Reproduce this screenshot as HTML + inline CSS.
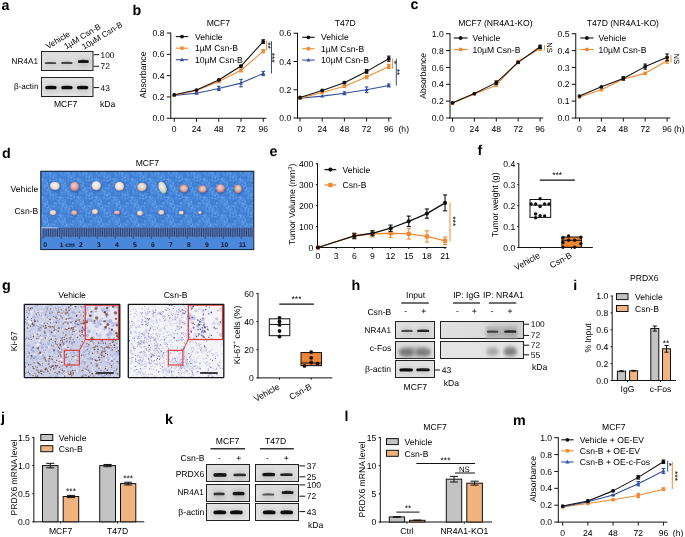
<!DOCTYPE html>
<html><head><meta charset="utf-8"><style>
html,body{margin:0;padding:0;background:#fff;width:685px;height:537px;overflow:hidden;}
svg{display:block;font-family:"Liberation Sans",sans-serif;text-rendering:geometricPrecision;will-change:transform;}
</style></head><body>
<svg width="685" height="537" viewBox="0 0 685 537" font-family="Liberation Sans, sans-serif" font-size="8.6" fill="#000"><defs><filter id="b1" x="-50%" y="-200%" width="200%" height="500%"><feGaussianBlur stdDeviation="0.6"/></filter><filter id="b2" x="-50%" y="-200%" width="200%" height="500%"><feGaussianBlur stdDeviation="1.0 1.4"/></filter><filter id="b3" x="-50%" y="-200%" width="200%" height="500%"><feGaussianBlur stdDeviation="1.6 2.2"/></filter><linearGradient id="gb" x1="0" y1="0" x2="0" y2="1"><stop offset="0" stop-color="#dcdcdc"/><stop offset="0.5" stop-color="#e0e0e0"/><stop offset="1" stop-color="#dadada"/></linearGradient><linearGradient id="gb2" x1="0" y1="0" x2="0" y2="1"><stop offset="0" stop-color="#e2e2e2"/><stop offset="1" stop-color="#e4e4e4"/></linearGradient><filter id="bh" x="-50%" y="-200%" width="200%" height="500%"><feGaussianBlur stdDeviation="2.2 2.8"/></filter><filter id="bc" x="-50%" y="-200%" width="200%" height="500%"><feGaussianBlur stdDeviation="0.75 0.55"/></filter><pattern id="cloth" width="18" height="18" patternUnits="userSpaceOnUse"><rect width="18" height="18" fill="#4886da"/><rect x="0.0" y="0.0" width="1.5" height="1.5" fill="#5592e0"/><rect x="0.0" y="1.5" width="1.5" height="1.5" fill="#3e7cd2"/><rect x="0.0" y="3.0" width="1.5" height="1.5" fill="#3e7cd2"/><rect x="0.0" y="4.5" width="1.5" height="1.5" fill="#60a0e8"/><rect x="0.0" y="7.5" width="1.5" height="1.5" fill="#5592e0"/><rect x="0.0" y="9.0" width="1.5" height="1.5" fill="#5592e0"/><rect x="0.0" y="12.0" width="1.5" height="1.5" fill="#5592e0"/><rect x="0.0" y="13.5" width="1.5" height="1.5" fill="#5592e0"/><rect x="0.0" y="16.5" width="1.5" height="1.5" fill="#3e7cd2"/><rect x="1.5" y="1.5" width="1.5" height="1.5" fill="#3e7cd2"/><rect x="1.5" y="4.5" width="1.5" height="1.5" fill="#5592e0"/><rect x="1.5" y="9.0" width="1.5" height="1.5" fill="#3e7cd2"/><rect x="1.5" y="13.5" width="1.5" height="1.5" fill="#5592e0"/><rect x="1.5" y="16.5" width="1.5" height="1.5" fill="#60a0e8"/><rect x="3.0" y="0.0" width="1.5" height="1.5" fill="#3e7cd2"/><rect x="3.0" y="1.5" width="1.5" height="1.5" fill="#5592e0"/><rect x="3.0" y="4.5" width="1.5" height="1.5" fill="#3e7cd2"/><rect x="3.0" y="12.0" width="1.5" height="1.5" fill="#3e7cd2"/><rect x="3.0" y="15.0" width="1.5" height="1.5" fill="#3e7cd2"/><rect x="4.5" y="1.5" width="1.5" height="1.5" fill="#5592e0"/><rect x="4.5" y="3.0" width="1.5" height="1.5" fill="#5592e0"/><rect x="4.5" y="4.5" width="1.5" height="1.5" fill="#5592e0"/><rect x="4.5" y="7.5" width="1.5" height="1.5" fill="#3e7cd2"/><rect x="4.5" y="10.5" width="1.5" height="1.5" fill="#3e7cd2"/><rect x="4.5" y="12.0" width="1.5" height="1.5" fill="#3e7cd2"/><rect x="4.5" y="13.5" width="1.5" height="1.5" fill="#3e7cd2"/><rect x="4.5" y="15.0" width="1.5" height="1.5" fill="#3e7cd2"/><rect x="4.5" y="16.5" width="1.5" height="1.5" fill="#60a0e8"/><rect x="6.0" y="0.0" width="1.5" height="1.5" fill="#60a0e8"/><rect x="6.0" y="10.5" width="1.5" height="1.5" fill="#5592e0"/><rect x="6.0" y="16.5" width="1.5" height="1.5" fill="#60a0e8"/><rect x="7.5" y="1.5" width="1.5" height="1.5" fill="#5592e0"/><rect x="7.5" y="4.5" width="1.5" height="1.5" fill="#60a0e8"/><rect x="7.5" y="6.0" width="1.5" height="1.5" fill="#5592e0"/><rect x="7.5" y="7.5" width="1.5" height="1.5" fill="#5592e0"/><rect x="7.5" y="12.0" width="1.5" height="1.5" fill="#5592e0"/><rect x="7.5" y="15.0" width="1.5" height="1.5" fill="#3e7cd2"/><rect x="7.5" y="16.5" width="1.5" height="1.5" fill="#5592e0"/><rect x="9.0" y="0.0" width="1.5" height="1.5" fill="#5592e0"/><rect x="9.0" y="4.5" width="1.5" height="1.5" fill="#5592e0"/><rect x="9.0" y="6.0" width="1.5" height="1.5" fill="#60a0e8"/><rect x="9.0" y="7.5" width="1.5" height="1.5" fill="#5592e0"/><rect x="9.0" y="10.5" width="1.5" height="1.5" fill="#3e7cd2"/><rect x="9.0" y="15.0" width="1.5" height="1.5" fill="#3e7cd2"/><rect x="10.5" y="0.0" width="1.5" height="1.5" fill="#3e7cd2"/><rect x="10.5" y="1.5" width="1.5" height="1.5" fill="#5592e0"/><rect x="10.5" y="3.0" width="1.5" height="1.5" fill="#60a0e8"/><rect x="10.5" y="4.5" width="1.5" height="1.5" fill="#5592e0"/><rect x="10.5" y="6.0" width="1.5" height="1.5" fill="#5592e0"/><rect x="10.5" y="7.5" width="1.5" height="1.5" fill="#3e7cd2"/><rect x="10.5" y="9.0" width="1.5" height="1.5" fill="#60a0e8"/><rect x="10.5" y="10.5" width="1.5" height="1.5" fill="#5592e0"/><rect x="10.5" y="12.0" width="1.5" height="1.5" fill="#5592e0"/><rect x="10.5" y="15.0" width="1.5" height="1.5" fill="#3e7cd2"/><rect x="12.0" y="1.5" width="1.5" height="1.5" fill="#3e7cd2"/><rect x="12.0" y="3.0" width="1.5" height="1.5" fill="#3e7cd2"/><rect x="12.0" y="4.5" width="1.5" height="1.5" fill="#3e7cd2"/><rect x="12.0" y="7.5" width="1.5" height="1.5" fill="#60a0e8"/><rect x="12.0" y="9.0" width="1.5" height="1.5" fill="#60a0e8"/><rect x="12.0" y="13.5" width="1.5" height="1.5" fill="#3e7cd2"/><rect x="12.0" y="15.0" width="1.5" height="1.5" fill="#3e7cd2"/><rect x="13.5" y="0.0" width="1.5" height="1.5" fill="#5592e0"/><rect x="13.5" y="1.5" width="1.5" height="1.5" fill="#3e7cd2"/><rect x="13.5" y="4.5" width="1.5" height="1.5" fill="#3e7cd2"/><rect x="13.5" y="6.0" width="1.5" height="1.5" fill="#3e7cd2"/><rect x="13.5" y="7.5" width="1.5" height="1.5" fill="#5592e0"/><rect x="13.5" y="9.0" width="1.5" height="1.5" fill="#3e7cd2"/><rect x="13.5" y="10.5" width="1.5" height="1.5" fill="#60a0e8"/><rect x="13.5" y="12.0" width="1.5" height="1.5" fill="#5592e0"/><rect x="13.5" y="13.5" width="1.5" height="1.5" fill="#60a0e8"/><rect x="13.5" y="16.5" width="1.5" height="1.5" fill="#5592e0"/><rect x="15.0" y="1.5" width="1.5" height="1.5" fill="#3e7cd2"/><rect x="15.0" y="4.5" width="1.5" height="1.5" fill="#3e7cd2"/><rect x="15.0" y="9.0" width="1.5" height="1.5" fill="#5592e0"/><rect x="15.0" y="10.5" width="1.5" height="1.5" fill="#5592e0"/><rect x="15.0" y="15.0" width="1.5" height="1.5" fill="#5592e0"/><rect x="15.0" y="16.5" width="1.5" height="1.5" fill="#3e7cd2"/><rect x="16.5" y="0.0" width="1.5" height="1.5" fill="#60a0e8"/><rect x="16.5" y="1.5" width="1.5" height="1.5" fill="#3e7cd2"/><rect x="16.5" y="3.0" width="1.5" height="1.5" fill="#3e7cd2"/><rect x="16.5" y="4.5" width="1.5" height="1.5" fill="#3e7cd2"/><rect x="16.5" y="6.0" width="1.5" height="1.5" fill="#3e7cd2"/><rect x="16.5" y="7.5" width="1.5" height="1.5" fill="#60a0e8"/><rect x="16.5" y="9.0" width="1.5" height="1.5" fill="#3e7cd2"/><rect x="16.5" y="10.5" width="1.5" height="1.5" fill="#3e7cd2"/><rect x="16.5" y="13.5" width="1.5" height="1.5" fill="#5592e0"/><rect x="16.5" y="15.0" width="1.5" height="1.5" fill="#60a0e8"/></pattern><radialGradient id="tw" cx="0.45" cy="0.4" r="0.6"><stop offset="0" stop-color="#fbf6ee"/><stop offset="0.7" stop-color="#eadcd0"/><stop offset="1" stop-color="#c9a9a0"/></radialGradient><radialGradient id="tp" cx="0.45" cy="0.4" r="0.6"><stop offset="0" stop-color="#f3d6d2"/><stop offset="0.6" stop-color="#dca3a0"/><stop offset="1" stop-color="#b87470"/></radialGradient><radialGradient id="tr" cx="0.5" cy="0.45" r="0.6"><stop offset="0" stop-color="#f0dcd4"/><stop offset="0.55" stop-color="#d8a8a0"/><stop offset="1" stop-color="#a86060"/></radialGradient><filter id="sh" x="-50%" y="-50%" width="200%" height="200%"><feGaussianBlur stdDeviation="0.9"/></filter><radialGradient id="tc" cx="0.45" cy="0.4" r="0.6"><stop offset="0" stop-color="#f6ece2"/><stop offset="0.7" stop-color="#e2c8b8"/><stop offset="1" stop-color="#b89084"/></radialGradient><radialGradient id="tg" cx="0.45" cy="0.4" r="0.6"><stop offset="0" stop-color="#f4f1e6"/><stop offset="0.7" stop-color="#d5d8c4"/><stop offset="1" stop-color="#a9b3a8"/></radialGradient><clipPath id="c24"><rect x="24.5" y="304.5" width="95.3" height="73.2"/></clipPath><clipPath id="c85"><rect x="85.5" y="304.5" width="33.8" height="35"/></clipPath><clipPath id="c128"><rect x="128.5" y="304.5" width="95" height="73.2"/></clipPath><clipPath id="c188"><rect x="188.5" y="304.5" width="34.6" height="35"/></clipPath><linearGradient id="gip" x1="0" y1="0" x2="1" y2="0"><stop offset="0" stop-color="#e0e0e0"/><stop offset="0.5" stop-color="#dcdcdc"/><stop offset="0.7" stop-color="#d2d2d2"/><stop offset="1" stop-color="#d0d0d0"/></linearGradient></defs><rect width="685" height="537" fill="#fff"/><text x="1.6" y="9.6" font-size="14.3" font-weight="bold">a</text>
<text x="48" y="49.3" font-size="8.2" transform="rotate(-31 48 49.3)">Vehicle</text>
<text x="66.2" y="49.3" font-size="8.2" transform="rotate(-31 66.2 49.3)">1µM Csn-B</text>
<text x="84" y="49.8" font-size="8.2" transform="rotate(-31 84 49.8)">10µM Csn-B</text>
<text x="38" y="64" font-size="8.2" text-anchor="end">NR4A1</text>
<text x="38.4" y="89.2" font-size="8.1" text-anchor="end">β-actin</text>
<rect x="41.5" y="51.5" width="51.5" height="19" fill="url(#gb)" stroke="#222" stroke-width="1"/>
<ellipse cx="50.6" cy="64" rx="7.75" ry="4.1" fill="#000" opacity="0.06" filter="url(#bh)"/>
<path d="M45.45 62.26 Q50.6 61.66 55.75 62.26 A1.1 1.1 0 0 1 55.75 64.1 Q50.6 63.98 45.45 64.1 A1.1 1.1 0 0 1 45.45 62.26Z" fill="#4a4a4a" filter="url(#bc)"/>
<ellipse cx="66.9" cy="63.9" rx="7.75" ry="4.15" fill="#000" opacity="0.06" filter="url(#bh)"/>
<path d="M61.8 62.11 Q66.9 61.51 72 62.11 A1.15 1.15 0 0 1 72 64.05 Q66.9 63.93 61.8 64.05 A1.15 1.15 0 0 1 61.8 62.11Z" fill="#444" filter="url(#bc)"/>
<ellipse cx="83.4" cy="62.4" rx="7.75" ry="4.6" fill="#000" opacity="0.12" filter="url(#bh)"/>
<path d="M78.75 60.16 Q83.4 59.56 88.05 60.16 A1.6 1.6 0 0 1 88.05 63 Q83.4 62.88 78.75 63 A1.6 1.6 0 0 1 78.75 60.16Z" fill="#141414" filter="url(#bc)"/>
<rect x="41.5" y="77.5" width="51.5" height="19" fill="url(#gb2)" stroke="#222" stroke-width="1"/>
<ellipse cx="50.9" cy="88.4" rx="8" ry="4.8" fill="#000" opacity="0.1" filter="url(#bh)"/>
<path d="M46.2 85.96 Q50.9 85.36 55.6 85.96 A1.8 1.8 0 0 1 55.6 89.2 Q50.9 89.08 46.2 89.2 A1.8 1.8 0 0 1 46.2 85.96Z" fill="#0c0c0c" filter="url(#bc)"/>
<ellipse cx="66.9" cy="88.4" rx="8" ry="4.8" fill="#000" opacity="0.1" filter="url(#bh)"/>
<path d="M62.2 85.96 Q66.9 85.36 71.6 85.96 A1.8 1.8 0 0 1 71.6 89.2 Q66.9 89.08 62.2 89.2 A1.8 1.8 0 0 1 62.2 85.96Z" fill="#0c0c0c" filter="url(#bc)"/>
<ellipse cx="82.6" cy="88.4" rx="8" ry="4.8" fill="#000" opacity="0.1" filter="url(#bh)"/>
<path d="M77.9 85.96 Q82.6 85.36 87.3 85.96 A1.8 1.8 0 0 1 87.3 89.2 Q82.6 89.08 77.9 89.2 A1.8 1.8 0 0 1 77.9 85.96Z" fill="#0c0c0c" filter="url(#bc)"/>
<line x1="93.6" y1="54.7" x2="99.2" y2="54.7" stroke="#111" stroke-width="1"/>
<text x="100.6" y="57.69" font-size="8.3">100</text>
<line x1="93.6" y1="66.3" x2="99.2" y2="66.3" stroke="#111" stroke-width="1"/>
<text x="100.6" y="69.29" font-size="8.3">72</text>
<line x1="93.6" y1="87.6" x2="99.2" y2="87.6" stroke="#111" stroke-width="1"/>
<text x="100.6" y="90.59" font-size="8.3">43</text>
<text x="65.6" y="106.6" text-anchor="middle">MCF7</text>
<text x="100" y="106.6">kDa</text>
<text x="132.4" y="14.6" font-size="14.3" font-weight="bold">b</text>
<line x1="170.75" y1="32.55" x2="170.75" y2="118.75" stroke="#111" stroke-width="1"/>
<line x1="166.75" y1="118.25" x2="170.75" y2="118.25" stroke="#111" stroke-width="1"/>
<text x="164.55" y="121.35" text-anchor="end">0.0</text>
<line x1="166.75" y1="96.95" x2="170.75" y2="96.95" stroke="#111" stroke-width="1"/>
<text x="164.55" y="100.05" text-anchor="end">0.2</text>
<line x1="166.75" y1="75.65" x2="170.75" y2="75.65" stroke="#111" stroke-width="1"/>
<text x="164.55" y="78.75" text-anchor="end">0.4</text>
<line x1="166.75" y1="54.35" x2="170.75" y2="54.35" stroke="#111" stroke-width="1"/>
<text x="164.55" y="57.45" text-anchor="end">0.6</text>
<line x1="166.75" y1="33.05" x2="170.75" y2="33.05" stroke="#111" stroke-width="1"/>
<text x="164.55" y="36.15" text-anchor="end">0.8</text>
<line x1="170.25" y1="118.25" x2="266.5" y2="118.25" stroke="#111" stroke-width="1"/>
<line x1="174.25" y1="118.25" x2="174.25" y2="121.75" stroke="#111" stroke-width="1"/>
<text x="174.25" y="131.75" text-anchor="middle">0</text>
<line x1="196.5" y1="118.25" x2="196.5" y2="121.75" stroke="#111" stroke-width="1"/>
<text x="196.5" y="131.75" text-anchor="middle">24</text>
<line x1="218.75" y1="118.25" x2="218.75" y2="121.75" stroke="#111" stroke-width="1"/>
<text x="218.75" y="131.75" text-anchor="middle">48</text>
<line x1="241" y1="118.25" x2="241" y2="121.75" stroke="#111" stroke-width="1"/>
<text x="241" y="131.75" text-anchor="middle">72</text>
<line x1="263.25" y1="118.25" x2="263.25" y2="121.75" stroke="#111" stroke-width="1"/>
<text x="263.25" y="131.75" text-anchor="middle">96</text>
<text x="218.4" y="25.7" text-anchor="middle">MCF7</text>
<text x="146.5" y="74.8" font-size="8.8" text-anchor="middle" transform="rotate(-90 146.5 74.8)">Absorbance</text>
<polyline points="174.25,95.35 196.5,93.22 218.75,88.43 241,83.1 263.25,73.52" fill="none" stroke="#304f9c" stroke-width="1.1" stroke-linejoin="round"/>
<line x1="196.5" y1="93.75" x2="196.5" y2="92.69" stroke="#304f9c" stroke-width="1.1"/>
<line x1="194.7" y1="93.75" x2="198.3" y2="93.75" stroke="#304f9c" stroke-width="1.1"/>
<line x1="194.7" y1="92.69" x2="198.3" y2="92.69" stroke="#304f9c" stroke-width="1.1"/>
<line x1="218.75" y1="90.56" x2="218.75" y2="86.3" stroke="#304f9c" stroke-width="1.1"/>
<line x1="216.95" y1="90.56" x2="220.55" y2="90.56" stroke="#304f9c" stroke-width="1.1"/>
<line x1="216.95" y1="86.3" x2="220.55" y2="86.3" stroke="#304f9c" stroke-width="1.1"/>
<line x1="241" y1="86.83" x2="241" y2="79.38" stroke="#304f9c" stroke-width="1.1"/>
<line x1="239.2" y1="86.83" x2="242.8" y2="86.83" stroke="#304f9c" stroke-width="1.1"/>
<line x1="239.2" y1="79.38" x2="242.8" y2="79.38" stroke="#304f9c" stroke-width="1.1"/>
<line x1="263.25" y1="75.65" x2="263.25" y2="71.39" stroke="#304f9c" stroke-width="1.1"/>
<line x1="261.45" y1="75.65" x2="265.05" y2="75.65" stroke="#304f9c" stroke-width="1.1"/>
<line x1="261.45" y1="71.39" x2="265.05" y2="71.39" stroke="#304f9c" stroke-width="1.1"/>
<polygon points="174.25,93.15 176.25,96.85 172.25,96.85" fill="#304f9c"/>
<polygon points="196.5,91.02 198.5,94.72 194.5,94.72" fill="#304f9c"/>
<polygon points="218.75,86.23 220.75,89.93 216.75,89.93" fill="#304f9c"/>
<polygon points="241,80.9 243,84.6 239,84.6" fill="#304f9c"/>
<polygon points="263.25,71.32 265.25,75.02 261.25,75.02" fill="#304f9c"/>
<polyline points="174.25,95.35 196.5,90.56 218.75,81.51 241,70.32 263.25,51.16" fill="none" stroke="#ef8a34" stroke-width="1.1" stroke-linejoin="round"/>
<line x1="218.75" y1="82.36" x2="218.75" y2="80.66" stroke="#ef8a34" stroke-width="1.1"/>
<line x1="216.95" y1="82.36" x2="220.55" y2="82.36" stroke="#ef8a34" stroke-width="1.1"/>
<line x1="216.95" y1="80.66" x2="220.55" y2="80.66" stroke="#ef8a34" stroke-width="1.1"/>
<line x1="241" y1="71.92" x2="241" y2="68.73" stroke="#ef8a34" stroke-width="1.1"/>
<line x1="239.2" y1="71.92" x2="242.8" y2="71.92" stroke="#ef8a34" stroke-width="1.1"/>
<line x1="239.2" y1="68.73" x2="242.8" y2="68.73" stroke="#ef8a34" stroke-width="1.1"/>
<line x1="263.25" y1="52.75" x2="263.25" y2="49.56" stroke="#ef8a34" stroke-width="1.1"/>
<line x1="261.45" y1="52.75" x2="265.05" y2="52.75" stroke="#ef8a34" stroke-width="1.1"/>
<line x1="261.45" y1="49.56" x2="265.05" y2="49.56" stroke="#ef8a34" stroke-width="1.1"/>
<rect x="172.55" y="93.65" width="3.4" height="3.4" fill="#ef8a34"/>
<rect x="194.8" y="88.86" width="3.4" height="3.4" fill="#ef8a34"/>
<rect x="217.05" y="79.81" width="3.4" height="3.4" fill="#ef8a34"/>
<rect x="239.3" y="68.62" width="3.4" height="3.4" fill="#ef8a34"/>
<rect x="261.55" y="49.45" width="3.4" height="3.4" fill="#ef8a34"/>
<polyline points="174.25,94.82 196.5,90.03 218.75,79.91 241,66.06 263.25,41.57" fill="none" stroke="#111" stroke-width="1.1" stroke-linejoin="round"/>
<line x1="218.75" y1="80.44" x2="218.75" y2="79.38" stroke="#111" stroke-width="1.1"/>
<line x1="216.95" y1="80.44" x2="220.55" y2="80.44" stroke="#111" stroke-width="1.1"/>
<line x1="216.95" y1="79.38" x2="220.55" y2="79.38" stroke="#111" stroke-width="1.1"/>
<line x1="241" y1="66.92" x2="241" y2="65.21" stroke="#111" stroke-width="1.1"/>
<line x1="239.2" y1="66.92" x2="242.8" y2="66.92" stroke="#111" stroke-width="1.1"/>
<line x1="239.2" y1="65.21" x2="242.8" y2="65.21" stroke="#111" stroke-width="1.1"/>
<line x1="263.25" y1="43.38" x2="263.25" y2="39.76" stroke="#111" stroke-width="1.1"/>
<line x1="261.45" y1="43.38" x2="265.05" y2="43.38" stroke="#111" stroke-width="1.1"/>
<line x1="261.45" y1="39.76" x2="265.05" y2="39.76" stroke="#111" stroke-width="1.1"/>
<circle cx="174.25" cy="94.82" r="1.9" fill="#111"/>
<circle cx="196.5" cy="90.03" r="1.9" fill="#111"/>
<circle cx="218.75" cy="79.91" r="1.9" fill="#111"/>
<circle cx="241" cy="66.06" r="1.9" fill="#111"/>
<circle cx="263.25" cy="41.57" r="1.9" fill="#111"/>
<line x1="175.8" y1="36.6" x2="188.2" y2="36.6" stroke="#111" stroke-width="1.1"/>
<circle cx="182" cy="36.6" r="1.9" fill="#111"/>
<text x="194.9" y="39.7">Vehicle</text>
<line x1="175.8" y1="48.2" x2="188.2" y2="48.2" stroke="#ef8a34" stroke-width="1.1"/>
<rect x="180.3" y="46.5" width="3.4" height="3.4" fill="#ef8a34"/>
<text x="194.9" y="51.3">1µM Csn-B</text>
<line x1="175.8" y1="59.7" x2="188.2" y2="59.7" stroke="#304f9c" stroke-width="1.1"/>
<polygon points="182,57.5 184,61.2 180,61.2" fill="#304f9c"/>
<text x="194.9" y="62.8">10µM Csn-B</text>
<line x1="266.6" y1="40.7" x2="266.6" y2="50.6" stroke="#ef8a34" stroke-width="1"/>
<text x="265.03" y="45.6" text-anchor="middle" transform="rotate(90 265.03 45.6)">**</text>
<line x1="271.5" y1="41.2" x2="271.5" y2="73.5" stroke="#304f9c" stroke-width="1"/>
<text x="269.23" y="57.7" text-anchor="middle" transform="rotate(90 269.23 57.7)">***</text>
<line x1="297.5" y1="32.75" x2="297.5" y2="118.5" stroke="#111" stroke-width="1"/>
<line x1="293.5" y1="118" x2="297.5" y2="118" stroke="#111" stroke-width="1"/>
<text x="291.3" y="121.1" text-anchor="end">0.0</text>
<line x1="293.5" y1="89.75" x2="297.5" y2="89.75" stroke="#111" stroke-width="1"/>
<text x="291.3" y="92.85" text-anchor="end">0.2</text>
<line x1="293.5" y1="61.5" x2="297.5" y2="61.5" stroke="#111" stroke-width="1"/>
<text x="291.3" y="64.6" text-anchor="end">0.4</text>
<line x1="293.5" y1="33.25" x2="297.5" y2="33.25" stroke="#111" stroke-width="1"/>
<text x="291.3" y="36.35" text-anchor="end">0.6</text>
<line x1="297" y1="118" x2="391.75" y2="118" stroke="#111" stroke-width="1"/>
<line x1="300" y1="118" x2="300" y2="121.5" stroke="#111" stroke-width="1"/>
<text x="300" y="131.5" text-anchor="middle">0</text>
<line x1="322.2" y1="118" x2="322.2" y2="121.5" stroke="#111" stroke-width="1"/>
<text x="322.2" y="131.5" text-anchor="middle">24</text>
<line x1="344.4" y1="118" x2="344.4" y2="121.5" stroke="#111" stroke-width="1"/>
<text x="344.4" y="131.5" text-anchor="middle">48</text>
<line x1="366.6" y1="118" x2="366.6" y2="121.5" stroke="#111" stroke-width="1"/>
<text x="366.6" y="131.5" text-anchor="middle">72</text>
<line x1="388.8" y1="118" x2="388.8" y2="121.5" stroke="#111" stroke-width="1"/>
<text x="388.8" y="131.5" text-anchor="middle">96</text>
<text x="345.2" y="25.7" text-anchor="middle">T47D</text>
<text x="398.5" y="131.5">(h)</text>
<polyline points="300,98.22 322.2,96.11 344.4,93.28 366.6,89.75 388.8,85.51" fill="none" stroke="#304f9c" stroke-width="1.1" stroke-linejoin="round"/>
<line x1="344.4" y1="94.69" x2="344.4" y2="91.87" stroke="#304f9c" stroke-width="1.1"/>
<line x1="342.6" y1="94.69" x2="346.2" y2="94.69" stroke="#304f9c" stroke-width="1.1"/>
<line x1="342.6" y1="91.87" x2="346.2" y2="91.87" stroke="#304f9c" stroke-width="1.1"/>
<line x1="366.6" y1="92.57" x2="366.6" y2="86.92" stroke="#304f9c" stroke-width="1.1"/>
<line x1="364.8" y1="92.57" x2="368.4" y2="92.57" stroke="#304f9c" stroke-width="1.1"/>
<line x1="364.8" y1="86.92" x2="368.4" y2="86.92" stroke="#304f9c" stroke-width="1.1"/>
<line x1="388.8" y1="86.92" x2="388.8" y2="84.1" stroke="#304f9c" stroke-width="1.1"/>
<line x1="387" y1="86.92" x2="390.6" y2="86.92" stroke="#304f9c" stroke-width="1.1"/>
<line x1="387" y1="84.1" x2="390.6" y2="84.1" stroke="#304f9c" stroke-width="1.1"/>
<polygon points="300,96.02 302,99.72 298,99.72" fill="#304f9c"/>
<polygon points="322.2,93.91 324.2,97.61 320.2,97.61" fill="#304f9c"/>
<polygon points="344.4,91.08 346.4,94.78 342.4,94.78" fill="#304f9c"/>
<polygon points="366.6,87.55 368.6,91.25 364.6,91.25" fill="#304f9c"/>
<polygon points="388.8,83.31 390.8,87.01 386.8,87.01" fill="#304f9c"/>
<polyline points="300,98.22 322.2,92.58 344.4,86.22 366.6,77.04 388.8,66.44" fill="none" stroke="#ef8a34" stroke-width="1.1" stroke-linejoin="round"/>
<line x1="344.4" y1="87.07" x2="344.4" y2="85.37" stroke="#ef8a34" stroke-width="1.1"/>
<line x1="342.6" y1="87.07" x2="346.2" y2="87.07" stroke="#ef8a34" stroke-width="1.1"/>
<line x1="342.6" y1="85.37" x2="346.2" y2="85.37" stroke="#ef8a34" stroke-width="1.1"/>
<line x1="366.6" y1="78.73" x2="366.6" y2="75.34" stroke="#ef8a34" stroke-width="1.1"/>
<line x1="364.8" y1="78.73" x2="368.4" y2="78.73" stroke="#ef8a34" stroke-width="1.1"/>
<line x1="364.8" y1="75.34" x2="368.4" y2="75.34" stroke="#ef8a34" stroke-width="1.1"/>
<line x1="388.8" y1="68.56" x2="388.8" y2="64.33" stroke="#ef8a34" stroke-width="1.1"/>
<line x1="387" y1="68.56" x2="390.6" y2="68.56" stroke="#ef8a34" stroke-width="1.1"/>
<line x1="387" y1="64.33" x2="390.6" y2="64.33" stroke="#ef8a34" stroke-width="1.1"/>
<rect x="298.3" y="96.52" width="3.4" height="3.4" fill="#ef8a34"/>
<rect x="320.5" y="90.88" width="3.4" height="3.4" fill="#ef8a34"/>
<rect x="342.7" y="84.52" width="3.4" height="3.4" fill="#ef8a34"/>
<rect x="364.9" y="75.34" width="3.4" height="3.4" fill="#ef8a34"/>
<rect x="387.1" y="64.74" width="3.4" height="3.4" fill="#ef8a34"/>
<polyline points="300,97.52 322.2,90.46 344.4,82.69 366.6,71.39 388.8,58.68" fill="none" stroke="#111" stroke-width="1.1" stroke-linejoin="round"/>
<line x1="344.4" y1="83.39" x2="344.4" y2="81.98" stroke="#111" stroke-width="1.1"/>
<line x1="342.6" y1="83.39" x2="346.2" y2="83.39" stroke="#111" stroke-width="1.1"/>
<line x1="342.6" y1="81.98" x2="346.2" y2="81.98" stroke="#111" stroke-width="1.1"/>
<line x1="366.6" y1="73.22" x2="366.6" y2="69.55" stroke="#111" stroke-width="1.1"/>
<line x1="364.8" y1="73.22" x2="368.4" y2="73.22" stroke="#111" stroke-width="1.1"/>
<line x1="364.8" y1="69.55" x2="368.4" y2="69.55" stroke="#111" stroke-width="1.1"/>
<line x1="388.8" y1="61.22" x2="388.8" y2="56.13" stroke="#111" stroke-width="1.1"/>
<line x1="387" y1="61.22" x2="390.6" y2="61.22" stroke="#111" stroke-width="1.1"/>
<line x1="387" y1="56.13" x2="390.6" y2="56.13" stroke="#111" stroke-width="1.1"/>
<circle cx="300" cy="97.52" r="1.9" fill="#111"/>
<circle cx="322.2" cy="90.46" r="1.9" fill="#111"/>
<circle cx="344.4" cy="82.69" r="1.9" fill="#111"/>
<circle cx="366.6" cy="71.39" r="1.9" fill="#111"/>
<circle cx="388.8" cy="58.68" r="1.9" fill="#111"/>
<line x1="302.3" y1="37.3" x2="314.6" y2="37.3" stroke="#111" stroke-width="1.1"/>
<circle cx="308.45" cy="37.3" r="1.9" fill="#111"/>
<text x="321" y="40.4">Vehicle</text>
<line x1="302.3" y1="48.7" x2="314.6" y2="48.7" stroke="#ef8a34" stroke-width="1.1"/>
<rect x="306.75" y="47" width="3.4" height="3.4" fill="#ef8a34"/>
<text x="321" y="51.8">1µM Csn-B</text>
<line x1="302.3" y1="60.1" x2="314.6" y2="60.1" stroke="#304f9c" stroke-width="1.1"/>
<polygon points="308.45,57.9 310.45,61.6 306.45,61.6" fill="#304f9c"/>
<text x="321" y="63.2">10µM Csn-B</text>
<line x1="392.6" y1="58.8" x2="392.6" y2="68.8" stroke="#ef8a34" stroke-width="1"/>
<text x="390.73" y="62.5" text-anchor="middle" transform="rotate(90 390.73 62.5)">*</text>
<line x1="396.3" y1="58.8" x2="396.3" y2="85.5" stroke="#304f9c" stroke-width="1"/>
<text x="394.13" y="72" text-anchor="middle" transform="rotate(90 394.13 72)">**</text>
<text x="410.6" y="9.2" font-size="14.3" font-weight="bold">c</text>
<line x1="450" y1="33.25" x2="450" y2="118.5" stroke="#111" stroke-width="1"/>
<line x1="446" y1="118" x2="450" y2="118" stroke="#111" stroke-width="1"/>
<text x="443.8" y="121.1" text-anchor="end">0.0</text>
<line x1="446" y1="101.15" x2="450" y2="101.15" stroke="#111" stroke-width="1"/>
<text x="443.8" y="104.25" text-anchor="end">0.2</text>
<line x1="446" y1="84.3" x2="450" y2="84.3" stroke="#111" stroke-width="1"/>
<text x="443.8" y="87.4" text-anchor="end">0.4</text>
<line x1="446" y1="67.45" x2="450" y2="67.45" stroke="#111" stroke-width="1"/>
<text x="443.8" y="70.55" text-anchor="end">0.6</text>
<line x1="446" y1="50.6" x2="450" y2="50.6" stroke="#111" stroke-width="1"/>
<text x="443.8" y="53.7" text-anchor="end">0.8</text>
<line x1="446" y1="33.75" x2="450" y2="33.75" stroke="#111" stroke-width="1"/>
<text x="443.8" y="36.85" text-anchor="end">1.0</text>
<line x1="449.5" y1="118" x2="543.25" y2="118" stroke="#111" stroke-width="1"/>
<line x1="452.5" y1="118" x2="452.5" y2="121.5" stroke="#111" stroke-width="1"/>
<text x="452.5" y="131.5" text-anchor="middle">0</text>
<line x1="474.4" y1="118" x2="474.4" y2="121.5" stroke="#111" stroke-width="1"/>
<text x="474.4" y="131.5" text-anchor="middle">24</text>
<line x1="496.3" y1="118" x2="496.3" y2="121.5" stroke="#111" stroke-width="1"/>
<text x="496.3" y="131.5" text-anchor="middle">48</text>
<line x1="518.2" y1="118" x2="518.2" y2="121.5" stroke="#111" stroke-width="1"/>
<text x="518.2" y="131.5" text-anchor="middle">72</text>
<line x1="540.1" y1="118" x2="540.1" y2="121.5" stroke="#111" stroke-width="1"/>
<text x="540.1" y="131.5" text-anchor="middle">96</text>
<text x="495.4" y="25.7" text-anchor="middle">MCF7 (NR4A1-KO)</text>
<text x="426" y="75.8" text-anchor="middle" transform="rotate(-90 426 75.8)">Absorbance</text>
<polyline points="452.5,103.26 474.4,93.99 496.3,85.14 518.2,61.55 540.1,48.49" fill="none" stroke="#ef8a34" stroke-width="1.1" stroke-linejoin="round"/>
<line x1="496.3" y1="85.82" x2="496.3" y2="84.47" stroke="#ef8a34" stroke-width="1.1"/>
<line x1="494.5" y1="85.82" x2="498.1" y2="85.82" stroke="#ef8a34" stroke-width="1.1"/>
<line x1="494.5" y1="84.47" x2="498.1" y2="84.47" stroke="#ef8a34" stroke-width="1.1"/>
<line x1="518.2" y1="62.23" x2="518.2" y2="60.88" stroke="#ef8a34" stroke-width="1.1"/>
<line x1="516.4" y1="62.23" x2="520" y2="62.23" stroke="#ef8a34" stroke-width="1.1"/>
<line x1="516.4" y1="60.88" x2="520" y2="60.88" stroke="#ef8a34" stroke-width="1.1"/>
<line x1="540.1" y1="50.18" x2="540.1" y2="46.81" stroke="#ef8a34" stroke-width="1.1"/>
<line x1="538.3" y1="50.18" x2="541.9" y2="50.18" stroke="#ef8a34" stroke-width="1.1"/>
<line x1="538.3" y1="46.81" x2="541.9" y2="46.81" stroke="#ef8a34" stroke-width="1.1"/>
<rect x="450.8" y="101.56" width="3.4" height="3.4" fill="#ef8a34"/>
<rect x="472.7" y="92.29" width="3.4" height="3.4" fill="#ef8a34"/>
<rect x="494.6" y="83.44" width="3.4" height="3.4" fill="#ef8a34"/>
<rect x="516.5" y="59.85" width="3.4" height="3.4" fill="#ef8a34"/>
<rect x="538.4" y="46.79" width="3.4" height="3.4" fill="#ef8a34"/>
<polyline points="452.5,102.84 474.4,93.57 496.3,82.62 518.2,62.39 540.1,46.81" fill="none" stroke="#111" stroke-width="1.1" stroke-linejoin="round"/>
<line x1="496.3" y1="84.3" x2="496.3" y2="80.93" stroke="#111" stroke-width="1.1"/>
<line x1="494.5" y1="84.3" x2="498.1" y2="84.3" stroke="#111" stroke-width="1.1"/>
<line x1="494.5" y1="80.93" x2="498.1" y2="80.93" stroke="#111" stroke-width="1.1"/>
<line x1="518.2" y1="62.82" x2="518.2" y2="61.97" stroke="#111" stroke-width="1.1"/>
<line x1="516.4" y1="62.82" x2="520" y2="62.82" stroke="#111" stroke-width="1.1"/>
<line x1="516.4" y1="61.97" x2="520" y2="61.97" stroke="#111" stroke-width="1.1"/>
<line x1="540.1" y1="48.49" x2="540.1" y2="45.12" stroke="#111" stroke-width="1.1"/>
<line x1="538.3" y1="48.49" x2="541.9" y2="48.49" stroke="#111" stroke-width="1.1"/>
<line x1="538.3" y1="45.12" x2="541.9" y2="45.12" stroke="#111" stroke-width="1.1"/>
<circle cx="452.5" cy="102.84" r="1.9" fill="#111"/>
<circle cx="474.4" cy="93.57" r="1.9" fill="#111"/>
<circle cx="496.3" cy="82.62" r="1.9" fill="#111"/>
<circle cx="518.2" cy="62.39" r="1.9" fill="#111"/>
<circle cx="540.1" cy="46.81" r="1.9" fill="#111"/>
<line x1="453.8" y1="38" x2="467.5" y2="38" stroke="#111" stroke-width="1.1"/>
<circle cx="460.65" cy="38" r="1.9" fill="#111"/>
<text x="472.5" y="41.1">Vehicle</text>
<line x1="453.8" y1="49.5" x2="467.5" y2="49.5" stroke="#ef8a34" stroke-width="1.1"/>
<rect x="458.95" y="47.8" width="3.4" height="3.4" fill="#ef8a34"/>
<text x="472.5" y="52.6">10µM Csn-B</text>
<line x1="544.6" y1="45.2" x2="544.6" y2="50.4" stroke="#ef8a34" stroke-width="1"/>
<text x="546.6" y="47.5" font-size="7.6" text-anchor="middle" transform="rotate(90 546.6 47.5)">NS</text>
<line x1="575.75" y1="33.25" x2="575.75" y2="118.5" stroke="#111" stroke-width="1"/>
<line x1="571.75" y1="118" x2="575.75" y2="118" stroke="#111" stroke-width="1"/>
<text x="569.55" y="121.1" text-anchor="end">0.0</text>
<line x1="571.75" y1="101.15" x2="575.75" y2="101.15" stroke="#111" stroke-width="1"/>
<text x="569.55" y="104.25" text-anchor="end">0.1</text>
<line x1="571.75" y1="84.3" x2="575.75" y2="84.3" stroke="#111" stroke-width="1"/>
<text x="569.55" y="87.4" text-anchor="end">0.2</text>
<line x1="571.75" y1="67.45" x2="575.75" y2="67.45" stroke="#111" stroke-width="1"/>
<text x="569.55" y="70.55" text-anchor="end">0.3</text>
<line x1="571.75" y1="50.6" x2="575.75" y2="50.6" stroke="#111" stroke-width="1"/>
<text x="569.55" y="53.7" text-anchor="end">0.4</text>
<line x1="571.75" y1="33.75" x2="575.75" y2="33.75" stroke="#111" stroke-width="1"/>
<text x="569.55" y="36.85" text-anchor="end">0.5</text>
<line x1="575.25" y1="118" x2="670.25" y2="118" stroke="#111" stroke-width="1"/>
<line x1="579.5" y1="118" x2="579.5" y2="121.5" stroke="#111" stroke-width="1"/>
<text x="579.5" y="131.5" text-anchor="middle">0</text>
<line x1="601.4" y1="118" x2="601.4" y2="121.5" stroke="#111" stroke-width="1"/>
<text x="601.4" y="131.5" text-anchor="middle">24</text>
<line x1="623.3" y1="118" x2="623.3" y2="121.5" stroke="#111" stroke-width="1"/>
<text x="623.3" y="131.5" text-anchor="middle">48</text>
<line x1="645.2" y1="118" x2="645.2" y2="121.5" stroke="#111" stroke-width="1"/>
<text x="645.2" y="131.5" text-anchor="middle">72</text>
<line x1="667.1" y1="118" x2="667.1" y2="121.5" stroke="#111" stroke-width="1"/>
<text x="667.1" y="131.5" text-anchor="middle">96</text>
<text x="622.9" y="25.7" text-anchor="middle">T47D (NR4A1-KO)</text>
<text x="674" y="131.5">(h)</text>
<polyline points="579.5,96.94 601.4,89.69 623.3,78.91 645.2,73.35 667.1,60.71" fill="none" stroke="#ef8a34" stroke-width="1.1" stroke-linejoin="round"/>
<line x1="623.3" y1="79.75" x2="623.3" y2="78.07" stroke="#ef8a34" stroke-width="1.1"/>
<line x1="621.5" y1="79.75" x2="625.1" y2="79.75" stroke="#ef8a34" stroke-width="1.1"/>
<line x1="621.5" y1="78.07" x2="625.1" y2="78.07" stroke="#ef8a34" stroke-width="1.1"/>
<line x1="645.2" y1="74.19" x2="645.2" y2="72.5" stroke="#ef8a34" stroke-width="1.1"/>
<line x1="643.4" y1="74.19" x2="647" y2="74.19" stroke="#ef8a34" stroke-width="1.1"/>
<line x1="643.4" y1="72.5" x2="647" y2="72.5" stroke="#ef8a34" stroke-width="1.1"/>
<line x1="667.1" y1="63.24" x2="667.1" y2="58.18" stroke="#ef8a34" stroke-width="1.1"/>
<line x1="665.3" y1="63.24" x2="668.9" y2="63.24" stroke="#ef8a34" stroke-width="1.1"/>
<line x1="665.3" y1="58.18" x2="668.9" y2="58.18" stroke="#ef8a34" stroke-width="1.1"/>
<rect x="577.8" y="95.24" width="3.4" height="3.4" fill="#ef8a34"/>
<rect x="599.7" y="87.99" width="3.4" height="3.4" fill="#ef8a34"/>
<rect x="621.6" y="77.21" width="3.4" height="3.4" fill="#ef8a34"/>
<rect x="643.5" y="71.65" width="3.4" height="3.4" fill="#ef8a34"/>
<rect x="665.4" y="59.01" width="3.4" height="3.4" fill="#ef8a34"/>
<polyline points="579.5,96.09 601.4,86.83 623.3,78.4 645.2,66.61 667.1,57.34" fill="none" stroke="#111" stroke-width="1.1" stroke-linejoin="round"/>
<line x1="623.3" y1="80.09" x2="623.3" y2="76.72" stroke="#111" stroke-width="1.1"/>
<line x1="621.5" y1="80.09" x2="625.1" y2="80.09" stroke="#111" stroke-width="1.1"/>
<line x1="621.5" y1="76.72" x2="625.1" y2="76.72" stroke="#111" stroke-width="1.1"/>
<line x1="645.2" y1="69.14" x2="645.2" y2="64.08" stroke="#111" stroke-width="1.1"/>
<line x1="643.4" y1="69.14" x2="647" y2="69.14" stroke="#111" stroke-width="1.1"/>
<line x1="643.4" y1="64.08" x2="647" y2="64.08" stroke="#111" stroke-width="1.1"/>
<line x1="667.1" y1="60.71" x2="667.1" y2="53.97" stroke="#111" stroke-width="1.1"/>
<line x1="665.3" y1="60.71" x2="668.9" y2="60.71" stroke="#111" stroke-width="1.1"/>
<line x1="665.3" y1="53.97" x2="668.9" y2="53.97" stroke="#111" stroke-width="1.1"/>
<circle cx="579.5" cy="96.09" r="1.9" fill="#111"/>
<circle cx="601.4" cy="86.83" r="1.9" fill="#111"/>
<circle cx="623.3" cy="78.4" r="1.9" fill="#111"/>
<circle cx="645.2" cy="66.61" r="1.9" fill="#111"/>
<circle cx="667.1" cy="57.34" r="1.9" fill="#111"/>
<line x1="580.3" y1="38" x2="593.5" y2="38" stroke="#111" stroke-width="1.1"/>
<circle cx="586.9" cy="38" r="1.9" fill="#111"/>
<text x="598.5" y="41.1">Vehicle</text>
<line x1="580.3" y1="49.5" x2="593.5" y2="49.5" stroke="#ef8a34" stroke-width="1.1"/>
<rect x="585.2" y="47.8" width="3.4" height="3.4" fill="#ef8a34"/>
<text x="598.5" y="52.6">10µM Csn-B</text>
<line x1="671" y1="55" x2="671" y2="62.5" stroke="#ef8a34" stroke-width="1"/>
<text x="673.6" y="58.8" font-size="7.6" text-anchor="middle" transform="rotate(90 673.6 58.8)">NS</text>
<text x="2" y="158.2" font-size="14.3" font-weight="bold">d</text>
<text x="147.4" y="166.3" text-anchor="middle">MCF7</text>
<text x="38.3" y="191.8" text-anchor="end">Vehicle</text>
<text x="38.3" y="214.4" text-anchor="end">Csn-B</text>
<rect x="40.8" y="171.3" width="212.9" height="78.2" fill="url(#cloth)" stroke="#1c2a44" stroke-width="1.2"/>
<rect x="41.4" y="227.6" width="211.8" height="21.4" fill="#4a88dc"/>
<rect x="41.4" y="227.6" width="211.8" height="9.6" fill="#5f86c8"/>
<path d="M43.2 227.8v11 M45 227.8v9 M46.8 227.8v9 M48.6 227.8v9 M50.4 227.8v9 M52.2 227.8v9.5 M54 227.8v9 M55.8 227.8v9 M57.6 227.8v9 M59.4 227.8v9 M61.2 227.8v11 M63 227.8v9 M64.8 227.8v9 M66.6 227.8v9 M68.4 227.8v9 M70.2 227.8v9.5 M72 227.8v9 M73.8 227.8v9 M75.6 227.8v9 M77.4 227.8v9 M79.2 227.8v11 M81 227.8v9 M82.8 227.8v9 M84.6 227.8v9 M86.4 227.8v9 M88.2 227.8v9.5 M90 227.8v9 M91.8 227.8v9 M93.6 227.8v9 M95.4 227.8v9 M97.2 227.8v11 M99 227.8v9 M100.8 227.8v9 M102.6 227.8v9 M104.4 227.8v9 M106.2 227.8v9.5 M108 227.8v9 M109.8 227.8v9 M111.6 227.8v9 M113.4 227.8v9 M115.2 227.8v11 M117 227.8v9 M118.8 227.8v9 M120.6 227.8v9 M122.4 227.8v9 M124.2 227.8v9.5 M126 227.8v9 M127.8 227.8v9 M129.6 227.8v9 M131.4 227.8v9 M133.2 227.8v11 M135 227.8v9 M136.8 227.8v9 M138.6 227.8v9 M140.4 227.8v9 M142.2 227.8v9.5 M144 227.8v9 M145.8 227.8v9 M147.6 227.8v9 M149.4 227.8v9 M151.2 227.8v11 M153 227.8v9 M154.8 227.8v9 M156.6 227.8v9 M158.4 227.8v9 M160.2 227.8v9.5 M162 227.8v9 M163.8 227.8v9 M165.6 227.8v9 M167.4 227.8v9 M169.2 227.8v11 M171 227.8v9 M172.8 227.8v9 M174.6 227.8v9 M176.4 227.8v9 M178.2 227.8v9.5 M180 227.8v9 M181.8 227.8v9 M183.6 227.8v9 M185.4 227.8v9 M187.2 227.8v11 M189 227.8v9 M190.8 227.8v9 M192.6 227.8v9 M194.4 227.8v9 M196.2 227.8v9.5 M198 227.8v9 M199.8 227.8v9 M201.6 227.8v9 M203.4 227.8v9 M205.2 227.8v11 M207 227.8v9 M208.8 227.8v9 M210.6 227.8v9 M212.4 227.8v9 M214.2 227.8v9.5 M216 227.8v9 M217.8 227.8v9 M219.6 227.8v9 M221.4 227.8v9 M223.2 227.8v11 M225 227.8v9 M226.8 227.8v9 M228.6 227.8v9 M230.4 227.8v9 M232.2 227.8v9.5 M234 227.8v9 M235.8 227.8v9 M237.6 227.8v9 M239.4 227.8v9 M241.2 227.8v11 M243 227.8v9 M244.8 227.8v9 M246.6 227.8v9 M248.4 227.8v9 M250.2 227.8v9.5 M252 227.8v9" stroke="#24355e" stroke-width="0.85" fill="none"/>
<line x1="41.4" y1="227.8" x2="58" y2="227.8" stroke="#d0e0ff" stroke-width="0.8"/>
<text x="45.2" y="247.4" font-size="6.8" text-anchor="middle" font-weight="bold" fill="#101830">0</text>
<text x="67.3" y="247.4" font-size="6.6" text-anchor="middle" font-weight="bold" fill="#101830">1 cm</text>
<text x="80.9" y="247.4" font-size="6.8" text-anchor="middle" font-weight="bold" fill="#101830">2</text>
<text x="98.8" y="247.4" font-size="6.8" text-anchor="middle" font-weight="bold" fill="#101830">3</text>
<text x="117" y="247.4" font-size="6.8" text-anchor="middle" font-weight="bold" fill="#101830">4</text>
<text x="135" y="247.4" font-size="6.8" text-anchor="middle" font-weight="bold" fill="#101830">5</text>
<text x="153" y="247.4" font-size="6.8" text-anchor="middle" font-weight="bold" fill="#101830">6</text>
<text x="171" y="247.4" font-size="6.8" text-anchor="middle" font-weight="bold" fill="#101830">7</text>
<text x="188.8" y="247.4" font-size="6.8" text-anchor="middle" font-weight="bold" fill="#101830">8</text>
<text x="207" y="247.4" font-size="6.8" text-anchor="middle" font-weight="bold" fill="#101830">9</text>
<text x="224.5" y="247.4" font-size="6.8" text-anchor="middle" font-weight="bold" fill="#101830">10</text>
<text x="242.5" y="247.4" font-size="6.8" text-anchor="middle" font-weight="bold" fill="#101830">11</text>
<ellipse cx="55.7" cy="187" rx="5.5" ry="4.6" fill="#1e4a96" opacity="0.55" filter="url(#sh)" transform="rotate(10 54.9 186)"/>
<ellipse cx="54.9" cy="186" rx="4.9" ry="4" fill="url(#tw)" transform="rotate(10 54.9 186)"/>
<ellipse cx="75.4" cy="187.5" rx="5.1" ry="5.2" fill="#1e4a96" opacity="0.55" filter="url(#sh)" transform="rotate(0 74.6 186.5)"/>
<ellipse cx="74.6" cy="186.5" rx="4.5" ry="4.6" fill="url(#tp)" transform="rotate(0 74.6 186.5)"/>
<ellipse cx="97.1" cy="186.8" rx="5.2" ry="5.1" fill="#1e4a96" opacity="0.55" filter="url(#sh)" transform="rotate(0 96.3 185.8)"/>
<ellipse cx="96.3" cy="185.8" rx="4.6" ry="4.5" fill="url(#tw)" transform="rotate(0 96.3 185.8)"/>
<ellipse cx="120.3" cy="187.3" rx="5.2" ry="5" fill="#1e4a96" opacity="0.55" filter="url(#sh)" transform="rotate(0 119.5 186.3)"/>
<ellipse cx="119.5" cy="186.3" rx="4.6" ry="4.4" fill="url(#tw)" transform="rotate(0 119.5 186.3)"/>
<ellipse cx="142.8" cy="188" rx="5.3" ry="4.9" fill="#1e4a96" opacity="0.55" filter="url(#sh)" transform="rotate(0 142 187)"/>
<ellipse cx="142" cy="187" rx="4.7" ry="4.3" fill="url(#tc)" transform="rotate(0 142 187)"/>
<ellipse cx="163.4" cy="188.6" rx="4.4" ry="6.8" fill="#1e4a96" opacity="0.55" filter="url(#sh)" transform="rotate(-22 162.6 187.6)"/>
<ellipse cx="162.6" cy="187.6" rx="3.8" ry="6.2" fill="url(#tg)" transform="rotate(-22 162.6 187.6)"/>
<ellipse cx="184.6" cy="189.5" rx="5" ry="4.6" fill="#1e4a96" opacity="0.55" filter="url(#sh)" transform="rotate(0 183.8 188.5)"/>
<ellipse cx="183.8" cy="188.5" rx="4.4" ry="4" fill="url(#tr)" transform="rotate(0 183.8 188.5)"/>
<ellipse cx="203.3" cy="190" rx="4.8" ry="4.4" fill="#1e4a96" opacity="0.55" filter="url(#sh)" transform="rotate(0 202.5 189)"/>
<ellipse cx="202.5" cy="189" rx="4.2" ry="3.8" fill="url(#tr)" transform="rotate(0 202.5 189)"/>
<ellipse cx="221.3" cy="189.3" rx="4.9" ry="4.7" fill="#1e4a96" opacity="0.55" filter="url(#sh)" transform="rotate(0 220.5 188.3)"/>
<ellipse cx="220.5" cy="188.3" rx="4.3" ry="4.1" fill="url(#tp)" transform="rotate(0 220.5 188.3)"/>
<ellipse cx="238.8" cy="189.8" rx="4.6" ry="5" fill="#1e4a96" opacity="0.55" filter="url(#sh)" transform="rotate(0 238 188.8)"/>
<ellipse cx="238" cy="188.8" rx="4" ry="4.4" fill="url(#tr)" transform="rotate(0 238 188.8)"/>
<ellipse cx="53.6" cy="213.5" rx="3.7" ry="3.1" fill="#1e4a96" opacity="0.5" filter="url(#sh)"/>
<ellipse cx="53" cy="212.7" rx="3.2" ry="2.6" fill="url(#tc)"/>
<ellipse cx="74.9" cy="213.6" rx="3.6" ry="3" fill="#1e4a96" opacity="0.5" filter="url(#sh)"/>
<ellipse cx="74.3" cy="212.8" rx="3.1" ry="2.5" fill="url(#tp)"/>
<ellipse cx="95.6" cy="212.6" rx="3.5" ry="3.2" fill="#1e4a96" opacity="0.5" filter="url(#sh)"/>
<ellipse cx="95" cy="211.8" rx="3" ry="2.7" fill="url(#tc)"/>
<ellipse cx="117.6" cy="213.4" rx="3.6" ry="2.5" fill="#1e4a96" opacity="0.5" filter="url(#sh)"/>
<ellipse cx="117" cy="212.6" rx="3.1" ry="2" fill="url(#tp)"/>
<ellipse cx="140.6" cy="214" rx="3.4" ry="3.1" fill="#1e4a96" opacity="0.5" filter="url(#sh)"/>
<ellipse cx="140" cy="213.2" rx="2.9" ry="2.6" fill="url(#tc)"/>
<ellipse cx="161.9" cy="213.3" rx="3.4" ry="2.9" fill="#1e4a96" opacity="0.5" filter="url(#sh)"/>
<ellipse cx="161.3" cy="212.5" rx="2.9" ry="2.4" fill="url(#tc)"/>
<ellipse cx="181.9" cy="213.6" rx="3" ry="2.5" fill="#1e4a96" opacity="0.5" filter="url(#sh)"/>
<ellipse cx="181.3" cy="212.8" rx="2.5" ry="2" fill="url(#tc)"/>
<ellipse cx="200.6" cy="213.3" rx="2.3" ry="2" fill="#1e4a96" opacity="0.5" filter="url(#sh)"/>
<ellipse cx="200" cy="212.5" rx="1.8" ry="1.5" fill="url(#tc)"/>
<text x="269.6" y="156.4" font-size="14.3" font-weight="bold">e</text>
<line x1="317.5" y1="163.24" x2="317.5" y2="248" stroke="#111" stroke-width="1"/>
<line x1="315.9" y1="247.5" x2="317.5" y2="247.5" stroke="#111" stroke-width="1"/>
<text x="313.3" y="250.6" text-anchor="end">0</text>
<line x1="315.9" y1="226.56" x2="317.5" y2="226.56" stroke="#111" stroke-width="1"/>
<text x="313.3" y="229.66" text-anchor="end">100</text>
<line x1="315.9" y1="205.62" x2="317.5" y2="205.62" stroke="#111" stroke-width="1"/>
<text x="313.3" y="208.72" text-anchor="end">200</text>
<line x1="315.9" y1="184.68" x2="317.5" y2="184.68" stroke="#111" stroke-width="1"/>
<text x="313.3" y="187.78" text-anchor="end">300</text>
<line x1="315.9" y1="163.74" x2="317.5" y2="163.74" stroke="#111" stroke-width="1"/>
<text x="313.3" y="166.84" text-anchor="end">400</text>
<line x1="317" y1="247.5" x2="446.5" y2="247.5" stroke="#111" stroke-width="1"/>
<line x1="318" y1="247.5" x2="318" y2="249" stroke="#111" stroke-width="1"/>
<text x="318" y="258.7" text-anchor="middle">0</text>
<line x1="336.15" y1="247.5" x2="336.15" y2="249" stroke="#111" stroke-width="1"/>
<text x="336.15" y="258.7" text-anchor="middle">3</text>
<line x1="354.3" y1="247.5" x2="354.3" y2="249" stroke="#111" stroke-width="1"/>
<text x="354.3" y="258.7" text-anchor="middle">6</text>
<line x1="372.45" y1="247.5" x2="372.45" y2="249" stroke="#111" stroke-width="1"/>
<text x="372.45" y="258.7" text-anchor="middle">9</text>
<line x1="390.6" y1="247.5" x2="390.6" y2="249" stroke="#111" stroke-width="1"/>
<text x="390.6" y="258.7" text-anchor="middle">12</text>
<line x1="408.75" y1="247.5" x2="408.75" y2="249" stroke="#111" stroke-width="1"/>
<text x="408.75" y="258.7" text-anchor="middle">15</text>
<line x1="426.9" y1="247.5" x2="426.9" y2="249" stroke="#111" stroke-width="1"/>
<text x="426.9" y="258.7" text-anchor="middle">18</text>
<line x1="445.05" y1="247.5" x2="445.05" y2="249" stroke="#111" stroke-width="1"/>
<text x="445.05" y="258.7" text-anchor="middle">21</text>
<text x="294.8" y="204.3" text-anchor="middle" transform="rotate(-90 294.8 204.3)">Tumor Volume (mm<tspan font-size="5.6" dy="-3.2">3</tspan><tspan dy="3.2">)</tspan></text>
<polyline points="318,247.5 354.3,235.98 372.45,233.89 390.6,233.26 408.75,233.89 426.9,236.4 445.05,240.8" fill="none" stroke="#ef8a34" stroke-width="1.3" stroke-linejoin="round"/>
<line x1="354.3" y1="238.08" x2="354.3" y2="233.89" stroke="#ef8a34" stroke-width="1.1"/>
<line x1="352.2" y1="238.08" x2="356.4" y2="238.08" stroke="#ef8a34" stroke-width="1.1"/>
<line x1="352.2" y1="233.89" x2="356.4" y2="233.89" stroke="#ef8a34" stroke-width="1.1"/>
<line x1="372.45" y1="237.03" x2="372.45" y2="230.75" stroke="#ef8a34" stroke-width="1.1"/>
<line x1="370.35" y1="237.03" x2="374.55" y2="237.03" stroke="#ef8a34" stroke-width="1.1"/>
<line x1="370.35" y1="230.75" x2="374.55" y2="230.75" stroke="#ef8a34" stroke-width="1.1"/>
<line x1="390.6" y1="237.45" x2="390.6" y2="229.07" stroke="#ef8a34" stroke-width="1.1"/>
<line x1="388.5" y1="237.45" x2="392.7" y2="237.45" stroke="#ef8a34" stroke-width="1.1"/>
<line x1="388.5" y1="229.07" x2="392.7" y2="229.07" stroke="#ef8a34" stroke-width="1.1"/>
<line x1="408.75" y1="239.12" x2="408.75" y2="228.65" stroke="#ef8a34" stroke-width="1.1"/>
<line x1="406.65" y1="239.12" x2="410.85" y2="239.12" stroke="#ef8a34" stroke-width="1.1"/>
<line x1="406.65" y1="228.65" x2="410.85" y2="228.65" stroke="#ef8a34" stroke-width="1.1"/>
<line x1="426.9" y1="242.06" x2="426.9" y2="230.75" stroke="#ef8a34" stroke-width="1.1"/>
<line x1="424.8" y1="242.06" x2="429" y2="242.06" stroke="#ef8a34" stroke-width="1.1"/>
<line x1="424.8" y1="230.75" x2="429" y2="230.75" stroke="#ef8a34" stroke-width="1.1"/>
<line x1="445.05" y1="244.57" x2="445.05" y2="237.03" stroke="#ef8a34" stroke-width="1.1"/>
<line x1="442.95" y1="244.57" x2="447.15" y2="244.57" stroke="#ef8a34" stroke-width="1.1"/>
<line x1="442.95" y1="237.03" x2="447.15" y2="237.03" stroke="#ef8a34" stroke-width="1.1"/>
<rect x="315.88" y="245.38" width="4.25" height="4.25" fill="#ef8a34"/>
<rect x="352.18" y="233.86" width="4.25" height="4.25" fill="#ef8a34"/>
<rect x="370.32" y="231.76" width="4.25" height="4.25" fill="#ef8a34"/>
<rect x="388.48" y="231.14" width="4.25" height="4.25" fill="#ef8a34"/>
<rect x="406.62" y="231.76" width="4.25" height="4.25" fill="#ef8a34"/>
<rect x="424.77" y="234.28" width="4.25" height="4.25" fill="#ef8a34"/>
<rect x="442.93" y="238.67" width="4.25" height="4.25" fill="#ef8a34"/>
<polyline points="318,247.5 354.3,235.98 372.45,233.26 390.6,228.24 408.75,221.32 426.9,213.58 445.05,202.9" fill="none" stroke="#111" stroke-width="1.3" stroke-linejoin="round"/>
<line x1="354.3" y1="238.71" x2="354.3" y2="233.26" stroke="#111" stroke-width="1.1"/>
<line x1="352.2" y1="238.71" x2="356.4" y2="238.71" stroke="#111" stroke-width="1.1"/>
<line x1="352.2" y1="233.26" x2="356.4" y2="233.26" stroke="#111" stroke-width="1.1"/>
<line x1="372.45" y1="235.77" x2="372.45" y2="230.75" stroke="#111" stroke-width="1.1"/>
<line x1="370.35" y1="235.77" x2="374.55" y2="235.77" stroke="#111" stroke-width="1.1"/>
<line x1="370.35" y1="230.75" x2="374.55" y2="230.75" stroke="#111" stroke-width="1.1"/>
<line x1="390.6" y1="231.38" x2="390.6" y2="225.09" stroke="#111" stroke-width="1.1"/>
<line x1="388.5" y1="231.38" x2="392.7" y2="231.38" stroke="#111" stroke-width="1.1"/>
<line x1="388.5" y1="225.09" x2="392.7" y2="225.09" stroke="#111" stroke-width="1.1"/>
<line x1="408.75" y1="226.56" x2="408.75" y2="216.09" stroke="#111" stroke-width="1.1"/>
<line x1="406.65" y1="226.56" x2="410.85" y2="226.56" stroke="#111" stroke-width="1.1"/>
<line x1="406.65" y1="216.09" x2="410.85" y2="216.09" stroke="#111" stroke-width="1.1"/>
<line x1="426.9" y1="218.18" x2="426.9" y2="208.97" stroke="#111" stroke-width="1.1"/>
<line x1="424.8" y1="218.18" x2="429" y2="218.18" stroke="#111" stroke-width="1.1"/>
<line x1="424.8" y1="208.97" x2="429" y2="208.97" stroke="#111" stroke-width="1.1"/>
<line x1="445.05" y1="210.85" x2="445.05" y2="194.94" stroke="#111" stroke-width="1.1"/>
<line x1="442.95" y1="210.85" x2="447.15" y2="210.85" stroke="#111" stroke-width="1.1"/>
<line x1="442.95" y1="194.94" x2="447.15" y2="194.94" stroke="#111" stroke-width="1.1"/>
<circle cx="318" cy="247.5" r="2.09" fill="#111"/>
<circle cx="354.3" cy="235.98" r="2.09" fill="#111"/>
<circle cx="372.45" cy="233.26" r="2.09" fill="#111"/>
<circle cx="390.6" cy="228.24" r="2.09" fill="#111"/>
<circle cx="408.75" cy="221.32" r="2.09" fill="#111"/>
<circle cx="426.9" cy="213.58" r="2.09" fill="#111"/>
<circle cx="445.05" cy="202.9" r="2.09" fill="#111"/>
<line x1="324.5" y1="169.6" x2="336.3" y2="169.6" stroke="#111" stroke-width="1.3"/>
<circle cx="330.4" cy="169.6" r="2.09" fill="#111"/>
<text x="342.5" y="172.7">Vehicle</text>
<line x1="324.5" y1="185" x2="336.3" y2="185" stroke="#ef8a34" stroke-width="1.3"/>
<rect x="328.27" y="182.88" width="4.25" height="4.25" fill="#ef8a34"/>
<text x="342.5" y="188.1">Csn-B</text>
<line x1="450" y1="202.5" x2="450" y2="241.3" stroke="#ef8a34" stroke-width="1"/>
<text x="449.93" y="221.3" text-anchor="middle" transform="rotate(90 449.93 221.3)">***</text>
<text x="477.6" y="155.2" font-size="14.3" font-weight="bold">f</text>
<line x1="518.8" y1="163.24" x2="518.8" y2="248" stroke="#111" stroke-width="1"/>
<line x1="517.2" y1="247.5" x2="518.8" y2="247.5" stroke="#111" stroke-width="1"/>
<text x="515.2" y="250.6" text-anchor="end">0.0</text>
<line x1="517.2" y1="226.56" x2="518.8" y2="226.56" stroke="#111" stroke-width="1"/>
<text x="515.2" y="229.66" text-anchor="end">0.1</text>
<line x1="517.2" y1="205.62" x2="518.8" y2="205.62" stroke="#111" stroke-width="1"/>
<text x="515.2" y="208.72" text-anchor="end">0.2</text>
<line x1="517.2" y1="184.68" x2="518.8" y2="184.68" stroke="#111" stroke-width="1"/>
<text x="515.2" y="187.78" text-anchor="end">0.3</text>
<line x1="517.2" y1="163.74" x2="518.8" y2="163.74" stroke="#111" stroke-width="1"/>
<text x="515.2" y="166.84" text-anchor="end">0.4</text>
<line x1="518.3" y1="247.5" x2="592.8" y2="247.5" stroke="#111" stroke-width="1"/>
<line x1="540.3" y1="247.5" x2="540.3" y2="249.2" stroke="#111" stroke-width="1"/>
<line x1="571.5" y1="247.5" x2="571.5" y2="249.2" stroke="#111" stroke-width="1"/>
<text x="498.3" y="204.8" text-anchor="middle" transform="rotate(-90 498.3 204.8)">Tumor weight (g)</text>
<rect x="530" y="199.5" width="20.7" height="17.9" fill="#fff" stroke="#111" stroke-width="1"/>
<line x1="530" y1="205.1" x2="550.7" y2="205.1" stroke="#111" stroke-width="1"/>
<rect x="561.9" y="237" width="19.5" height="10.3" fill="#ee8434" stroke="#111" stroke-width="1"/>
<line x1="561.9" y1="240.3" x2="581.4" y2="240.3" stroke="#111" stroke-width="1"/>
<circle cx="540.1" cy="198.7" r="1.7" fill="#111"/>
<circle cx="531.1" cy="204" r="1.7" fill="#111"/>
<circle cx="535.6" cy="204" r="1.7" fill="#111"/>
<circle cx="544.6" cy="204" r="1.7" fill="#111"/>
<circle cx="549" cy="204" r="1.7" fill="#111"/>
<circle cx="540.1" cy="206.5" r="1.7" fill="#111"/>
<circle cx="535.6" cy="214" r="1.7" fill="#111"/>
<circle cx="540.1" cy="215.7" r="1.7" fill="#111"/>
<circle cx="544.6" cy="216" r="1.7" fill="#111"/>
<circle cx="535.6" cy="217.7" r="1.7" fill="#111"/>
<circle cx="568.6" cy="236" r="1.7" fill="#111"/>
<circle cx="563" cy="237.8" r="1.7" fill="#111"/>
<circle cx="580.9" cy="237.2" r="1.7" fill="#111"/>
<circle cx="568.6" cy="240.3" r="1.7" fill="#111"/>
<circle cx="574.7" cy="240.3" r="1.7" fill="#111"/>
<circle cx="563" cy="242.5" r="1.7" fill="#111"/>
<circle cx="580.9" cy="243.6" r="1.7" fill="#111"/>
<circle cx="563" cy="247.3" r="1.7" fill="#111"/>
<circle cx="574.7" cy="247.3" r="1.7" fill="#111"/>
<line x1="539.8" y1="180.2" x2="574.9" y2="180.2" stroke="#111" stroke-width="1.3"/>
<text x="557.2" y="177.7" text-anchor="middle">***</text>
<text x="540.6" y="257.3" text-anchor="end" transform="rotate(-29 540.6 257.3)">Vehicle</text>
<text x="572.6" y="257" text-anchor="end" transform="rotate(-29 572.6 257)">Csn-B</text>
<text x="2" y="290.3" font-size="14.3" font-weight="bold">g</text>
<text x="72" y="298.4" text-anchor="middle">Vehicle</text>
<text x="175.6" y="298.4" text-anchor="middle">Csn-B</text>
<text x="16.8" y="341.3" text-anchor="middle" transform="rotate(-90 16.8 341.3)">Ki-67</text>
<g clip-path="url(#c24)"><rect x="24.5" y="304.5" width="95.3" height="73.2" fill="#ccd0e6"/><circle cx="42.61" cy="323.58" r="1.1" fill="#eeeef6"/><circle cx="36.05" cy="365" r="0.79" fill="#eeeef6"/><circle cx="31.38" cy="307.36" r="1.09" fill="#e8e8f2"/><circle cx="109.89" cy="359.61" r="1.33" fill="#eeeef6"/><circle cx="113.65" cy="299.58" r="1.16" fill="#eeeef6"/><circle cx="86.62" cy="317.88" r="1.08" fill="#e0e2f0"/><circle cx="87.95" cy="335.08" r="1.22" fill="#e0e2f0"/><circle cx="39.9" cy="353.42" r="1.23" fill="#e8e8f2"/><circle cx="34.47" cy="354.21" r="1.09" fill="#e8e8f2"/><circle cx="83.95" cy="337.15" r="1.01" fill="#eeeef6"/><circle cx="79.93" cy="337.04" r="0.92" fill="#e8e8f2"/><circle cx="58.45" cy="360.23" r="1.03" fill="#eeeef6"/><circle cx="116.32" cy="344.64" r="0.82" fill="#e8e8f2"/><circle cx="28.78" cy="341.01" r="1.09" fill="#e0e2f0"/><circle cx="31.1" cy="311.73" r="1.04" fill="#eeeef6"/><circle cx="35.04" cy="340.77" r="1.25" fill="#e0e2f0"/><circle cx="46.53" cy="338.42" r="1.07" fill="#e0e2f0"/><circle cx="23.43" cy="323.74" r="0.78" fill="#e0e2f0"/><circle cx="41.21" cy="314.06" r="0.87" fill="#e8e8f2"/><circle cx="28.52" cy="343.47" r="0.7" fill="#e8e8f2"/><circle cx="36.73" cy="323.3" r="0.72" fill="#e8e8f2"/><circle cx="45.77" cy="353.92" r="1.46" fill="#e0e2f0"/><circle cx="102.12" cy="326.23" r="1.09" fill="#eeeef6"/><circle cx="81.77" cy="332.04" r="0.78" fill="#eeeef6"/><circle cx="71.25" cy="375.23" r="1.11" fill="#e8e8f2"/><circle cx="68.22" cy="316.79" r="1.43" fill="#e0e2f0"/><circle cx="96.45" cy="331.77" r="1.26" fill="#eeeef6"/><circle cx="73.23" cy="312.06" r="1.32" fill="#e0e2f0"/><circle cx="31.57" cy="313.78" r="0.88" fill="#e8e8f2"/><circle cx="42.16" cy="311.01" r="0.88" fill="#e0e2f0"/><circle cx="84.11" cy="333.02" r="0.72" fill="#eeeef6"/><circle cx="84.63" cy="341.86" r="1.47" fill="#eeeef6"/><circle cx="114.16" cy="323.95" r="0.88" fill="#e8e8f2"/><circle cx="87.29" cy="335.97" r="1.2" fill="#e0e2f0"/><circle cx="42.99" cy="316.77" r="1.34" fill="#e8e8f2"/><circle cx="106.41" cy="360.14" r="1.27" fill="#e8e8f2"/><circle cx="92.4" cy="327.25" r="1.21" fill="#e8e8f2"/><circle cx="24.48" cy="315.62" r="0.77" fill="#e8e8f2"/><circle cx="33.18" cy="311.07" r="1.17" fill="#eeeef6"/><circle cx="77.43" cy="336.24" r="1.48" fill="#e0e2f0"/><circle cx="112.34" cy="332.6" r="0.72" fill="#e0e2f0"/><circle cx="79.09" cy="333.04" r="0.81" fill="#e8e8f2"/><circle cx="70.8" cy="365.82" r="1.1" fill="#e0e2f0"/><circle cx="117.01" cy="314.76" r="0.8" fill="#e0e2f0"/><circle cx="116.43" cy="319.88" r="1.35" fill="#e0e2f0"/><circle cx="62.1" cy="352.28" r="0.8" fill="#e8e8f2"/><circle cx="59.32" cy="308.21" r="1.32" fill="#e0e2f0"/><circle cx="56.16" cy="311.84" r="0.81" fill="#e0e2f0"/><circle cx="22.88" cy="339.61" r="1.11" fill="#e0e2f0"/><circle cx="86.26" cy="328.71" r="1.15" fill="#e8e8f2"/><circle cx="62.47" cy="376.2" r="1.11" fill="#e0e2f0"/><circle cx="56.55" cy="301.03" r="1.05" fill="#e0e2f0"/><circle cx="72.21" cy="306.38" r="0.92" fill="#e0e2f0"/><circle cx="33.78" cy="312.24" r="0.9" fill="#e0e2f0"/><circle cx="100.33" cy="367.38" r="0.86" fill="#eeeef6"/><circle cx="20.66" cy="339.53" r="0.95" fill="#e0e2f0"/><circle cx="30.96" cy="322.82" r="0.94" fill="#e8e8f2"/><circle cx="39.51" cy="332.73" r="0.99" fill="#eeeef6"/><circle cx="33.99" cy="335.3" r="1.46" fill="#eeeef6"/><circle cx="92.02" cy="340.11" r="0.88" fill="#e0e2f0"/><circle cx="62.62" cy="363.99" r="1.04" fill="#eeeef6"/><circle cx="124.39" cy="311.35" r="0.97" fill="#eeeef6"/><circle cx="39.27" cy="340.86" r="1.11" fill="#eeeef6"/><circle cx="80.77" cy="308.31" r="1.43" fill="#e8e8f2"/><circle cx="35.93" cy="344.29" r="1.42" fill="#e8e8f2"/><circle cx="84.87" cy="361.68" r="1.38" fill="#e0e2f0"/><circle cx="75.46" cy="378.42" r="1.11" fill="#eeeef6"/><circle cx="120.04" cy="309.12" r="1.25" fill="#eeeef6"/><circle cx="75.38" cy="332.47" r="0.77" fill="#eeeef6"/><circle cx="70.84" cy="328.33" r="0.91" fill="#e8e8f2"/><circle cx="69.23" cy="348.61" r="1.03" fill="#eeeef6"/><circle cx="61.66" cy="353.21" r="0.89" fill="#e8e8f2"/><circle cx="30.75" cy="315.29" r="1.45" fill="#e0e2f0"/><circle cx="73.78" cy="332.67" r="1.06" fill="#e0e2f0"/><circle cx="29.17" cy="322.93" r="1.5" fill="#e8e8f2"/><circle cx="65.47" cy="316.45" r="1.48" fill="#e0e2f0"/><circle cx="85.64" cy="338.93" r="1.23" fill="#e0e2f0"/><circle cx="47.93" cy="357.35" r="1.41" fill="#e0e2f0"/><circle cx="70.2" cy="316.22" r="0.97" fill="#e0e2f0"/><circle cx="84.22" cy="341.73" r="1.49" fill="#e8e8f2"/><circle cx="68.09" cy="320.2" r="0.9" fill="#e8e8f2"/><circle cx="100.73" cy="316.2" r="1.4" fill="#e0e2f0"/><circle cx="68.78" cy="327.65" r="0.74" fill="#e8e8f2"/><circle cx="31.07" cy="311.7" r="0.99" fill="#eeeef6"/><circle cx="29.17" cy="321.14" r="1.41" fill="#e8e8f2"/><circle cx="109.48" cy="331.13" r="0.77" fill="#eeeef6"/><circle cx="73.09" cy="304.96" r="1.32" fill="#e8e8f2"/><circle cx="86.25" cy="370.52" r="1.17" fill="#eeeef6"/><circle cx="51.65" cy="324.38" r="0.77" fill="#e0e2f0"/><circle cx="20.6" cy="327.5" r="1.4" fill="#eeeef6"/><circle cx="115.7" cy="300.35" r="0.93" fill="#e0e2f0"/><circle cx="77.52" cy="336.15" r="1.27" fill="#e0e2f0"/><circle cx="55.66" cy="330.85" r="1.1" fill="#e0e2f0"/><circle cx="62.43" cy="304.06" r="0.71" fill="#e0e2f0"/><circle cx="93.35" cy="325.88" r="1.46" fill="#e0e2f0"/><circle cx="38.46" cy="321.82" r="1.21" fill="#e8e8f2"/><circle cx="43.88" cy="305.89" r="1.2" fill="#e0e2f0"/><circle cx="25.98" cy="312.65" r="0.7" fill="#e8e8f2"/><circle cx="79.72" cy="307.36" r="1.12" fill="#e0e2f0"/><circle cx="85.34" cy="334.35" r="0.91" fill="#e0e2f0"/><circle cx="66.46" cy="374.5" r="1.07" fill="#eeeef6"/><circle cx="62.67" cy="332.58" r="1.31" fill="#e0e2f0"/><circle cx="65.54" cy="324.38" r="0.82" fill="#eeeef6"/><circle cx="67.38" cy="320.83" r="1.15" fill="#e8e8f2"/><circle cx="91.69" cy="333.7" r="1.24" fill="#e0e2f0"/><circle cx="61.76" cy="360.15" r="1.11" fill="#eeeef6"/><circle cx="37.51" cy="347.77" r="1.41" fill="#e8e8f2"/><circle cx="99.43" cy="331.42" r="0.71" fill="#eeeef6"/><circle cx="85.14" cy="315.62" r="1.06" fill="#eeeef6"/><circle cx="43.41" cy="328.52" r="0.87" fill="#e0e2f0"/><circle cx="82.14" cy="337.51" r="1.46" fill="#e8e8f2"/><circle cx="58.81" cy="340.26" r="1.41" fill="#e0e2f0"/><circle cx="108.45" cy="339.67" r="1.09" fill="#e8e8f2"/><circle cx="41.13" cy="311.31" r="1.06" fill="#eeeef6"/><circle cx="20.87" cy="339.46" r="0.8" fill="#eeeef6"/><circle cx="51.84" cy="320.88" r="1.02" fill="#e8e8f2"/><circle cx="61.14" cy="312.38" r="1" fill="#eeeef6"/><circle cx="49.69" cy="313.06" r="0.99" fill="#eeeef6"/><circle cx="88.54" cy="369.63" r="0.74" fill="#e0e2f0"/><circle cx="76.28" cy="330.73" r="1.48" fill="#eeeef6"/><circle cx="70.78" cy="319.49" r="1.33" fill="#eeeef6"/><circle cx="59.96" cy="306.94" r="1.43" fill="#e0e2f0"/><circle cx="31.19" cy="322.16" r="1.45" fill="#eeeef6"/><circle cx="38.21" cy="344.69" r="1.4" fill="#eeeef6"/><circle cx="95.76" cy="305.43" r="0.84" fill="#eeeef6"/><circle cx="116.23" cy="312.87" r="1.29" fill="#e0e2f0"/><circle cx="79.03" cy="376.58" r="1.09" fill="#e0e2f0"/><circle cx="47.24" cy="319.59" r="0.76" fill="#e0e2f0"/><circle cx="76.44" cy="329.51" r="0.97" fill="#eeeef6"/><circle cx="57.48" cy="367.55" r="0.77" fill="#eeeef6"/><circle cx="35.51" cy="322.21" r="0.91" fill="#e0e2f0"/><circle cx="75.8" cy="357.89" r="1.03" fill="#eeeef6"/><circle cx="78.39" cy="314.16" r="1.3" fill="#eeeef6"/><circle cx="77.06" cy="371.07" r="1.25" fill="#e0e2f0"/><circle cx="71.87" cy="314.05" r="0.77" fill="#e8e8f2"/><circle cx="30.72" cy="317.34" r="1.46" fill="#e8e8f2"/><circle cx="41.28" cy="338.33" r="1.42" fill="#eeeef6"/><circle cx="86.01" cy="335.96" r="1.44" fill="#e0e2f0"/><circle cx="48.11" cy="346.21" r="0.79" fill="#e8e8f2"/><circle cx="15.22" cy="334.85" r="1.45" fill="#e0e2f0"/><circle cx="78.06" cy="314.95" r="0.77" fill="#e8e8f2"/><circle cx="56.62" cy="310.85" r="1.44" fill="#e0e2f0"/><circle cx="91.2" cy="331.37" r="1.12" fill="#eeeef6"/><circle cx="35.91" cy="344.9" r="1.45" fill="#e8e8f2"/><circle cx="37.21" cy="324.74" r="0.7" fill="#e0e2f0"/><circle cx="86.43" cy="333.42" r="0.95" fill="#e8e8f2"/><circle cx="74.74" cy="330.4" r="0.72" fill="#eeeef6"/><circle cx="67.05" cy="327.74" r="1.1" fill="#e0e2f0"/><circle cx="61.89" cy="328.89" r="1.23" fill="#eeeef6"/><circle cx="23.08" cy="321.29" r="1.27" fill="#eeeef6"/><circle cx="99.41" cy="356.13" r="0.93" fill="#e0e2f0"/><circle cx="81.87" cy="348.02" r="0.95" fill="#e8e8f2"/><circle cx="29.73" cy="321.97" r="1.41" fill="#e8e8f2"/><circle cx="48.92" cy="347.48" r="0.88" fill="#eeeef6"/><circle cx="111.02" cy="358.74" r="1.44" fill="#e8e8f2"/><circle cx="76.38" cy="366.34" r="1.03" fill="#e0e2f0"/><circle cx="90.31" cy="316.39" r="1.27" fill="#eeeef6"/><circle cx="49.89" cy="341.41" r="0.96" fill="#e8e8f2"/><circle cx="80.76" cy="322.16" r="0.73" fill="#e0e2f0"/><circle cx="51.45" cy="296.95" r="1.05" fill="#e8e8f2"/><circle cx="58.46" cy="316.82" r="1.04" fill="#e8e8f2"/><circle cx="35.88" cy="318.58" r="0.99" fill="#eeeef6"/><circle cx="65.32" cy="369.64" r="0.86" fill="#e0e2f0"/><circle cx="44.58" cy="352.95" r="1.42" fill="#e8e8f2"/><circle cx="54.41" cy="332.84" r="1.31" fill="#e8e8f2"/><circle cx="41.26" cy="313.64" r="1.44" fill="#eeeef6"/><circle cx="64.64" cy="350.93" r="0.97" fill="#eeeef6"/><circle cx="129" cy="305.51" r="0.91" fill="#e0e2f0"/><circle cx="123.94" cy="305.37" r="1.28" fill="#e0e2f0"/><circle cx="70.66" cy="325.64" r="1.36" fill="#e8e8f2"/><circle cx="83.33" cy="324.55" r="1.32" fill="#eeeef6"/><circle cx="55.71" cy="361.01" r="1.1" fill="#e8e8f2"/><circle cx="86.02" cy="323.36" r="1.19" fill="#eeeef6"/><circle cx="102.98" cy="310.72" r="1.18" fill="#e0e2f0"/><circle cx="61.02" cy="367.47" r="1.03" fill="#e0e2f0"/><circle cx="75.85" cy="310.75" r="0.83" fill="#eeeef6"/><circle cx="36.74" cy="341.25" r="0.77" fill="#e8e8f2"/><circle cx="40.41" cy="364.34" r="1.06" fill="#e8e8f2"/><circle cx="17.73" cy="340.82" r="1.24" fill="#e0e2f0"/><circle cx="37.43" cy="311.59" r="0.8" fill="#eeeef6"/><circle cx="78.25" cy="338.65" r="0.9" fill="#eeeef6"/><circle cx="59.85" cy="366.6" r="0.89" fill="#eeeef6"/><circle cx="90.53" cy="338.03" r="0.9" fill="#e8e8f2"/><circle cx="64.45" cy="307.53" r="0.78" fill="#eeeef6"/><circle cx="94.32" cy="314.28" r="1.36" fill="#eeeef6"/><circle cx="113.24" cy="327.08" r="0.8" fill="#e8e8f2"/><circle cx="65.62" cy="345.89" r="1.44" fill="#eeeef6"/><circle cx="82.94" cy="303.73" r="0.91" fill="#e0e2f0"/><circle cx="64.45" cy="321.01" r="1.2" fill="#e8e8f2"/><circle cx="83.32" cy="312.47" r="0.86" fill="#eeeef6"/><circle cx="76.43" cy="304.21" r="0.86" fill="#e8e8f2"/><circle cx="110.58" cy="311.35" r="1.2" fill="#e8e8f2"/><circle cx="74.8" cy="366.54" r="1.09" fill="#eeeef6"/><circle cx="33.63" cy="332.31" r="0.82" fill="#e0e2f0"/><circle cx="70.63" cy="325.83" r="0.92" fill="#eeeef6"/><circle cx="92.69" cy="370.91" r="0.95" fill="#e0e2f0"/><circle cx="104.9" cy="326.35" r="1.31" fill="#eeeef6"/><circle cx="72.2" cy="336.49" r="0.86" fill="#e8e8f2"/><circle cx="61.24" cy="360.23" r="1.36" fill="#eeeef6"/><circle cx="96.41" cy="330.88" r="0.83" fill="#e8e8f2"/><circle cx="74.9" cy="306.8" r="1.43" fill="#e8e8f2"/><circle cx="83.4" cy="331.39" r="1.1" fill="#e8e8f2"/><circle cx="104.15" cy="333.52" r="1.44" fill="#e8e8f2"/><circle cx="22.77" cy="313.83" r="1.47" fill="#e8e8f2"/><circle cx="93.87" cy="344.81" r="1.48" fill="#eeeef6"/><circle cx="136.03" cy="312.86" r="1.01" fill="#e0e2f0"/><circle cx="47.6" cy="334.52" r="1.21" fill="#e8e8f2"/><circle cx="40.74" cy="354.56" r="1.36" fill="#e8e8f2"/><circle cx="91.07" cy="342.32" r="1.11" fill="#eeeef6"/><circle cx="110.94" cy="329.17" r="1.28" fill="#e8e8f2"/><circle cx="98.83" cy="301.36" r="1.24" fill="#e0e2f0"/><circle cx="126.11" cy="313.92" r="1.14" fill="#e0e2f0"/><circle cx="75.13" cy="328.98" r="0.9" fill="#eeeef6"/><circle cx="93.38" cy="361.43" r="0.84" fill="#e8e8f2"/><circle cx="64" cy="346.72" r="1.06" fill="#e0e2f0"/><circle cx="49.82" cy="336.79" r="1.02" fill="#e8e8f2"/><circle cx="22.92" cy="341.12" r="1.34" fill="#e0e2f0"/><circle cx="75.34" cy="307.51" r="0.8" fill="#e0e2f0"/><circle cx="119.31" cy="300.14" r="0.74" fill="#e0e2f0"/><circle cx="29.63" cy="303.67" r="0.72" fill="#e8e8f2"/><circle cx="119.43" cy="358.09" r="1.17" fill="#c2c8e8"/><circle cx="37.04" cy="369.33" r="0.8" fill="#c2c8e8"/><circle cx="89.89" cy="357.28" r="0.75" fill="#a4aeda"/><circle cx="82.68" cy="322.96" r="0.83" fill="#a4aeda"/><circle cx="110.75" cy="337.91" r="0.78" fill="#9aa4d6"/><circle cx="44.35" cy="323.74" r="0.95" fill="#a4aeda"/><circle cx="59.98" cy="319.06" r="0.88" fill="#a4aeda"/><circle cx="89.27" cy="370.04" r="0.72" fill="#a4aeda"/><circle cx="35.47" cy="343.35" r="1.05" fill="#a4aeda"/><circle cx="116.57" cy="337.66" r="0.97" fill="#b4bce2"/><circle cx="48.52" cy="343.71" r="1.2" fill="#a4aeda"/><circle cx="49.73" cy="377" r="1" fill="#a4aeda"/><circle cx="56.03" cy="310.46" r="0.76" fill="#b4bce2"/><circle cx="52.75" cy="342.28" r="0.82" fill="#a4aeda"/><circle cx="94.36" cy="359.19" r="0.76" fill="#a4aeda"/><circle cx="83.21" cy="336.14" r="0.96" fill="#b4bce2"/><circle cx="37.08" cy="321.14" r="1.06" fill="#b4bce2"/><circle cx="29.68" cy="346.01" r="0.81" fill="#a4aeda"/><circle cx="75.4" cy="334.75" r="0.81" fill="#c2c8e8"/><circle cx="43.96" cy="350.17" r="0.93" fill="#c2c8e8"/><circle cx="25.84" cy="363.17" r="1.1" fill="#9aa4d6"/><circle cx="33.63" cy="351.22" r="1.21" fill="#a4aeda"/><circle cx="62.81" cy="323.84" r="0.61" fill="#a4aeda"/><circle cx="81.18" cy="346.84" r="1.02" fill="#9aa4d6"/><circle cx="48.18" cy="370.64" r="0.63" fill="#b4bce2"/><circle cx="63.19" cy="321.9" r="0.64" fill="#b4bce2"/><circle cx="25.68" cy="344.83" r="1.26" fill="#c2c8e8"/><circle cx="63.88" cy="342.44" r="1.05" fill="#9aa4d6"/><circle cx="102.02" cy="317.28" r="0.82" fill="#a4aeda"/><circle cx="84.15" cy="377.27" r="1.11" fill="#9aa4d6"/><circle cx="92.68" cy="304.96" r="1.19" fill="#9aa4d6"/><circle cx="32.17" cy="352.48" r="0.72" fill="#b4bce2"/><circle cx="49.41" cy="351.64" r="0.69" fill="#a4aeda"/><circle cx="92.32" cy="323.97" r="0.99" fill="#9aa4d6"/><circle cx="89.85" cy="371.64" r="1.28" fill="#a4aeda"/><circle cx="85.68" cy="375.15" r="0.75" fill="#b4bce2"/><circle cx="40.68" cy="370.72" r="1.19" fill="#c2c8e8"/><circle cx="114.53" cy="359.12" r="0.83" fill="#9aa4d6"/><circle cx="55.81" cy="322.01" r="1.24" fill="#9aa4d6"/><circle cx="69.49" cy="343.34" r="0.6" fill="#b4bce2"/><circle cx="66.17" cy="357.54" r="1" fill="#a4aeda"/><circle cx="99.71" cy="333.16" r="1.01" fill="#c2c8e8"/><circle cx="38.28" cy="306.47" r="0.67" fill="#c2c8e8"/><circle cx="57.37" cy="314.88" r="0.62" fill="#b4bce2"/><circle cx="37.69" cy="351.61" r="0.63" fill="#b4bce2"/><circle cx="94.72" cy="309.31" r="1.01" fill="#a4aeda"/><circle cx="43.49" cy="374.37" r="0.97" fill="#b4bce2"/><circle cx="108.34" cy="359.82" r="1.1" fill="#9aa4d6"/><circle cx="34.71" cy="319.56" r="0.68" fill="#b4bce2"/><circle cx="114.96" cy="371.19" r="1.13" fill="#b4bce2"/><circle cx="103.13" cy="350.73" r="0.8" fill="#b4bce2"/><circle cx="37.14" cy="362.47" r="1.05" fill="#a4aeda"/><circle cx="54.91" cy="335.52" r="0.61" fill="#a4aeda"/><circle cx="113.14" cy="308.04" r="1.13" fill="#a4aeda"/><circle cx="97.81" cy="348.57" r="0.93" fill="#a4aeda"/><circle cx="83.42" cy="306.77" r="0.89" fill="#9aa4d6"/><circle cx="73.92" cy="311.7" r="0.93" fill="#b4bce2"/><circle cx="75.76" cy="320.35" r="1.2" fill="#b4bce2"/><circle cx="79.25" cy="325.52" r="0.91" fill="#c2c8e8"/><circle cx="51.98" cy="359.44" r="0.64" fill="#a4aeda"/><circle cx="71.28" cy="340.48" r="1.16" fill="#c2c8e8"/><circle cx="116.67" cy="347.88" r="1.27" fill="#a4aeda"/><circle cx="79.58" cy="316.13" r="1.17" fill="#c2c8e8"/><circle cx="71.99" cy="312.55" r="1.05" fill="#b4bce2"/><circle cx="71.22" cy="377.05" r="0.99" fill="#b4bce2"/><circle cx="84.34" cy="330.53" r="0.88" fill="#9aa4d6"/><circle cx="109.49" cy="359.05" r="0.9" fill="#b4bce2"/><circle cx="59.95" cy="326.69" r="0.9" fill="#c2c8e8"/><circle cx="60.65" cy="369.21" r="0.76" fill="#9aa4d6"/><circle cx="36.59" cy="347.99" r="1.08" fill="#b4bce2"/><circle cx="57.71" cy="328.41" r="0.71" fill="#9aa4d6"/><circle cx="87.6" cy="358.81" r="0.72" fill="#9aa4d6"/><circle cx="90.17" cy="323.33" r="0.76" fill="#a4aeda"/><circle cx="68.53" cy="369.29" r="0.77" fill="#c2c8e8"/><circle cx="49.99" cy="359.75" r="1.18" fill="#c2c8e8"/><circle cx="93.43" cy="375.85" r="1.11" fill="#a4aeda"/><circle cx="39.84" cy="328.52" r="0.73" fill="#b4bce2"/><circle cx="40.19" cy="352.66" r="0.74" fill="#c2c8e8"/><circle cx="118.26" cy="362.69" r="1.11" fill="#9aa4d6"/><circle cx="50.6" cy="312.5" r="1.24" fill="#a4aeda"/><circle cx="44.17" cy="332.93" r="0.62" fill="#9aa4d6"/><circle cx="105.92" cy="336.45" r="0.76" fill="#a4aeda"/><circle cx="68.65" cy="314.88" r="1.02" fill="#9aa4d6"/><circle cx="25.03" cy="322.24" r="1.2" fill="#9aa4d6"/><circle cx="105.12" cy="353.39" r="1.06" fill="#c2c8e8"/><circle cx="89.27" cy="351.46" r="0.92" fill="#a4aeda"/><circle cx="49.26" cy="355.79" r="1.23" fill="#c2c8e8"/><circle cx="99.06" cy="356.7" r="1.04" fill="#a4aeda"/><circle cx="105.45" cy="339.84" r="0.61" fill="#9aa4d6"/><circle cx="73.89" cy="352.89" r="1.21" fill="#a4aeda"/><circle cx="98.66" cy="332.95" r="0.94" fill="#b4bce2"/><circle cx="28.14" cy="344.27" r="0.71" fill="#c2c8e8"/><circle cx="73.98" cy="311.9" r="1" fill="#c2c8e8"/><circle cx="92.86" cy="341.99" r="1.05" fill="#a4aeda"/><circle cx="74.22" cy="334.54" r="1.26" fill="#c2c8e8"/><circle cx="118.87" cy="317.95" r="0.96" fill="#b4bce2"/><circle cx="93.98" cy="349.44" r="1.05" fill="#a4aeda"/><circle cx="50.65" cy="333.76" r="0.61" fill="#9aa4d6"/><circle cx="111.74" cy="350.51" r="1.07" fill="#a4aeda"/><circle cx="34.91" cy="326.72" r="0.88" fill="#c2c8e8"/><circle cx="119.25" cy="374.83" r="0.92" fill="#c2c8e8"/><circle cx="36.82" cy="361.35" r="1.17" fill="#c2c8e8"/><circle cx="69.21" cy="345.64" r="0.76" fill="#c2c8e8"/><circle cx="58.15" cy="351.26" r="1.17" fill="#9aa4d6"/><circle cx="69.11" cy="326.05" r="0.98" fill="#c2c8e8"/><circle cx="98.82" cy="338.86" r="1.15" fill="#c2c8e8"/><circle cx="49.99" cy="332.03" r="0.78" fill="#9aa4d6"/><circle cx="89.19" cy="339.75" r="1.16" fill="#a4aeda"/><circle cx="58.62" cy="352.4" r="0.82" fill="#9aa4d6"/><circle cx="65.34" cy="351.15" r="1.06" fill="#a4aeda"/><circle cx="39.06" cy="326.69" r="0.87" fill="#b4bce2"/><circle cx="103.4" cy="370.8" r="1.15" fill="#c2c8e8"/><circle cx="75.07" cy="329.76" r="1.01" fill="#b4bce2"/><circle cx="44.49" cy="309.77" r="0.81" fill="#b4bce2"/><circle cx="79.63" cy="367.03" r="0.73" fill="#9aa4d6"/><circle cx="57.52" cy="315.68" r="1.23" fill="#c2c8e8"/><circle cx="82.59" cy="354.86" r="1.28" fill="#b4bce2"/><circle cx="88.2" cy="369.93" r="1.15" fill="#a4aeda"/><circle cx="43.31" cy="355.21" r="0.97" fill="#9aa4d6"/><circle cx="88.47" cy="313.06" r="0.68" fill="#9aa4d6"/><circle cx="46.82" cy="314.7" r="0.95" fill="#b4bce2"/><circle cx="70.66" cy="370.78" r="1.09" fill="#c2c8e8"/><circle cx="71.98" cy="343.99" r="1.2" fill="#b4bce2"/><circle cx="39.78" cy="327.97" r="1.09" fill="#9aa4d6"/><circle cx="87.9" cy="366.03" r="0.86" fill="#9aa4d6"/><circle cx="119.8" cy="353.98" r="0.73" fill="#a4aeda"/><circle cx="85.12" cy="306.59" r="1.03" fill="#a4aeda"/><circle cx="101.56" cy="311.38" r="0.94" fill="#c2c8e8"/><circle cx="27.73" cy="357.07" r="1.04" fill="#a4aeda"/><circle cx="33.5" cy="352.74" r="0.84" fill="#c2c8e8"/><circle cx="51.58" cy="329.53" r="0.78" fill="#b4bce2"/><circle cx="103.29" cy="325.94" r="1.18" fill="#9aa4d6"/><circle cx="56.3" cy="376.55" r="1.21" fill="#a4aeda"/><circle cx="117.42" cy="352.41" r="1.15" fill="#a4aeda"/><circle cx="42.83" cy="356.7" r="0.69" fill="#b4bce2"/><circle cx="99.24" cy="307.43" r="1.11" fill="#9aa4d6"/><circle cx="76.48" cy="308.14" r="0.81" fill="#b4bce2"/><circle cx="28.92" cy="364.67" r="0.93" fill="#b4bce2"/><circle cx="99.69" cy="371.1" r="1.03" fill="#c2c8e8"/><circle cx="84.24" cy="355.48" r="1.02" fill="#b4bce2"/><circle cx="44.75" cy="353.32" r="0.92" fill="#c2c8e8"/><circle cx="34.16" cy="317.77" r="0.63" fill="#b4bce2"/><circle cx="111.61" cy="352.5" r="0.86" fill="#c2c8e8"/><circle cx="99.46" cy="345.65" r="0.78" fill="#a4aeda"/><circle cx="42.11" cy="307.01" r="0.61" fill="#b4bce2"/><circle cx="71.94" cy="342.72" r="1.18" fill="#9aa4d6"/><circle cx="79.33" cy="371.74" r="0.91" fill="#b4bce2"/><circle cx="89.3" cy="347.97" r="1.3" fill="#c2c8e8"/><circle cx="69.81" cy="334.69" r="0.67" fill="#9aa4d6"/><circle cx="44.73" cy="315.61" r="0.61" fill="#b4bce2"/><circle cx="25.39" cy="353.5" r="1.29" fill="#b4bce2"/><circle cx="45.3" cy="313.38" r="0.93" fill="#a4aeda"/><circle cx="93.05" cy="322.23" r="1.11" fill="#c2c8e8"/><circle cx="112.44" cy="331.28" r="1.12" fill="#c2c8e8"/><circle cx="94.04" cy="310.67" r="1.04" fill="#9aa4d6"/><circle cx="68.39" cy="372.75" r="0.78" fill="#b4bce2"/><circle cx="92.85" cy="305.33" r="0.61" fill="#b4bce2"/><circle cx="61.57" cy="327.37" r="1.02" fill="#9aa4d6"/><circle cx="82.53" cy="327.65" r="1.26" fill="#9aa4d6"/><circle cx="69.27" cy="316.69" r="1.28" fill="#b4bce2"/><circle cx="59.12" cy="351.71" r="1.04" fill="#9aa4d6"/><circle cx="69.95" cy="361.46" r="0.92" fill="#a4aeda"/><circle cx="99.27" cy="345.99" r="0.8" fill="#b4bce2"/><circle cx="83.76" cy="352.15" r="1.16" fill="#a4aeda"/><circle cx="107.37" cy="357.62" r="0.61" fill="#c2c8e8"/><circle cx="81.79" cy="327.09" r="0.9" fill="#c2c8e8"/><circle cx="60.4" cy="354.63" r="1.02" fill="#c2c8e8"/><circle cx="101.45" cy="325.24" r="0.6" fill="#a4aeda"/><circle cx="50.04" cy="316.01" r="1.24" fill="#b4bce2"/><circle cx="52" cy="314.8" r="1.22" fill="#c2c8e8"/><circle cx="50.6" cy="366.81" r="1.16" fill="#9aa4d6"/><circle cx="57.56" cy="310.73" r="0.99" fill="#9aa4d6"/><circle cx="43.6" cy="359.41" r="1.25" fill="#c2c8e8"/><circle cx="53.99" cy="308.71" r="0.88" fill="#c2c8e8"/><circle cx="112.75" cy="347.42" r="0.61" fill="#9aa4d6"/><circle cx="68.31" cy="310.92" r="1.16" fill="#b4bce2"/><circle cx="46.69" cy="346.93" r="1.23" fill="#a4aeda"/><circle cx="69.92" cy="347.64" r="0.73" fill="#c2c8e8"/><circle cx="33.29" cy="363.49" r="0.8" fill="#a4aeda"/><circle cx="62.86" cy="342.36" r="0.7" fill="#b4bce2"/><circle cx="112.43" cy="340.61" r="1.21" fill="#a4aeda"/><circle cx="84.8" cy="362.13" r="0.71" fill="#b4bce2"/><circle cx="57.37" cy="342.52" r="0.61" fill="#b4bce2"/><circle cx="44" cy="368.24" r="1" fill="#c2c8e8"/><circle cx="49.43" cy="361.54" r="0.9" fill="#9aa4d6"/><circle cx="97.62" cy="364.44" r="1.27" fill="#a4aeda"/><circle cx="104.91" cy="329.3" r="1.3" fill="#9aa4d6"/><circle cx="32.47" cy="308.23" r="0.99" fill="#9aa4d6"/><circle cx="70.9" cy="366.4" r="1.23" fill="#9aa4d6"/><circle cx="112.38" cy="356.21" r="0.66" fill="#a4aeda"/><circle cx="78.29" cy="351.39" r="1.27" fill="#9aa4d6"/><circle cx="41.91" cy="366.7" r="0.86" fill="#c2c8e8"/><circle cx="119.01" cy="320.73" r="0.63" fill="#a4aeda"/><circle cx="114.19" cy="308.84" r="0.99" fill="#b4bce2"/><circle cx="104.29" cy="307.94" r="1.15" fill="#9aa4d6"/><circle cx="29.81" cy="315.1" r="1.13" fill="#c2c8e8"/><circle cx="89.01" cy="326.37" r="1.01" fill="#b4bce2"/><circle cx="69.36" cy="331.71" r="0.87" fill="#a4aeda"/><circle cx="70.37" cy="316.84" r="0.77" fill="#c2c8e8"/><circle cx="111.63" cy="369.81" r="0.93" fill="#c2c8e8"/><circle cx="100.63" cy="315.99" r="1.18" fill="#b4bce2"/><circle cx="113.51" cy="367.95" r="1.22" fill="#c2c8e8"/><circle cx="98.67" cy="374.62" r="1.25" fill="#9aa4d6"/><circle cx="104.77" cy="350.5" r="0.92" fill="#a4aeda"/><circle cx="55.24" cy="321.62" r="0.68" fill="#a4aeda"/><circle cx="38.11" cy="320.72" r="0.64" fill="#9aa4d6"/><circle cx="77.24" cy="315.09" r="1.21" fill="#a4aeda"/><circle cx="64.36" cy="322.56" r="0.62" fill="#a4aeda"/><circle cx="56.38" cy="316.78" r="0.94" fill="#a4aeda"/><circle cx="67.97" cy="339.81" r="0.71" fill="#b4bce2"/><circle cx="84.63" cy="362.15" r="1.25" fill="#9aa4d6"/><circle cx="104.1" cy="313.22" r="1.13" fill="#a4aeda"/><circle cx="65.68" cy="323.64" r="0.77" fill="#c2c8e8"/><circle cx="33.8" cy="325.69" r="1.23" fill="#b4bce2"/><circle cx="103.82" cy="376.13" r="0.7" fill="#b4bce2"/><circle cx="66.63" cy="341.67" r="0.96" fill="#9aa4d6"/><circle cx="24.68" cy="365.42" r="0.97" fill="#c2c8e8"/><circle cx="58.82" cy="307.47" r="0.89" fill="#a4aeda"/><circle cx="78.95" cy="314.61" r="0.73" fill="#c2c8e8"/><circle cx="92.32" cy="318.9" r="0.66" fill="#b4bce2"/><circle cx="109.25" cy="358" r="1.13" fill="#c2c8e8"/><circle cx="44.13" cy="349.33" r="1.1" fill="#c2c8e8"/><circle cx="80.05" cy="319.31" r="0.65" fill="#9aa4d6"/><circle cx="104.65" cy="371.57" r="0.96" fill="#a4aeda"/><circle cx="56.45" cy="366.13" r="1.21" fill="#9aa4d6"/><circle cx="33.11" cy="334.48" r="1.13" fill="#c2c8e8"/><circle cx="107.6" cy="323.99" r="0.73" fill="#a4aeda"/><circle cx="27.99" cy="355.91" r="1" fill="#b4bce2"/><circle cx="58.44" cy="372.73" r="1.28" fill="#b4bce2"/><circle cx="36.01" cy="356.81" r="1.17" fill="#a4aeda"/><circle cx="98.75" cy="368.04" r="1" fill="#b4bce2"/><circle cx="52.28" cy="312.38" r="1.11" fill="#9aa4d6"/><circle cx="73.42" cy="343.33" r="0.98" fill="#b4bce2"/><circle cx="47.71" cy="310.98" r="1.03" fill="#c2c8e8"/><circle cx="34.28" cy="322.83" r="1.17" fill="#b4bce2"/><circle cx="26.35" cy="372.31" r="1.12" fill="#a4aeda"/><circle cx="26.19" cy="348.38" r="1" fill="#c2c8e8"/><circle cx="91.46" cy="312.03" r="1.21" fill="#c2c8e8"/><circle cx="28.8" cy="313.51" r="0.95" fill="#a4aeda"/><circle cx="34.99" cy="313.4" r="1.22" fill="#c2c8e8"/><circle cx="106.56" cy="315.28" r="1" fill="#9aa4d6"/><circle cx="40.16" cy="364.96" r="1.26" fill="#9aa4d6"/><circle cx="90.63" cy="348.2" r="1.02" fill="#b4bce2"/><circle cx="62.2" cy="373.4" r="1.14" fill="#a4aeda"/><circle cx="62.69" cy="365.88" r="1.1" fill="#a4aeda"/><circle cx="102.17" cy="366.55" r="0.64" fill="#c2c8e8"/><circle cx="115.78" cy="372.89" r="0.77" fill="#9aa4d6"/><circle cx="87.7" cy="305.35" r="0.68" fill="#c2c8e8"/><circle cx="31.1" cy="336.2" r="0.95" fill="#b4bce2"/><circle cx="45.99" cy="335.3" r="0.88" fill="#9aa4d6"/><circle cx="84.85" cy="363.74" r="1.22" fill="#b4bce2"/><circle cx="27.78" cy="351.46" r="0.79" fill="#a4aeda"/><circle cx="84.37" cy="363.52" r="0.63" fill="#b4bce2"/><circle cx="48.38" cy="342.59" r="0.9" fill="#b4bce2"/><circle cx="51.9" cy="326.86" r="1.05" fill="#b4bce2"/><circle cx="30.25" cy="374.7" r="1.24" fill="#a4aeda"/><circle cx="32.55" cy="347.71" r="1.25" fill="#9aa4d6"/><circle cx="36.31" cy="314.12" r="0.81" fill="#9aa4d6"/><circle cx="79.52" cy="324.56" r="1.12" fill="#a4aeda"/><circle cx="104.53" cy="349.15" r="1" fill="#9aa4d6"/><circle cx="43.67" cy="356.5" r="0.92" fill="#a4aeda"/><circle cx="82.9" cy="338.83" r="0.82" fill="#c2c8e8"/><circle cx="56.3" cy="318.32" r="0.98" fill="#9aa4d6"/><circle cx="25.63" cy="330.31" r="1.2" fill="#c2c8e8"/><circle cx="55.37" cy="328.32" r="0.79" fill="#c2c8e8"/><circle cx="52.66" cy="361.02" r="0.71" fill="#b4bce2"/><circle cx="82.24" cy="329.97" r="1.06" fill="#9aa4d6"/><circle cx="104.01" cy="330.42" r="1.13" fill="#c2c8e8"/><circle cx="118.78" cy="354.1" r="1.25" fill="#9aa4d6"/><circle cx="56.62" cy="330.3" r="1.07" fill="#a4aeda"/><circle cx="102.76" cy="342.4" r="1.12" fill="#9aa4d6"/><circle cx="50.11" cy="350.66" r="1.04" fill="#c2c8e8"/><circle cx="63.86" cy="312.07" r="0.89" fill="#b4bce2"/><circle cx="71.95" cy="374.97" r="1" fill="#9aa4d6"/><circle cx="105.5" cy="324.95" r="1.03" fill="#b4bce2"/><circle cx="60.67" cy="337.61" r="0.92" fill="#a4aeda"/><circle cx="52.42" cy="333.1" r="0.99" fill="#9aa4d6"/><circle cx="86.27" cy="304.99" r="1.12" fill="#9aa4d6"/><circle cx="60.78" cy="326.46" r="0.98" fill="#c2c8e8"/><circle cx="66.02" cy="332.1" r="0.76" fill="#a4aeda"/><circle cx="55.36" cy="366.24" r="1.19" fill="#a4aeda"/><circle cx="43.97" cy="335.72" r="1.24" fill="#b4bce2"/><circle cx="26.94" cy="323.28" r="1.23" fill="#a4aeda"/><circle cx="112.21" cy="361.12" r="0.98" fill="#9aa4d6"/><circle cx="73.81" cy="342.36" r="1.08" fill="#9aa4d6"/><circle cx="68.74" cy="307.48" r="1.07" fill="#9aa4d6"/><circle cx="114.83" cy="354.02" r="0.97" fill="#b4bce2"/><circle cx="63.53" cy="341.17" r="1.05" fill="#c2c8e8"/><circle cx="108.35" cy="375.1" r="0.94" fill="#9aa4d6"/><circle cx="97.63" cy="370.32" r="1.01" fill="#b4bce2"/><circle cx="40.77" cy="327.78" r="1.28" fill="#a4aeda"/><circle cx="73.35" cy="312.59" r="1.23" fill="#a4aeda"/><circle cx="102.7" cy="376.99" r="1.22" fill="#9aa4d6"/><circle cx="84.64" cy="342.86" r="1.17" fill="#c2c8e8"/><circle cx="72.62" cy="318.27" r="0.73" fill="#b4bce2"/><circle cx="58.16" cy="377.24" r="1.05" fill="#b4bce2"/><circle cx="90.42" cy="305.29" r="0.6" fill="#b4bce2"/><circle cx="111.89" cy="333.6" r="0.67" fill="#b4bce2"/><circle cx="88.17" cy="318.89" r="0.95" fill="#a4aeda"/><circle cx="107.52" cy="370.06" r="0.96" fill="#c2c8e8"/><circle cx="79.25" cy="334.59" r="0.69" fill="#c2c8e8"/><circle cx="73.91" cy="341.79" r="0.62" fill="#b4bce2"/><circle cx="40.75" cy="342.75" r="1.18" fill="#9aa4d6"/><circle cx="101.37" cy="309.05" r="0.61" fill="#a4aeda"/><circle cx="38.22" cy="321.94" r="0.79" fill="#b4bce2"/><circle cx="49.91" cy="311.78" r="1.23" fill="#b4bce2"/><circle cx="57.75" cy="337.43" r="0.87" fill="#b4bce2"/><circle cx="45.47" cy="333.49" r="1.13" fill="#b4bce2"/><circle cx="66.4" cy="349.9" r="0.77" fill="#b4bce2"/><circle cx="39.69" cy="347.47" r="0.72" fill="#b4bce2"/><circle cx="110.16" cy="364.22" r="0.81" fill="#a4aeda"/><circle cx="115.99" cy="340.77" r="1.26" fill="#c2c8e8"/><circle cx="89.04" cy="353.9" r="1.01" fill="#9aa4d6"/><circle cx="53.96" cy="368.57" r="0.94" fill="#c2c8e8"/><circle cx="32.84" cy="316.94" r="0.87" fill="#b4bce2"/><circle cx="117.09" cy="325.78" r="0.99" fill="#b4bce2"/><circle cx="56.43" cy="368.29" r="0.84" fill="#b4bce2"/><circle cx="116.11" cy="335.41" r="1.24" fill="#c2c8e8"/><circle cx="61.42" cy="338.69" r="0.84" fill="#9aa4d6"/><circle cx="27.83" cy="353.12" r="0.84" fill="#c2c8e8"/><circle cx="47.54" cy="314.01" r="0.74" fill="#c2c8e8"/><circle cx="77.39" cy="338.69" r="1.16" fill="#c2c8e8"/><circle cx="39.67" cy="330.33" r="1.11" fill="#9aa4d6"/><circle cx="84.48" cy="347.01" r="0.81" fill="#9aa4d6"/><circle cx="72.61" cy="321.14" r="0.92" fill="#c2c8e8"/><circle cx="114.28" cy="377.55" r="1.02" fill="#9aa4d6"/><circle cx="80.49" cy="331.44" r="0.77" fill="#c2c8e8"/><circle cx="36.46" cy="359.45" r="1.07" fill="#b4bce2"/><circle cx="76.21" cy="324.29" r="1.14" fill="#9aa4d6"/><circle cx="27.24" cy="357.07" r="0.7" fill="#b4bce2"/><circle cx="61.66" cy="310.8" r="0.72" fill="#c2c8e8"/><circle cx="55.09" cy="353.01" r="0.68" fill="#a4aeda"/><circle cx="101.23" cy="360.02" r="0.73" fill="#a4aeda"/><circle cx="32.88" cy="325.62" r="1.17" fill="#9aa4d6"/><circle cx="51.41" cy="334.03" r="1.24" fill="#c2c8e8"/><circle cx="113.77" cy="317.41" r="0.86" fill="#a4aeda"/><circle cx="109.98" cy="306.35" r="1.09" fill="#9aa4d6"/><circle cx="48.17" cy="366.48" r="0.85" fill="#b4bce2"/><circle cx="41.81" cy="312.93" r="1.24" fill="#c2c8e8"/><circle cx="92.41" cy="307.46" r="0.63" fill="#c2c8e8"/><circle cx="65.55" cy="359.91" r="0.71" fill="#b4bce2"/><circle cx="77.14" cy="350.58" r="1.26" fill="#c2c8e8"/><circle cx="78.84" cy="356.96" r="0.78" fill="#9aa4d6"/><circle cx="88.36" cy="346.61" r="1.25" fill="#b4bce2"/><circle cx="104.01" cy="361.34" r="0.8" fill="#b4bce2"/><circle cx="107.9" cy="347.33" r="1.09" fill="#c2c8e8"/><circle cx="89.41" cy="307.22" r="0.82" fill="#a4aeda"/><circle cx="95.93" cy="310.81" r="1.09" fill="#9aa4d6"/><circle cx="119.62" cy="349.54" r="0.75" fill="#b4bce2"/><circle cx="57.76" cy="374.01" r="0.91" fill="#a4aeda"/><circle cx="90.41" cy="358.57" r="1.18" fill="#9aa4d6"/><circle cx="72.98" cy="354.03" r="0.74" fill="#c2c8e8"/><circle cx="71.15" cy="318.36" r="1.27" fill="#a4aeda"/><circle cx="41.13" cy="316.48" r="1.15" fill="#c2c8e8"/><circle cx="76.34" cy="322.78" r="0.64" fill="#a4aeda"/><circle cx="57.59" cy="311.27" r="1.05" fill="#c2c8e8"/><circle cx="37.51" cy="356.25" r="1.07" fill="#c2c8e8"/><circle cx="91.75" cy="304.93" r="1.08" fill="#c2c8e8"/><circle cx="113.69" cy="330.23" r="0.81" fill="#c2c8e8"/><circle cx="80.49" cy="322.12" r="1.04" fill="#b4bce2"/><circle cx="76.75" cy="360.17" r="0.72" fill="#c2c8e8"/><circle cx="81.55" cy="338.26" r="1.14" fill="#c2c8e8"/><circle cx="35.41" cy="325.68" r="0.85" fill="#c2c8e8"/><circle cx="28.64" cy="370.07" r="0.81" fill="#b4bce2"/><circle cx="91.36" cy="337.29" r="0.68" fill="#a4aeda"/><circle cx="66.92" cy="346.16" r="0.8" fill="#b4bce2"/><circle cx="28.84" cy="338.8" r="1.29" fill="#9aa4d6"/><circle cx="32.5" cy="356.99" r="1.29" fill="#a4aeda"/><circle cx="34.87" cy="340.29" r="0.9" fill="#c2c8e8"/><circle cx="99.2" cy="328.06" r="0.85" fill="#b4bce2"/><circle cx="85.92" cy="350.45" r="1.25" fill="#a4aeda"/><circle cx="86.74" cy="310.22" r="1.12" fill="#b4bce2"/><circle cx="98.3" cy="365.96" r="0.81" fill="#c2c8e8"/><circle cx="116.18" cy="342.96" r="1.23" fill="#c2c8e8"/><circle cx="34.24" cy="357.12" r="0.82" fill="#a4aeda"/><circle cx="60.65" cy="351.88" r="0.85" fill="#c2c8e8"/><circle cx="59.62" cy="344.84" r="0.86" fill="#a4aeda"/><circle cx="47.31" cy="307.52" r="1" fill="#9aa4d6"/><circle cx="110.77" cy="373.67" r="0.95" fill="#9aa4d6"/><circle cx="94.14" cy="377.38" r="1.02" fill="#b4bce2"/><circle cx="38.02" cy="321.15" r="0.7" fill="#9aa4d6"/><circle cx="33.04" cy="307.42" r="0.91" fill="#c2c8e8"/><circle cx="45.3" cy="331.77" r="0.62" fill="#9aa4d6"/><circle cx="38.14" cy="309.77" r="0.64" fill="#9aa4d6"/><circle cx="109.38" cy="309.09" r="0.61" fill="#c2c8e8"/><circle cx="110.65" cy="316.54" r="0.81" fill="#9aa4d6"/><circle cx="101.14" cy="353.93" r="1" fill="#9aa4d6"/><circle cx="32.6" cy="328.19" r="0.92" fill="#c2c8e8"/><circle cx="117.36" cy="374.91" r="1.03" fill="#b4bce2"/><circle cx="93.38" cy="328.77" r="1.06" fill="#9aa4d6"/><circle cx="115.3" cy="339.69" r="1.05" fill="#a4aeda"/><circle cx="106.96" cy="343.33" r="1.04" fill="#c2c8e8"/><circle cx="45.7" cy="358.65" r="1.08" fill="#c2c8e8"/><circle cx="87.44" cy="331.73" r="1.01" fill="#9aa4d6"/><circle cx="58.81" cy="322.09" r="0.91" fill="#a4aeda"/><circle cx="35.39" cy="317.71" r="1.22" fill="#b4bce2"/><circle cx="45.59" cy="365.79" r="1.05" fill="#c2c8e8"/><circle cx="75.08" cy="322.91" r="0.94" fill="#9aa4d6"/><circle cx="46.09" cy="346.42" r="0.68" fill="#b4bce2"/><circle cx="105.65" cy="354.24" r="1.16" fill="#c2c8e8"/><circle cx="106.79" cy="344.8" r="1.1" fill="#b4bce2"/><circle cx="84.21" cy="374.8" r="0.96" fill="#9aa4d6"/><circle cx="103.62" cy="333.19" r="0.72" fill="#c2c8e8"/><circle cx="78.16" cy="361.23" r="0.7" fill="#b4bce2"/><circle cx="63.04" cy="307.96" r="0.63" fill="#c2c8e8"/><circle cx="68.31" cy="313.32" r="0.69" fill="#b4bce2"/><circle cx="83.7" cy="368.34" r="0.99" fill="#a4aeda"/><circle cx="40.51" cy="359.07" r="0.84" fill="#b4bce2"/><circle cx="103.18" cy="313.48" r="0.86" fill="#a4aeda"/><circle cx="93.29" cy="307.68" r="1.02" fill="#b4bce2"/><circle cx="58.4" cy="328.46" r="1.02" fill="#b4bce2"/><circle cx="112.69" cy="353.93" r="0.78" fill="#c2c8e8"/><circle cx="90.63" cy="306.06" r="1.29" fill="#9aa4d6"/><circle cx="35.32" cy="306.03" r="0.68" fill="#a4aeda"/><circle cx="42.16" cy="345.07" r="0.8" fill="#9aa4d6"/><circle cx="104.19" cy="347.56" r="0.78" fill="#a4aeda"/><circle cx="114.92" cy="305.51" r="0.84" fill="#c2c8e8"/><circle cx="70.93" cy="339.93" r="0.62" fill="#b4bce2"/><circle cx="31.61" cy="349.91" r="1.05" fill="#9aa4d6"/><circle cx="104.83" cy="375.32" r="1.09" fill="#9aa4d6"/><circle cx="61.99" cy="368.41" r="0.48" fill="#7078b8"/><circle cx="58.9" cy="343.17" r="0.39" fill="#7078b8"/><circle cx="80.65" cy="307.7" r="0.35" fill="#8088c0"/><circle cx="93.81" cy="328.76" r="0.44" fill="#8088c0"/><circle cx="54.46" cy="329.06" r="0.45" fill="#7078b8"/><circle cx="26.45" cy="338.13" r="0.6" fill="#7078b8"/><circle cx="84.62" cy="357.71" r="0.34" fill="#8088c0"/><circle cx="50.55" cy="341.1" r="0.38" fill="#6068aa"/><circle cx="79.16" cy="347.28" r="0.34" fill="#6068aa"/><circle cx="27.75" cy="345.54" r="0.53" fill="#7078b8"/><circle cx="98.29" cy="350.84" r="0.49" fill="#8088c0"/><circle cx="99.97" cy="362.55" r="0.37" fill="#7078b8"/><circle cx="89.43" cy="326.75" r="0.53" fill="#6068aa"/><circle cx="59.06" cy="366.95" r="0.37" fill="#6068aa"/><circle cx="92.71" cy="328.98" r="0.51" fill="#6068aa"/><circle cx="55.3" cy="376.85" r="0.44" fill="#8088c0"/><circle cx="109.72" cy="363.73" r="0.6" fill="#7078b8"/><circle cx="37.42" cy="305.03" r="0.56" fill="#8088c0"/><circle cx="63.09" cy="333.49" r="0.53" fill="#7078b8"/><circle cx="80.42" cy="315.03" r="0.52" fill="#8088c0"/><circle cx="93.75" cy="344.85" r="0.58" fill="#8088c0"/><circle cx="31.5" cy="318.43" r="0.58" fill="#6068aa"/><circle cx="41.53" cy="346.99" r="0.6" fill="#8088c0"/><circle cx="116.99" cy="355.03" r="0.52" fill="#7078b8"/><circle cx="104.42" cy="327.87" r="0.35" fill="#8088c0"/><circle cx="76.58" cy="360.02" r="0.49" fill="#7078b8"/><circle cx="91.63" cy="320.48" r="0.42" fill="#7078b8"/><circle cx="109.59" cy="325.19" r="0.45" fill="#7078b8"/><circle cx="43.25" cy="358.22" r="0.59" fill="#6068aa"/><circle cx="29.13" cy="309.88" r="0.54" fill="#6068aa"/><circle cx="57.01" cy="314.5" r="0.36" fill="#6068aa"/><circle cx="85.73" cy="305.6" r="0.4" fill="#7078b8"/><circle cx="44.73" cy="328.42" r="0.52" fill="#6068aa"/><circle cx="70.85" cy="349.14" r="0.54" fill="#7078b8"/><circle cx="29.97" cy="334.82" r="0.31" fill="#6068aa"/><circle cx="82.9" cy="361.3" r="0.6" fill="#8088c0"/><circle cx="48.99" cy="338.42" r="0.3" fill="#8088c0"/><circle cx="78.26" cy="376.79" r="0.32" fill="#6068aa"/><circle cx="92.18" cy="365.62" r="0.35" fill="#7078b8"/><circle cx="39.39" cy="314.94" r="0.53" fill="#7078b8"/><circle cx="58.6" cy="330.98" r="0.4" fill="#6068aa"/><circle cx="80.58" cy="345.13" r="0.5" fill="#6068aa"/><circle cx="79.3" cy="321.34" r="0.49" fill="#6068aa"/><circle cx="70.01" cy="306.82" r="0.49" fill="#6068aa"/><circle cx="98.13" cy="376.04" r="0.44" fill="#8088c0"/><circle cx="58.94" cy="343.27" r="0.38" fill="#8088c0"/><circle cx="25.36" cy="339.33" r="0.5" fill="#8088c0"/><circle cx="38.85" cy="350.54" r="0.42" fill="#7078b8"/><circle cx="113.79" cy="350.22" r="0.34" fill="#6068aa"/><circle cx="72.33" cy="345.14" r="0.35" fill="#6068aa"/><circle cx="59.34" cy="315.43" r="0.35" fill="#6068aa"/><circle cx="106.05" cy="361.53" r="0.46" fill="#8088c0"/><circle cx="98.65" cy="322.26" r="0.59" fill="#8088c0"/><circle cx="44.81" cy="371.28" r="0.57" fill="#8088c0"/><circle cx="68.35" cy="328.2" r="0.57" fill="#7078b8"/><circle cx="87.4" cy="305.63" r="0.54" fill="#8088c0"/><circle cx="88.75" cy="330.17" r="0.37" fill="#8088c0"/><circle cx="63.57" cy="371.78" r="0.58" fill="#6068aa"/><circle cx="106.49" cy="306.75" r="0.31" fill="#6068aa"/><circle cx="65.84" cy="321.44" r="0.36" fill="#8088c0"/><circle cx="85.75" cy="326.35" r="0.6" fill="#7078b8"/><circle cx="118.02" cy="362.39" r="0.44" fill="#8088c0"/><circle cx="115.44" cy="314.49" r="0.39" fill="#7078b8"/><circle cx="56.09" cy="340.04" r="0.57" fill="#7078b8"/><circle cx="54.97" cy="349.17" r="0.59" fill="#7078b8"/><circle cx="79.7" cy="369.13" r="0.36" fill="#6068aa"/><circle cx="58.84" cy="361.58" r="0.56" fill="#7078b8"/><circle cx="65.94" cy="314.73" r="0.58" fill="#6068aa"/><circle cx="26.83" cy="312.67" r="0.59" fill="#7078b8"/><circle cx="37.21" cy="326.66" r="0.45" fill="#8088c0"/><circle cx="33.8" cy="316.85" r="0.5" fill="#7078b8"/><circle cx="63.97" cy="351.51" r="0.5" fill="#8088c0"/><circle cx="108.55" cy="376.21" r="0.31" fill="#7078b8"/><circle cx="43.69" cy="350.42" r="0.3" fill="#7078b8"/><circle cx="72.61" cy="321.46" r="0.43" fill="#7078b8"/><circle cx="93.93" cy="308.04" r="0.57" fill="#7078b8"/><circle cx="108.23" cy="313.32" r="0.45" fill="#7078b8"/><circle cx="74.57" cy="304.69" r="0.37" fill="#6068aa"/><circle cx="38.6" cy="358.54" r="0.45" fill="#7078b8"/><circle cx="75" cy="365.96" r="0.59" fill="#7078b8"/><circle cx="57.8" cy="320.25" r="0.59" fill="#7078b8"/><circle cx="94.2" cy="324.48" r="0.35" fill="#8088c0"/><circle cx="50.14" cy="375.24" r="0.36" fill="#7078b8"/><circle cx="63.39" cy="345.24" r="0.41" fill="#7078b8"/><circle cx="55.54" cy="307.53" r="0.44" fill="#8088c0"/><circle cx="76.8" cy="355.03" r="0.59" fill="#6068aa"/><circle cx="92.9" cy="333.73" r="0.4" fill="#8088c0"/><circle cx="61" cy="315.57" r="0.53" fill="#8088c0"/><circle cx="101.1" cy="370.24" r="0.49" fill="#7078b8"/><circle cx="82.43" cy="372.3" r="0.38" fill="#6068aa"/><circle cx="94.07" cy="377.04" r="0.55" fill="#6068aa"/><circle cx="35.57" cy="366.21" r="0.54" fill="#6068aa"/><circle cx="29.22" cy="355.31" r="0.4" fill="#6068aa"/><circle cx="66.66" cy="353.4" r="0.44" fill="#6068aa"/><circle cx="24.59" cy="359.12" r="0.56" fill="#6068aa"/><circle cx="57.13" cy="344.48" r="0.41" fill="#6068aa"/><circle cx="99.92" cy="368.14" r="0.41" fill="#7078b8"/><circle cx="62" cy="343.02" r="0.48" fill="#6068aa"/><circle cx="103.24" cy="309.77" r="0.54" fill="#6068aa"/><circle cx="45.78" cy="349.34" r="0.38" fill="#8088c0"/><circle cx="106.24" cy="329.96" r="0.48" fill="#6068aa"/><circle cx="45.58" cy="314.9" r="0.58" fill="#6068aa"/><circle cx="59.2" cy="319.49" r="0.35" fill="#8088c0"/><circle cx="47.24" cy="317.12" r="0.55" fill="#8088c0"/><circle cx="41.44" cy="373.85" r="0.56" fill="#6068aa"/><circle cx="107.2" cy="307.67" r="0.41" fill="#8088c0"/><circle cx="36.23" cy="315.76" r="0.38" fill="#7078b8"/><circle cx="59.26" cy="353.03" r="0.46" fill="#8088c0"/><circle cx="67.65" cy="310.94" r="0.42" fill="#8088c0"/><circle cx="90.73" cy="337.39" r="0.44" fill="#7078b8"/><circle cx="96.81" cy="315.47" r="0.5" fill="#8088c0"/><circle cx="71.08" cy="352.83" r="0.49" fill="#6068aa"/><circle cx="56.91" cy="332.4" r="0.31" fill="#7078b8"/><circle cx="24.58" cy="323.51" r="0.48" fill="#8088c0"/><circle cx="92.94" cy="324.6" r="0.4" fill="#7078b8"/><circle cx="49.79" cy="336.57" r="0.46" fill="#8088c0"/><circle cx="106.35" cy="319.26" r="0.43" fill="#8088c0"/><circle cx="83.38" cy="331.7" r="0.31" fill="#8088c0"/><circle cx="60.31" cy="307.56" r="0.53" fill="#8088c0"/><circle cx="65.57" cy="348.96" r="0.38" fill="#7078b8"/><circle cx="61.22" cy="346.86" r="0.58" fill="#7078b8"/><circle cx="117.67" cy="366.85" r="0.47" fill="#7078b8"/><circle cx="87.93" cy="328.62" r="0.32" fill="#8088c0"/><circle cx="60.66" cy="342.99" r="0.45" fill="#6068aa"/><circle cx="96.65" cy="306.37" r="0.48" fill="#8088c0"/><circle cx="113.61" cy="355.81" r="0.43" fill="#8088c0"/><circle cx="41.29" cy="309.26" r="0.42" fill="#7078b8"/><circle cx="73.27" cy="364.87" r="0.5" fill="#6068aa"/><circle cx="43.58" cy="344.15" r="0.58" fill="#8088c0"/><circle cx="77.28" cy="360.81" r="0.53" fill="#7078b8"/><circle cx="33.08" cy="366.57" r="0.47" fill="#7078b8"/><circle cx="34.19" cy="310.96" r="0.53" fill="#6068aa"/><circle cx="67.79" cy="364.82" r="0.36" fill="#8088c0"/><circle cx="70.51" cy="308.51" r="0.51" fill="#8088c0"/><circle cx="104.9" cy="314.76" r="0.42" fill="#7078b8"/><circle cx="107.6" cy="315.15" r="0.4" fill="#6068aa"/><circle cx="118.11" cy="318.13" r="0.46" fill="#6068aa"/><circle cx="49.5" cy="327.41" r="0.38" fill="#8088c0"/><circle cx="77.46" cy="341.9" r="0.43" fill="#7078b8"/><circle cx="53.74" cy="322.69" r="0.41" fill="#8088c0"/><circle cx="106.14" cy="323.32" r="0.36" fill="#7078b8"/><circle cx="44.28" cy="352.24" r="0.58" fill="#6068aa"/><circle cx="71.1" cy="347.23" r="0.41" fill="#8088c0"/><circle cx="43.59" cy="371.8" r="0.47" fill="#7078b8"/><circle cx="94" cy="305.12" r="0.32" fill="#6068aa"/><circle cx="102.97" cy="307.09" r="0.37" fill="#8088c0"/><circle cx="52.28" cy="356.51" r="0.54" fill="#6068aa"/><circle cx="82.7" cy="334.22" r="0.52" fill="#7078b8"/><circle cx="108.18" cy="308.72" r="0.43" fill="#6068aa"/><circle cx="36.36" cy="314.53" r="0.56" fill="#6068aa"/><circle cx="71.88" cy="305.54" r="0.52" fill="#6068aa"/><circle cx="100.81" cy="340.97" r="0.5" fill="#6068aa"/><circle cx="95.85" cy="363.2" r="0.46" fill="#7078b8"/><circle cx="38.39" cy="371.69" r="0.36" fill="#7078b8"/><circle cx="68.88" cy="319.26" r="0.33" fill="#7078b8"/><circle cx="64.02" cy="352.73" r="0.38" fill="#8088c0"/><circle cx="89.87" cy="315.83" r="0.32" fill="#6068aa"/><circle cx="37.21" cy="316.22" r="0.43" fill="#7078b8"/><circle cx="107.86" cy="362.86" r="0.51" fill="#6068aa"/><circle cx="39.18" cy="371.25" r="0.4" fill="#7078b8"/><circle cx="38.98" cy="363.01" r="0.59" fill="#8088c0"/><circle cx="117.34" cy="328.48" r="0.35" fill="#8088c0"/><circle cx="45.79" cy="344.45" r="0.33" fill="#8088c0"/><circle cx="38.69" cy="317.97" r="0.4" fill="#8088c0"/><circle cx="35.4" cy="365.15" r="0.34" fill="#7078b8"/><circle cx="119.43" cy="373.27" r="0.46" fill="#8088c0"/><circle cx="71.19" cy="305.8" r="0.53" fill="#7078b8"/><circle cx="43.61" cy="325" r="0.39" fill="#6068aa"/><circle cx="76.03" cy="310.97" r="0.34" fill="#8088c0"/><circle cx="97.67" cy="360.5" r="0.57" fill="#6068aa"/><circle cx="112.62" cy="306.87" r="0.48" fill="#7078b8"/><circle cx="57.31" cy="373.63" r="0.5" fill="#7078b8"/><circle cx="40.89" cy="330.14" r="0.44" fill="#8088c0"/><circle cx="95.25" cy="317.59" r="0.54" fill="#8088c0"/><circle cx="101.6" cy="357.47" r="0.44" fill="#6068aa"/><circle cx="77.06" cy="362.18" r="0.48" fill="#8088c0"/><circle cx="27.92" cy="307.4" r="0.47" fill="#8088c0"/><circle cx="86.14" cy="314.16" r="0.47" fill="#8088c0"/><circle cx="31.77" cy="357.76" r="0.52" fill="#8088c0"/><circle cx="40.67" cy="373.42" r="0.4" fill="#6068aa"/><circle cx="107.74" cy="339.65" r="0.34" fill="#7078b8"/><circle cx="34.65" cy="321.97" r="0.35" fill="#8088c0"/><circle cx="75.58" cy="313.11" r="0.44" fill="#7078b8"/><circle cx="78.67" cy="307.58" r="0.38" fill="#7078b8"/><circle cx="51.52" cy="345.15" r="0.6" fill="#7078b8"/><circle cx="93.74" cy="343.65" r="0.37" fill="#7078b8"/><circle cx="25.94" cy="373.55" r="0.45" fill="#6068aa"/><circle cx="78.86" cy="354.93" r="0.37" fill="#7078b8"/><circle cx="39.14" cy="323.84" r="0.31" fill="#8088c0"/><circle cx="83.99" cy="312.52" r="0.47" fill="#7078b8"/><circle cx="32.54" cy="346.85" r="0.37" fill="#6068aa"/><circle cx="98.35" cy="342.05" r="0.55" fill="#7078b8"/><circle cx="31.46" cy="329.19" r="0.33" fill="#7078b8"/><circle cx="83.42" cy="355.14" r="0.54" fill="#8088c0"/><circle cx="32.51" cy="360.07" r="0.48" fill="#7078b8"/><circle cx="25.53" cy="373.33" r="0.42" fill="#8088c0"/><circle cx="27.57" cy="362.23" r="0.34" fill="#6068aa"/><circle cx="89.19" cy="315.57" r="0.4" fill="#7078b8"/><circle cx="43.92" cy="372.2" r="0.51" fill="#6068aa"/><circle cx="117.51" cy="377.5" r="0.54" fill="#8088c0"/><circle cx="28.1" cy="342.97" r="0.4" fill="#7078b8"/><circle cx="96.11" cy="351.08" r="0.36" fill="#6068aa"/><circle cx="29.3" cy="331.26" r="0.42" fill="#6068aa"/><circle cx="92.87" cy="330.06" r="0.35" fill="#8088c0"/><circle cx="88.61" cy="359.07" r="0.34" fill="#6068aa"/><circle cx="113.81" cy="370.73" r="0.52" fill="#6068aa"/><circle cx="80.76" cy="336.37" r="0.55" fill="#6068aa"/><circle cx="52.99" cy="374.84" r="0.46" fill="#6068aa"/><circle cx="35.54" cy="375.39" r="0.54" fill="#8088c0"/><circle cx="96.04" cy="366.54" r="0.37" fill="#6068aa"/><circle cx="68.14" cy="321.82" r="0.45" fill="#6068aa"/><circle cx="109.27" cy="308.17" r="0.5" fill="#8088c0"/><circle cx="100.13" cy="354.49" r="0.58" fill="#8088c0"/><circle cx="63.21" cy="310.88" r="0.5" fill="#8088c0"/><circle cx="87.71" cy="370.68" r="0.43" fill="#8088c0"/><circle cx="24.93" cy="340.3" r="0.3" fill="#7078b8"/><circle cx="108.19" cy="339.3" r="0.42" fill="#8088c0"/><circle cx="68.1" cy="329.05" r="0.36" fill="#8088c0"/><circle cx="62.04" cy="338.61" r="0.31" fill="#8088c0"/><circle cx="32.88" cy="324.34" r="0.51" fill="#8088c0"/><circle cx="63.33" cy="343.89" r="0.55" fill="#74493e"/><circle cx="89.59" cy="307.54" r="0.78" fill="#74493e"/><circle cx="61.64" cy="328.85" r="0.51" fill="#74493e"/><circle cx="45.87" cy="369.64" r="0.69" fill="#6a4236"/><circle cx="53.91" cy="327.81" r="0.8" fill="#966c5e"/><circle cx="42.55" cy="365.3" r="0.51" fill="#966c5e"/><circle cx="25.36" cy="366.98" r="0.49" fill="#74493e"/><circle cx="67.82" cy="363.75" r="0.55" fill="#8c6254"/><circle cx="88.95" cy="376.57" r="0.74" fill="#966c5e"/><circle cx="87.98" cy="314.38" r="0.75" fill="#8c6254"/><circle cx="88" cy="310.06" r="0.7" fill="#6a4236"/><circle cx="49.88" cy="326.16" r="0.57" fill="#6a4236"/><circle cx="113.87" cy="363.7" r="0.47" fill="#6a4236"/><circle cx="71.52" cy="355.12" r="0.46" fill="#80564a"/><circle cx="77.62" cy="337.27" r="0.75" fill="#74493e"/><circle cx="93.96" cy="359.39" r="0.46" fill="#8c6254"/><circle cx="70.48" cy="305.02" r="0.82" fill="#8c6254"/><circle cx="38.27" cy="347.51" r="0.68" fill="#80564a"/><circle cx="119.58" cy="317.21" r="0.69" fill="#8c6254"/><circle cx="84.28" cy="322.2" r="0.76" fill="#80564a"/><circle cx="64.59" cy="376.1" r="0.71" fill="#6a4236"/><circle cx="71.48" cy="375.84" r="0.59" fill="#8c6254"/><circle cx="55.4" cy="365.51" r="0.65" fill="#80564a"/><circle cx="100.14" cy="329.92" r="0.51" fill="#966c5e"/><circle cx="101.45" cy="309.01" r="0.57" fill="#966c5e"/><circle cx="40.77" cy="327.34" r="0.47" fill="#8c6254"/><circle cx="117.08" cy="361.38" r="0.59" fill="#74493e"/><circle cx="50.45" cy="369.74" r="0.64" fill="#966c5e"/><circle cx="55.08" cy="336.58" r="0.49" fill="#8c6254"/><circle cx="58.98" cy="327.9" r="0.77" fill="#6a4236"/><circle cx="49.93" cy="319.43" r="0.81" fill="#6a4236"/><circle cx="72.27" cy="334.38" r="0.51" fill="#8c6254"/><circle cx="28.69" cy="324.92" r="0.66" fill="#966c5e"/><circle cx="105.32" cy="334.64" r="0.48" fill="#6a4236"/><circle cx="59.07" cy="371.66" r="0.66" fill="#8c6254"/><circle cx="105.64" cy="313.36" r="0.63" fill="#80564a"/><circle cx="28.44" cy="365.01" r="0.68" fill="#8c6254"/><circle cx="81.88" cy="330.84" r="0.84" fill="#80564a"/><circle cx="107.94" cy="311.56" r="0.69" fill="#6a4236"/><circle cx="104.02" cy="356.6" r="0.82" fill="#74493e"/><circle cx="85.95" cy="375.31" r="0.7" fill="#80564a"/><circle cx="98.32" cy="333.38" r="0.83" fill="#8c6254"/><circle cx="62.62" cy="341.09" r="0.58" fill="#74493e"/><circle cx="92.37" cy="315" r="0.74" fill="#6a4236"/><circle cx="88.29" cy="370.49" r="0.5" fill="#8c6254"/><circle cx="89.49" cy="372.18" r="0.48" fill="#80564a"/><circle cx="105.69" cy="353.38" r="0.68" fill="#6a4236"/><circle cx="44.89" cy="357.84" r="0.76" fill="#74493e"/><circle cx="38.91" cy="353.66" r="0.75" fill="#966c5e"/><circle cx="36.41" cy="325.19" r="0.46" fill="#6a4236"/><circle cx="108.24" cy="314.11" r="0.73" fill="#6a4236"/><circle cx="82.86" cy="324.64" r="0.48" fill="#966c5e"/><circle cx="82.14" cy="341.76" r="0.69" fill="#74493e"/><circle cx="53.97" cy="330.83" r="0.68" fill="#80564a"/><circle cx="58.78" cy="355.7" r="0.48" fill="#8c6254"/><circle cx="45.31" cy="338.01" r="0.76" fill="#6a4236"/><circle cx="50.71" cy="308.83" r="0.63" fill="#966c5e"/><circle cx="81.27" cy="306.86" r="0.67" fill="#6a4236"/><circle cx="35.04" cy="320.93" r="0.7" fill="#8c6254"/><circle cx="116.44" cy="343.35" r="0.54" fill="#966c5e"/><circle cx="100.12" cy="319.8" r="0.79" fill="#966c5e"/><circle cx="75.68" cy="306.73" r="0.76" fill="#80564a"/><circle cx="101.77" cy="324.12" r="0.6" fill="#8c6254"/><circle cx="93.55" cy="347.32" r="0.61" fill="#966c5e"/><circle cx="115.47" cy="334.44" r="0.72" fill="#80564a"/><circle cx="101.14" cy="374.87" r="0.58" fill="#8c6254"/><circle cx="31.3" cy="339.48" r="0.5" fill="#6a4236"/><circle cx="116.86" cy="368.94" r="0.7" fill="#74493e"/><circle cx="57.06" cy="318.4" r="0.61" fill="#8c6254"/><circle cx="96.89" cy="310.1" r="0.81" fill="#80564a"/><circle cx="66.3" cy="318.97" r="0.73" fill="#74493e"/><circle cx="98.2" cy="319.23" r="0.75" fill="#8c6254"/><circle cx="95.75" cy="373.92" r="0.82" fill="#966c5e"/><circle cx="93.07" cy="309.09" r="0.53" fill="#80564a"/><circle cx="104.12" cy="351.46" r="0.75" fill="#966c5e"/><circle cx="49.64" cy="330.51" r="0.52" fill="#8c6254"/><circle cx="118.99" cy="326.88" r="0.47" fill="#74493e"/><circle cx="90.38" cy="335.32" r="0.46" fill="#6a4236"/><circle cx="98.14" cy="329.6" r="0.79" fill="#8c6254"/><circle cx="98.59" cy="339" r="0.85" fill="#8c6254"/><circle cx="100.24" cy="339.36" r="0.78" fill="#74493e"/><circle cx="105.5" cy="343.17" r="0.55" fill="#6a4236"/><circle cx="44.45" cy="322.94" r="0.46" fill="#74493e"/><circle cx="92.18" cy="373.7" r="0.84" fill="#6a4236"/><circle cx="98.3" cy="357.62" r="0.51" fill="#6a4236"/><circle cx="37.25" cy="305.44" r="0.54" fill="#966c5e"/><circle cx="75.13" cy="306.52" r="0.78" fill="#80564a"/><circle cx="68.69" cy="307.67" r="0.81" fill="#966c5e"/><circle cx="111.59" cy="367.34" r="0.59" fill="#966c5e"/><circle cx="108.87" cy="339.97" r="0.71" fill="#74493e"/><circle cx="25.2" cy="319.47" r="0.59" fill="#80564a"/><circle cx="33.85" cy="368.74" r="0.83" fill="#6a4236"/><circle cx="68" cy="347.36" r="0.7" fill="#6a4236"/><circle cx="97.09" cy="346.24" r="0.74" fill="#6a4236"/><circle cx="40.6" cy="352.22" r="0.79" fill="#74493e"/><circle cx="92.81" cy="338.87" r="0.8" fill="#966c5e"/><circle cx="38.01" cy="371.04" r="0.69" fill="#80564a"/><circle cx="91.18" cy="363.06" r="0.81" fill="#80564a"/><circle cx="61.89" cy="362.19" r="0.78" fill="#80564a"/><circle cx="47.62" cy="370.97" r="0.53" fill="#80564a"/><circle cx="28.13" cy="308.06" r="0.55" fill="#74493e"/><circle cx="98.39" cy="307.74" r="0.67" fill="#966c5e"/><circle cx="112.11" cy="323.75" r="0.51" fill="#80564a"/><circle cx="70.13" cy="374.51" r="0.75" fill="#80564a"/><circle cx="42.32" cy="363.58" r="0.52" fill="#966c5e"/><circle cx="55.31" cy="341.82" r="0.83" fill="#6a4236"/><circle cx="111.83" cy="304.67" r="0.79" fill="#966c5e"/><circle cx="86.28" cy="310.77" r="0.67" fill="#966c5e"/><circle cx="81.16" cy="363.02" r="0.48" fill="#80564a"/><circle cx="87.54" cy="349.52" r="0.63" fill="#80564a"/><circle cx="77.86" cy="319.76" r="0.52" fill="#966c5e"/><circle cx="101.84" cy="338.02" r="0.5" fill="#74493e"/><circle cx="88.52" cy="376.48" r="0.7" fill="#80564a"/><circle cx="76.54" cy="330.31" r="0.49" fill="#74493e"/><circle cx="105.48" cy="366.6" r="0.49" fill="#8c6254"/><circle cx="50.61" cy="327.13" r="0.57" fill="#6a4236"/><circle cx="82.29" cy="376.13" r="0.76" fill="#80564a"/><circle cx="32.01" cy="307.69" r="0.72" fill="#966c5e"/><circle cx="44.88" cy="332.71" r="0.84" fill="#966c5e"/><circle cx="79.25" cy="319.93" r="0.75" fill="#80564a"/><circle cx="111.5" cy="365.78" r="0.74" fill="#80564a"/><circle cx="88.36" cy="314.38" r="0.81" fill="#80564a"/><circle cx="41.64" cy="373.51" r="0.63" fill="#74493e"/><circle cx="48.58" cy="326.5" r="0.59" fill="#8c6254"/><circle cx="60.93" cy="316.37" r="0.52" fill="#6a4236"/><circle cx="97.15" cy="365.76" r="0.85" fill="#8c6254"/><circle cx="50.63" cy="322.78" r="0.61" fill="#80564a"/><circle cx="56.97" cy="344.32" r="0.59" fill="#8c6254"/><circle cx="24.66" cy="360.94" r="0.55" fill="#8c6254"/><circle cx="100.23" cy="343.44" r="0.49" fill="#8c6254"/><circle cx="65" cy="329.16" r="0.48" fill="#80564a"/><circle cx="116.53" cy="316.29" r="0.66" fill="#966c5e"/><circle cx="47.84" cy="371.65" r="0.82" fill="#966c5e"/><circle cx="90.24" cy="375.32" r="0.49" fill="#74493e"/><circle cx="45.28" cy="359.77" r="0.8" fill="#8c6254"/><circle cx="65.61" cy="313.16" r="0.83" fill="#966c5e"/><circle cx="66.24" cy="354.78" r="0.73" fill="#8c6254"/><circle cx="96.27" cy="322.69" r="0.55" fill="#80564a"/><circle cx="33.24" cy="367.91" r="0.71" fill="#966c5e"/><circle cx="116.4" cy="351.59" r="0.69" fill="#80564a"/><circle cx="81.48" cy="355.37" r="0.57" fill="#80564a"/><circle cx="94.03" cy="343.71" r="0.48" fill="#80564a"/><circle cx="38.05" cy="312.76" r="0.65" fill="#966c5e"/><circle cx="90.02" cy="324.52" r="0.76" fill="#74493e"/><circle cx="110.26" cy="323.16" r="0.61" fill="#74493e"/><circle cx="66.9" cy="357.81" r="0.49" fill="#6a4236"/><circle cx="57.13" cy="365.42" r="0.46" fill="#74493e"/><circle cx="34.66" cy="319.79" r="0.59" fill="#8c6254"/><circle cx="50.96" cy="305.22" r="0.53" fill="#80564a"/><circle cx="39.56" cy="352.76" r="0.68" fill="#8c6254"/><circle cx="41.71" cy="315.02" r="0.49" fill="#80564a"/><circle cx="61" cy="352.24" r="0.68" fill="#74493e"/><circle cx="30.41" cy="326.16" r="0.56" fill="#74493e"/><circle cx="113.71" cy="330.51" r="0.67" fill="#74493e"/><circle cx="37.69" cy="362.18" r="0.55" fill="#8c6254"/><circle cx="40.34" cy="353.05" r="0.8" fill="#74493e"/><circle cx="51.69" cy="332.37" r="0.76" fill="#74493e"/><circle cx="86.31" cy="369.4" r="0.76" fill="#8c6254"/><circle cx="47.46" cy="369.86" r="0.56" fill="#80564a"/><circle cx="29.32" cy="353.08" r="0.78" fill="#74493e"/><circle cx="51.36" cy="339.09" r="0.64" fill="#80564a"/><circle cx="68.33" cy="356.58" r="0.49" fill="#80564a"/><circle cx="70.72" cy="372.07" r="0.81" fill="#6a4236"/><circle cx="66.46" cy="313.16" r="0.48" fill="#8c6254"/><circle cx="66.81" cy="322" r="0.59" fill="#80564a"/><circle cx="31.32" cy="320.78" r="0.75" fill="#966c5e"/><circle cx="82.74" cy="377.69" r="0.82" fill="#6a4236"/><circle cx="34.99" cy="373.58" r="0.66" fill="#74493e"/><circle cx="74.2" cy="341.87" r="0.58" fill="#80564a"/><circle cx="32.42" cy="323.92" r="0.82" fill="#6a4236"/><circle cx="99.32" cy="314.14" r="0.77" fill="#8c6254"/><circle cx="33.83" cy="325.04" r="0.77" fill="#80564a"/><circle cx="35.91" cy="376.54" r="0.64" fill="#74493e"/><circle cx="73.06" cy="350.44" r="0.77" fill="#80564a"/><circle cx="85.83" cy="354.78" r="0.46" fill="#74493e"/><circle cx="98.13" cy="353.14" r="0.51" fill="#8c6254"/><circle cx="38.32" cy="363.33" r="0.83" fill="#80564a"/><circle cx="106.2" cy="331.42" r="0.81" fill="#74493e"/><circle cx="91.19" cy="305.65" r="0.63" fill="#80564a"/><circle cx="67.33" cy="366.73" r="0.56" fill="#74493e"/><circle cx="104.48" cy="326.79" r="0.58" fill="#74493e"/><circle cx="114.03" cy="333.93" r="0.72" fill="#80564a"/><circle cx="58.8" cy="339.94" r="0.48" fill="#8c6254"/><circle cx="73.26" cy="373.92" r="0.65" fill="#74493e"/><circle cx="83.7" cy="320.34" r="0.78" fill="#74493e"/><circle cx="54.03" cy="361.91" r="0.56" fill="#8c6254"/><circle cx="27.53" cy="317.49" r="0.62" fill="#80564a"/><circle cx="78.69" cy="360.87" r="0.55" fill="#80564a"/><circle cx="39.25" cy="363.92" r="0.69" fill="#6a4236"/><circle cx="78.05" cy="356.6" r="0.51" fill="#74493e"/><circle cx="78.07" cy="324.55" r="0.62" fill="#74493e"/><circle cx="119.65" cy="314.4" r="0.58" fill="#80564a"/><circle cx="40.49" cy="335.45" r="0.48" fill="#6a4236"/><circle cx="99.79" cy="323.03" r="0.68" fill="#74493e"/><circle cx="106.48" cy="374.55" r="0.56" fill="#6a4236"/><circle cx="33.54" cy="336.38" r="0.78" fill="#80564a"/><circle cx="110.65" cy="309.66" r="0.75" fill="#74493e"/><circle cx="107.45" cy="335.25" r="0.66" fill="#8c6254"/><circle cx="101.41" cy="352.33" r="0.66" fill="#80564a"/><circle cx="67.03" cy="341.07" r="0.66" fill="#8c6254"/><circle cx="110.15" cy="374.95" r="0.53" fill="#80564a"/><circle cx="80.94" cy="323.05" r="0.6" fill="#8c6254"/><circle cx="85.82" cy="334.66" r="0.83" fill="#8c6254"/><circle cx="89.06" cy="309.87" r="0.75" fill="#966c5e"/><circle cx="89.53" cy="320.04" r="0.58" fill="#80564a"/><circle cx="66.9" cy="329.39" r="0.75" fill="#74493e"/><circle cx="68.86" cy="328.24" r="0.84" fill="#6a4236"/><circle cx="32.98" cy="375.57" r="0.67" fill="#6a4236"/><circle cx="116.14" cy="370.39" r="0.54" fill="#8c6254"/><circle cx="60.72" cy="340.69" r="0.6" fill="#74493e"/><circle cx="85.47" cy="368.84" r="0.5" fill="#966c5e"/><circle cx="37.46" cy="334.23" r="0.62" fill="#80564a"/><circle cx="69.25" cy="337.74" r="0.58" fill="#966c5e"/><circle cx="58.4" cy="356.06" r="0.62" fill="#74493e"/><circle cx="101.82" cy="355.24" r="0.72" fill="#74493e"/><circle cx="62.05" cy="313.07" r="0.7" fill="#8c6254"/><circle cx="104.13" cy="351.5" r="0.7" fill="#966c5e"/><circle cx="116.59" cy="318.87" r="0.76" fill="#8c6254"/><circle cx="86.32" cy="316.46" r="0.48" fill="#6a4236"/><circle cx="105.47" cy="368.56" r="0.69" fill="#74493e"/><circle cx="109.99" cy="348.09" r="0.61" fill="#966c5e"/><circle cx="50.46" cy="309.63" r="0.45" fill="#74493e"/><circle cx="32.67" cy="322.72" r="0.52" fill="#74493e"/><circle cx="49.77" cy="356.55" r="0.84" fill="#80564a"/><circle cx="26.78" cy="310.54" r="0.49" fill="#74493e"/><circle cx="38.66" cy="329.05" r="0.66" fill="#8c6254"/><circle cx="52.31" cy="359.22" r="0.8" fill="#8c6254"/><circle cx="29.74" cy="310.64" r="0.51" fill="#80564a"/><circle cx="30.54" cy="308.33" r="0.84" fill="#74493e"/><circle cx="99.95" cy="357.85" r="0.59" fill="#6a4236"/><circle cx="37.94" cy="348.8" r="0.85" fill="#80564a"/><circle cx="96.1" cy="365.91" r="0.62" fill="#8c6254"/><circle cx="92.83" cy="321.29" r="0.77" fill="#6a4236"/><circle cx="33.48" cy="347.41" r="0.53" fill="#6a4236"/><circle cx="101.12" cy="362.42" r="0.54" fill="#80564a"/><circle cx="103.11" cy="339.04" r="0.62" fill="#80564a"/><circle cx="42.87" cy="347.14" r="0.49" fill="#6a4236"/><circle cx="47.46" cy="323.42" r="0.62" fill="#966c5e"/><circle cx="56.13" cy="308.68" r="0.54" fill="#80564a"/><circle cx="45.56" cy="325.79" r="0.71" fill="#6a4236"/><circle cx="83.08" cy="370.51" r="0.53" fill="#8c6254"/><circle cx="119.36" cy="370.28" r="0.5" fill="#80564a"/><circle cx="46.07" cy="360.96" r="0.78" fill="#8c6254"/><circle cx="62.29" cy="342.78" r="0.57" fill="#966c5e"/><circle cx="54.57" cy="325.98" r="0.58" fill="#74493e"/><circle cx="38.91" cy="372.7" r="0.8" fill="#6a4236"/><circle cx="27.38" cy="327.97" r="0.76" fill="#966c5e"/><circle cx="107.4" cy="354.7" r="0.64" fill="#8c6254"/><circle cx="98.4" cy="312.27" r="0.48" fill="#6a4236"/><circle cx="66.17" cy="309.38" r="0.77" fill="#966c5e"/><circle cx="45.65" cy="327.8" r="0.64" fill="#6a4236"/><circle cx="97.91" cy="331.71" r="0.63" fill="#8c6254"/><circle cx="83.47" cy="312.18" r="0.63" fill="#8c6254"/><circle cx="37.18" cy="367.32" r="0.83" fill="#966c5e"/><circle cx="36.79" cy="338.6" r="0.7" fill="#8c6254"/><circle cx="87.17" cy="366.9" r="0.71" fill="#8c6254"/><circle cx="66.18" cy="310.77" r="0.61" fill="#80564a"/><circle cx="92.72" cy="358.37" r="0.46" fill="#74493e"/><circle cx="75.01" cy="355.75" r="0.58" fill="#966c5e"/><circle cx="82.03" cy="334.24" r="0.55" fill="#6a4236"/><circle cx="97.4" cy="335.67" r="0.59" fill="#80564a"/><circle cx="109.42" cy="338.03" r="0.67" fill="#80564a"/><circle cx="49.24" cy="358.72" r="0.81" fill="#6a4236"/><circle cx="69.55" cy="374.51" r="0.69" fill="#8c6254"/><circle cx="96.81" cy="333.28" r="0.53" fill="#74493e"/><circle cx="95.88" cy="371.52" r="0.65" fill="#966c5e"/><circle cx="56.79" cy="322.65" r="0.55" fill="#6a4236"/><circle cx="102.09" cy="355.4" r="0.84" fill="#966c5e"/><circle cx="55.11" cy="317.15" r="0.75" fill="#8c6254"/><circle cx="89.55" cy="352.79" r="0.47" fill="#80564a"/><circle cx="106.75" cy="346.58" r="0.45" fill="#8c6254"/><circle cx="82.3" cy="370.34" r="0.83" fill="#8c6254"/><circle cx="46.22" cy="327.76" r="0.8" fill="#8c6254"/><circle cx="53.24" cy="349.73" r="0.61" fill="#8c6254"/><circle cx="35.01" cy="321.13" r="0.81" fill="#6a4236"/><circle cx="96.57" cy="360.84" r="0.68" fill="#74493e"/><circle cx="102.36" cy="351.66" r="0.47" fill="#74493e"/><circle cx="96.44" cy="364.01" r="0.55" fill="#8c6254"/><circle cx="60.78" cy="365.97" r="0.5" fill="#966c5e"/><circle cx="92.47" cy="353.61" r="0.47" fill="#74493e"/><circle cx="105.3" cy="368.83" r="0.51" fill="#966c5e"/><circle cx="86.68" cy="308.01" r="0.8" fill="#966c5e"/><circle cx="117.82" cy="373.76" r="0.64" fill="#6a4236"/><circle cx="99.05" cy="368.17" r="0.54" fill="#8c6254"/><circle cx="58.89" cy="309.19" r="0.5" fill="#80564a"/><circle cx="110.56" cy="306.37" r="0.6" fill="#966c5e"/><circle cx="30.95" cy="358.75" r="0.53" fill="#6a4236"/><circle cx="85.5" cy="327.28" r="0.64" fill="#6a4236"/><circle cx="54.03" cy="350.78" r="0.81" fill="#6a4236"/><circle cx="54.86" cy="329.75" r="0.79" fill="#8c6254"/><circle cx="79.13" cy="312.25" r="0.68" fill="#966c5e"/><circle cx="31.02" cy="337.16" r="0.45" fill="#74493e"/><circle cx="44.32" cy="331.02" r="0.6" fill="#80564a"/><circle cx="86.9" cy="346.1" r="0.63" fill="#966c5e"/><circle cx="65.7" cy="357.02" r="0.62" fill="#80564a"/><circle cx="42.02" cy="325.8" r="0.66" fill="#8c6254"/><circle cx="34.18" cy="362.61" r="0.69" fill="#80564a"/><circle cx="45.37" cy="369.14" r="0.85" fill="#6a4236"/><circle cx="39.53" cy="351.12" r="0.48" fill="#6a4236"/><circle cx="43.72" cy="326.59" r="0.58" fill="#74493e"/><circle cx="71.32" cy="359.56" r="0.45" fill="#74493e"/><circle cx="82.14" cy="332.17" r="0.78" fill="#74493e"/><circle cx="41.97" cy="371.13" r="0.67" fill="#80564a"/><circle cx="107.27" cy="330.98" r="0.82" fill="#74493e"/><circle cx="72.62" cy="370.48" r="0.79" fill="#74493e"/><circle cx="73.18" cy="372.77" r="0.67" fill="#74493e"/><circle cx="39.1" cy="336.58" r="0.46" fill="#74493e"/><circle cx="81.88" cy="323.47" r="0.56" fill="#6a4236"/><circle cx="45.13" cy="350.5" r="0.47" fill="#80564a"/><circle cx="101" cy="370.62" r="0.52" fill="#74493e"/><circle cx="75.83" cy="321.49" r="0.78" fill="#74493e"/><circle cx="81.96" cy="370.68" r="0.53" fill="#966c5e"/><circle cx="93.26" cy="312.54" r="0.63" fill="#966c5e"/><circle cx="92.22" cy="324.45" r="0.79" fill="#966c5e"/><circle cx="29.51" cy="373.61" r="0.63" fill="#80564a"/><circle cx="107.27" cy="370.21" r="0.67" fill="#6a4236"/><circle cx="38.04" cy="338.17" r="0.71" fill="#966c5e"/><circle cx="56.53" cy="360.61" r="0.55" fill="#74493e"/><circle cx="46.2" cy="368.13" r="0.59" fill="#6a4236"/><circle cx="53.39" cy="316.35" r="0.54" fill="#80564a"/><circle cx="38.08" cy="347.67" r="0.5" fill="#8c6254"/><circle cx="42" cy="339.61" r="0.63" fill="#966c5e"/><circle cx="70.84" cy="373.66" r="0.64" fill="#74493e"/><circle cx="69.47" cy="341.76" r="0.65" fill="#74493e"/><circle cx="31.48" cy="355.84" r="0.84" fill="#6a4236"/><circle cx="34.07" cy="358.23" r="0.58" fill="#6a4236"/><circle cx="86.02" cy="338.56" r="0.78" fill="#966c5e"/><circle cx="25.11" cy="366.68" r="0.74" fill="#8c6254"/><circle cx="73" cy="356.64" r="0.72" fill="#6a4236"/><circle cx="83.56" cy="315.95" r="0.71" fill="#80564a"/><circle cx="108.77" cy="321.71" r="0.82" fill="#6a4236"/><circle cx="55.15" cy="372.5" r="0.69" fill="#8c6254"/><circle cx="109.13" cy="319.88" r="0.6" fill="#966c5e"/><circle cx="113.72" cy="320.98" r="0.78" fill="#74493e"/><circle cx="41.07" cy="370.79" r="0.47" fill="#74493e"/><circle cx="97.62" cy="351.99" r="0.62" fill="#80564a"/><circle cx="69.62" cy="364.11" r="0.82" fill="#80564a"/><circle cx="94.74" cy="349.43" r="0.75" fill="#6a4236"/><circle cx="50.02" cy="377.59" r="0.75" fill="#966c5e"/><circle cx="102.25" cy="347.42" r="0.47" fill="#80564a"/><circle cx="128.31" cy="316.55" r="0.7" fill="#80564a"/><circle cx="103.63" cy="310" r="0.69" fill="#74493e"/><circle cx="75.13" cy="326.8" r="0.58" fill="#6a4236"/><circle cx="105.25" cy="347.23" r="0.46" fill="#74493e"/><circle cx="101.99" cy="351.11" r="0.59" fill="#80564a"/><circle cx="88.06" cy="304.58" r="0.46" fill="#6a4236"/><circle cx="58.16" cy="331.27" r="0.63" fill="#80564a"/><circle cx="63.31" cy="323.91" r="0.65" fill="#74493e"/><circle cx="124.43" cy="310.83" r="0.51" fill="#74493e"/><circle cx="42.34" cy="378.11" r="0.65" fill="#966c5e"/><circle cx="119.52" cy="309.96" r="0.73" fill="#74493e"/><circle cx="62.49" cy="337.73" r="0.58" fill="#6a4236"/><circle cx="82.43" cy="327.17" r="0.58" fill="#6a4236"/><circle cx="86.84" cy="343.55" r="0.77" fill="#966c5e"/><circle cx="128.04" cy="314.56" r="0.58" fill="#966c5e"/><circle cx="116.99" cy="339.05" r="0.68" fill="#966c5e"/><circle cx="116.98" cy="302.59" r="0.85" fill="#6a4236"/><circle cx="123.57" cy="324.12" r="0.68" fill="#8c6254"/><circle cx="58.35" cy="330.61" r="0.45" fill="#966c5e"/><circle cx="105.39" cy="350.88" r="0.5" fill="#6a4236"/><circle cx="112.35" cy="298.39" r="0.48" fill="#6a4236"/><circle cx="71.05" cy="322.28" r="0.74" fill="#74493e"/><circle cx="55.45" cy="362.45" r="0.6" fill="#966c5e"/><circle cx="64.35" cy="339.52" r="0.68" fill="#8c6254"/><circle cx="96.12" cy="301.95" r="0.72" fill="#6a4236"/><circle cx="74.99" cy="370.43" r="0.77" fill="#8c6254"/><circle cx="101.21" cy="307.26" r="0.74" fill="#74493e"/><circle cx="57.42" cy="313" r="0.55" fill="#966c5e"/><circle cx="113.13" cy="315.65" r="0.48" fill="#80564a"/><circle cx="79.63" cy="331.03" r="0.74" fill="#8c6254"/><circle cx="69.15" cy="310.23" r="0.83" fill="#80564a"/><circle cx="103.39" cy="343.34" r="0.52" fill="#74493e"/><circle cx="104.61" cy="302.8" r="0.55" fill="#80564a"/><circle cx="104.4" cy="348.26" r="0.57" fill="#80564a"/><circle cx="19.01" cy="367.54" r="0.63" fill="#80564a"/><circle cx="48.8" cy="364.05" r="0.72" fill="#6a4236"/><circle cx="83.4" cy="323.22" r="0.66" fill="#74493e"/><circle cx="121.48" cy="353.17" r="0.67" fill="#6a4236"/><circle cx="115.68" cy="340.51" r="0.64" fill="#8c6254"/><circle cx="64.4" cy="337.29" r="0.75" fill="#966c5e"/><circle cx="72.24" cy="329.54" r="0.6" fill="#80564a"/><circle cx="92.89" cy="347.73" r="0.58" fill="#966c5e"/><circle cx="61.72" cy="349.78" r="0.58" fill="#6a4236"/><circle cx="68.47" cy="364.89" r="0.6" fill="#8c6254"/><circle cx="112.34" cy="303.54" r="0.67" fill="#74493e"/><circle cx="64.97" cy="321.82" r="0.57" fill="#74493e"/><circle cx="72.85" cy="331.47" r="0.67" fill="#74493e"/><circle cx="51.01" cy="339.45" r="0.78" fill="#80564a"/><circle cx="138.45" cy="335.6" r="0.72" fill="#80564a"/><circle cx="123.16" cy="346.83" r="0.84" fill="#8c6254"/><circle cx="68.13" cy="323.68" r="0.59" fill="#966c5e"/><circle cx="55.93" cy="338.65" r="0.53" fill="#74493e"/><circle cx="105.01" cy="338.5" r="0.56" fill="#966c5e"/><circle cx="59.02" cy="312.08" r="0.85" fill="#80564a"/><circle cx="48.47" cy="361.03" r="0.62" fill="#8c6254"/><circle cx="60.19" cy="344.63" r="0.71" fill="#80564a"/><circle cx="126.94" cy="314.77" r="0.71" fill="#74493e"/><circle cx="61.23" cy="309.61" r="0.59" fill="#8c6254"/><circle cx="109.62" cy="343.66" r="0.51" fill="#80564a"/><circle cx="73.02" cy="327.85" r="0.57" fill="#966c5e"/><circle cx="80.01" cy="335.49" r="0.64" fill="#80564a"/><circle cx="115.38" cy="318.75" r="0.82" fill="#80564a"/><circle cx="95.43" cy="325.61" r="0.76" fill="#6a4236"/><circle cx="65.84" cy="334.97" r="0.76" fill="#74493e"/><circle cx="105.27" cy="317.42" r="0.82" fill="#966c5e"/><circle cx="102.01" cy="352.53" r="0.76" fill="#80564a"/><circle cx="57.52" cy="312.29" r="0.57" fill="#966c5e"/><circle cx="100.96" cy="310.28" r="0.57" fill="#8c6254"/><circle cx="56.9" cy="360.12" r="0.52" fill="#80564a"/><circle cx="112.74" cy="315.34" r="0.71" fill="#74493e"/><circle cx="114.44" cy="316.97" r="0.47" fill="#966c5e"/><circle cx="83.85" cy="329.13" r="0.72" fill="#6a4236"/><circle cx="112.55" cy="342.27" r="0.81" fill="#80564a"/><circle cx="86.96" cy="326.81" r="0.61" fill="#966c5e"/><circle cx="122.28" cy="344.49" r="0.56" fill="#8c6254"/><circle cx="97.69" cy="331.01" r="0.79" fill="#80564a"/><circle cx="102.41" cy="348.84" r="0.53" fill="#8c6254"/><circle cx="49.79" cy="373.54" r="0.55" fill="#80564a"/><circle cx="92.16" cy="303.7" r="0.48" fill="#966c5e"/><circle cx="103.02" cy="308.22" r="0.62" fill="#80564a"/><circle cx="79.19" cy="339.19" r="0.47" fill="#80564a"/><circle cx="61.4" cy="362.21" r="0.54" fill="#8c6254"/><circle cx="70.59" cy="328.74" r="0.61" fill="#8c6254"/><circle cx="109" cy="346.72" r="0.45" fill="#80564a"/><circle cx="52.74" cy="326.58" r="0.7" fill="#74493e"/><circle cx="113.67" cy="341.53" r="0.6" fill="#74493e"/><circle cx="124.96" cy="326.13" r="0.48" fill="#8c6254"/><circle cx="63.93" cy="344.22" r="0.76" fill="#966c5e"/><circle cx="112.89" cy="304.65" r="0.83" fill="#966c5e"/><circle cx="58.72" cy="347.13" r="0.64" fill="#8c6254"/><circle cx="92.69" cy="353.3" r="0.69" fill="#74493e"/><circle cx="70" cy="338.78" r="0.65" fill="#6a4236"/><circle cx="32.68" cy="366.58" r="0.66" fill="#8c6254"/><circle cx="61.05" cy="356.64" r="0.76" fill="#966c5e"/><circle cx="100.91" cy="321.48" r="0.65" fill="#6a4236"/><circle cx="53.12" cy="346.08" r="0.73" fill="#8c6254"/><circle cx="95.21" cy="315.46" r="0.74" fill="#8c6254"/><circle cx="111.05" cy="345.5" r="0.59" fill="#74493e"/><circle cx="98.12" cy="328.66" r="0.74" fill="#8c6254"/><circle cx="60.48" cy="312.92" r="0.47" fill="#8c6254"/><circle cx="56.98" cy="373.6" r="0.66" fill="#8c6254"/><circle cx="83.83" cy="335.67" r="0.74" fill="#74493e"/><circle cx="105.34" cy="309.07" r="0.81" fill="#80564a"/><circle cx="113.08" cy="339.86" r="0.8" fill="#6a4236"/><circle cx="107.99" cy="347.43" r="0.84" fill="#74493e"/><circle cx="98.07" cy="349.56" r="0.72" fill="#74493e"/><circle cx="68.01" cy="318.78" r="0.47" fill="#6a4236"/><circle cx="97.69" cy="338.82" r="0.65" fill="#80564a"/><circle cx="106.52" cy="347.17" r="0.69" fill="#8c6254"/><circle cx="110.69" cy="317.79" r="0.76" fill="#8c6254"/><circle cx="59.91" cy="360.92" r="0.72" fill="#966c5e"/><circle cx="92.06" cy="337.75" r="0.68" fill="#74493e"/><circle cx="125.52" cy="350.7" r="0.79" fill="#74493e"/><circle cx="74.53" cy="331.43" r="0.8" fill="#80564a"/><circle cx="105.66" cy="311.68" r="0.79" fill="#80564a"/><circle cx="49.18" cy="340.81" r="0.63" fill="#6a4236"/><circle cx="69.01" cy="318.31" r="0.58" fill="#6a4236"/><circle cx="83.94" cy="323.71" r="0.58" fill="#74493e"/><circle cx="28.57" cy="364.26" r="0.67" fill="#8c6254"/><circle cx="101.22" cy="346.71" r="0.64" fill="#80564a"/><circle cx="110.02" cy="308.86" r="0.69" fill="#74493e"/><circle cx="77.66" cy="324.15" r="0.6" fill="#80564a"/><circle cx="115.33" cy="333.79" r="0.83" fill="#80564a"/><circle cx="108.78" cy="345.8" r="0.45" fill="#80564a"/><circle cx="59.71" cy="367.43" r="0.61" fill="#6a4236"/><circle cx="121.47" cy="341.75" r="0.6" fill="#74493e"/><circle cx="49.38" cy="366.32" r="0.6" fill="#966c5e"/><circle cx="90.61" cy="335.8" r="0.79" fill="#966c5e"/><circle cx="65.35" cy="329.19" r="0.75" fill="#966c5e"/><circle cx="67.39" cy="312.61" r="0.84" fill="#8c6254"/><circle cx="92.05" cy="358.9" r="0.59" fill="#6a4236"/><circle cx="122.79" cy="313.47" r="0.61" fill="#74493e"/><circle cx="84.28" cy="323.23" r="0.61" fill="#74493e"/><circle cx="102.24" cy="340.63" r="0.78" fill="#8c6254"/><circle cx="120.91" cy="315.97" r="0.83" fill="#6a4236"/><circle cx="105.27" cy="315.28" r="0.53" fill="#74493e"/><circle cx="51.29" cy="358.82" r="0.55" fill="#966c5e"/><circle cx="95.53" cy="336.9" r="0.71" fill="#8c6254"/><circle cx="110.17" cy="343.61" r="0.64" fill="#966c5e"/><circle cx="64.25" cy="371.08" r="0.72" fill="#966c5e"/><circle cx="76.49" cy="315.9" r="0.78" fill="#6a4236"/><circle cx="49.76" cy="313.37" r="0.6" fill="#6a4236"/><circle cx="70.96" cy="337.3" r="0.71" fill="#80564a"/><circle cx="57.66" cy="365.73" r="0.82" fill="#966c5e"/><circle cx="98.06" cy="360.35" r="0.52" fill="#966c5e"/><circle cx="132.91" cy="316.51" r="0.63" fill="#6a4236"/><circle cx="55.69" cy="343.78" r="0.58" fill="#8c6254"/><circle cx="79.41" cy="332.08" r="0.48" fill="#80564a"/><circle cx="111.87" cy="312.79" r="0.51" fill="#8c6254"/><circle cx="110.17" cy="354.9" r="0.48" fill="#74493e"/><circle cx="82.59" cy="295.91" r="0.67" fill="#80564a"/><circle cx="114.28" cy="310.43" r="0.49" fill="#966c5e"/><circle cx="87.8" cy="297.95" r="0.51" fill="#966c5e"/><circle cx="89.68" cy="314.81" r="0.78" fill="#74493e"/><circle cx="111.78" cy="360.9" r="0.65" fill="#74493e"/><circle cx="109.69" cy="347.57" r="0.54" fill="#8c6254"/><circle cx="90.69" cy="305.98" r="0.46" fill="#8c6254"/><circle cx="37.48" cy="376.09" r="0.74" fill="#6a4236"/><circle cx="94.98" cy="347.1" r="0.82" fill="#6a4236"/><circle cx="60.52" cy="355.08" r="0.71" fill="#74493e"/><circle cx="46.23" cy="311.74" r="0.56" fill="#8c6254"/><circle cx="51.07" cy="367.54" r="0.68" fill="#74493e"/><circle cx="62.37" cy="318.01" r="0.77" fill="#8c6254"/><circle cx="88.87" cy="344.81" r="0.7" fill="#74493e"/><circle cx="95.42" cy="360.36" r="0.76" fill="#6a4236"/><circle cx="88.96" cy="310.28" r="0.83" fill="#74493e"/><circle cx="62.3" cy="370.2" r="0.81" fill="#8c6254"/><circle cx="83.41" cy="323.85" r="0.56" fill="#80564a"/><circle cx="97" cy="335.26" r="0.51" fill="#966c5e"/><circle cx="59.62" cy="348.5" r="0.64" fill="#80564a"/><circle cx="132.21" cy="313.49" r="0.63" fill="#966c5e"/><circle cx="53.53" cy="365.75" r="0.76" fill="#8c6254"/><circle cx="73.26" cy="339.62" r="0.71" fill="#8c6254"/><circle cx="56.24" cy="367.14" r="0.71" fill="#8c6254"/><circle cx="99.64" cy="359.74" r="0.77" fill="#80564a"/><circle cx="73.64" cy="329.56" r="0.55" fill="#80564a"/><circle cx="114.48" cy="347.51" r="0.65" fill="#8c6254"/><circle cx="112.01" cy="322.11" r="0.6" fill="#6a4236"/><circle cx="59.83" cy="353.7" r="0.5" fill="#80564a"/><circle cx="95.92" cy="295.61" r="0.85" fill="#74493e"/><circle cx="76.9" cy="320.38" r="0.61" fill="#966c5e"/><circle cx="36.96" cy="376.96" r="0.7" fill="#966c5e"/><circle cx="95.74" cy="298.63" r="0.66" fill="#6a4236"/><circle cx="118.36" cy="350.77" r="0.81" fill="#6a4236"/><circle cx="83.21" cy="322.24" r="0.63" fill="#966c5e"/><circle cx="99.26" cy="329.16" r="0.5" fill="#8c6254"/><circle cx="36.89" cy="370.05" r="0.7" fill="#74493e"/><circle cx="84.58" cy="330.05" r="0.57" fill="#74493e"/><circle cx="92.05" cy="340.17" r="0.71" fill="#80564a"/><circle cx="28.4" cy="372.29" r="0.69" fill="#8c6254"/><circle cx="68.22" cy="373.91" r="0.56" fill="#8c6254"/><circle cx="118.24" cy="335.06" r="0.51" fill="#80564a"/><circle cx="66.59" cy="366.68" r="0.76" fill="#8c6254"/><circle cx="90.79" cy="341.44" r="0.75" fill="#80564a"/><circle cx="52.19" cy="366.04" r="0.84" fill="#6a4236"/><circle cx="53.7" cy="368.71" r="0.84" fill="#8c6254"/><circle cx="90.95" cy="296.56" r="0.61" fill="#966c5e"/><circle cx="120.29" cy="337.16" r="0.71" fill="#8c6254"/><circle cx="93.9" cy="334.77" r="0.69" fill="#8c6254"/><circle cx="95.69" cy="345.25" r="0.51" fill="#8c6254"/><circle cx="90.17" cy="330.23" r="0.48" fill="#966c5e"/><circle cx="92.95" cy="296.5" r="0.81" fill="#6a4236"/><circle cx="71.69" cy="373.92" r="0.61" fill="#966c5e"/><circle cx="118" cy="309.32" r="0.77" fill="#80564a"/><circle cx="124.98" cy="316.46" r="0.71" fill="#80564a"/><circle cx="58.84" cy="347.08" r="0.5" fill="#6a4236"/><circle cx="100.71" cy="311.35" r="0.79" fill="#80564a"/><circle cx="71.55" cy="328.12" r="0.83" fill="#6a4236"/><circle cx="100.55" cy="337.15" r="0.49" fill="#80564a"/><circle cx="67.78" cy="322.88" r="0.74" fill="#8c6254"/><circle cx="98.04" cy="314.81" r="0.46" fill="#6a4236"/><circle cx="66.8" cy="338.52" r="0.71" fill="#966c5e"/><circle cx="67.95" cy="371.26" r="0.59" fill="#8c6254"/><circle cx="52.78" cy="378.21" r="0.57" fill="#8c6254"/><circle cx="63.17" cy="332.44" r="0.66" fill="#966c5e"/><circle cx="92.11" cy="318.58" r="0.83" fill="#8c6254"/><circle cx="73.21" cy="327.74" r="0.67" fill="#74493e"/><circle cx="61.89" cy="340.09" r="0.73" fill="#8c6254"/><circle cx="107.25" cy="330.61" r="0.61" fill="#74493e"/><circle cx="54.57" cy="378.09" r="0.52" fill="#966c5e"/><circle cx="40.88" cy="371.35" r="0.83" fill="#6a4236"/><circle cx="39.75" cy="379.4" r="0.67" fill="#8c6254"/><circle cx="30.78" cy="364.61" r="0.61" fill="#6a4236"/><circle cx="114.39" cy="345.19" r="0.85" fill="#6a4236"/><circle cx="118.35" cy="311" r="0.75" fill="#966c5e"/><circle cx="108.71" cy="335.96" r="0.56" fill="#6a4236"/><circle cx="95.03" cy="314.22" r="0.84" fill="#74493e"/><circle cx="52.76" cy="336.09" r="0.51" fill="#966c5e"/><circle cx="57.14" cy="345.41" r="0.49" fill="#74493e"/><circle cx="98.63" cy="343.1" r="0.79" fill="#8c6254"/><circle cx="112.35" cy="349.63" r="0.61" fill="#80564a"/><circle cx="37.3" cy="377.45" r="0.63" fill="#6a4236"/><circle cx="132.15" cy="323.98" r="0.61" fill="#74493e"/><circle cx="107.02" cy="311.07" r="0.62" fill="#966c5e"/><circle cx="59.53" cy="372.25" r="0.84" fill="#8c6254"/><circle cx="89.6" cy="330.19" r="0.5" fill="#966c5e"/><circle cx="107.1" cy="308.8" r="0.8" fill="#6a4236"/><circle cx="60.54" cy="344.9" r="0.81" fill="#6a4236"/><circle cx="111.67" cy="347.93" r="0.49" fill="#966c5e"/><circle cx="47.13" cy="309.17" r="0.77" fill="#966c5e"/></g>
<g clip-path="url(#c85)"><rect x="85.5" y="304.5" width="33.8" height="35" fill="#e6e7f2"/><circle cx="108.58" cy="306.16" r="1.7" fill="#bcc4e6"/><circle cx="86.79" cy="313.4" r="1.94" fill="#b0b8e0"/><circle cx="107.89" cy="337.31" r="1.98" fill="#d4d8ee"/><circle cx="100.69" cy="320.85" r="1.77" fill="#bcc4e6"/><circle cx="108.78" cy="310.63" r="1.31" fill="#c8cdea"/><circle cx="92.58" cy="311.82" r="1.87" fill="#c8cdea"/><circle cx="117.59" cy="339.38" r="1.65" fill="#bcc4e6"/><circle cx="106.85" cy="310.57" r="2.17" fill="#c8cdea"/><circle cx="100.58" cy="306.85" r="1.23" fill="#d4d8ee"/><circle cx="110.62" cy="322.15" r="1.29" fill="#c8cdea"/><circle cx="114.22" cy="331.79" r="1.79" fill="#c8cdea"/><circle cx="96.97" cy="326.56" r="1.62" fill="#bcc4e6"/><circle cx="107.32" cy="322.19" r="1.52" fill="#d4d8ee"/><circle cx="92.35" cy="316.25" r="1.21" fill="#bcc4e6"/><circle cx="113.97" cy="334.36" r="2.06" fill="#d4d8ee"/><circle cx="109.08" cy="338.31" r="2.04" fill="#d4d8ee"/><circle cx="105.12" cy="304.94" r="1.58" fill="#b0b8e0"/><circle cx="99.34" cy="338.06" r="1.7" fill="#d4d8ee"/><circle cx="89" cy="307.93" r="1.86" fill="#d4d8ee"/><circle cx="110.22" cy="332.51" r="1.8" fill="#bcc4e6"/><circle cx="110.23" cy="320.94" r="1.97" fill="#b0b8e0"/><circle cx="87.05" cy="335.25" r="1.87" fill="#b0b8e0"/><circle cx="108.09" cy="304.6" r="1.67" fill="#c8cdea"/><circle cx="97.38" cy="320.9" r="1.3" fill="#bcc4e6"/><circle cx="96.72" cy="323.51" r="2.13" fill="#d4d8ee"/><circle cx="116.38" cy="324.31" r="2.19" fill="#bcc4e6"/><circle cx="100.05" cy="335.4" r="1.83" fill="#c8cdea"/><circle cx="106.57" cy="321.23" r="1.83" fill="#bcc4e6"/><circle cx="109.33" cy="337.64" r="1.21" fill="#b0b8e0"/><circle cx="109.49" cy="329.04" r="1.97" fill="#c8cdea"/><circle cx="86.54" cy="327.19" r="2" fill="#c8cdea"/><circle cx="110.27" cy="333.8" r="1.95" fill="#b0b8e0"/><circle cx="106.27" cy="309.46" r="2.01" fill="#bcc4e6"/><circle cx="93.86" cy="322.56" r="1.59" fill="#b0b8e0"/><circle cx="90.69" cy="320.19" r="2.04" fill="#b0b8e0"/><circle cx="117.12" cy="305.15" r="1.47" fill="#d4d8ee"/><circle cx="87.27" cy="308.78" r="2.04" fill="#bcc4e6"/><circle cx="98.92" cy="323.67" r="2.13" fill="#bcc4e6"/><circle cx="96.53" cy="306.99" r="1.58" fill="#b0b8e0"/><circle cx="103.81" cy="305.91" r="2.08" fill="#d4d8ee"/><circle cx="102.65" cy="309.51" r="2.02" fill="#bcc4e6"/><circle cx="92.83" cy="337.39" r="2.01" fill="#c8cdea"/><circle cx="116" cy="306.4" r="2.11" fill="#b0b8e0"/><circle cx="88.8" cy="331.33" r="1.97" fill="#b0b8e0"/><circle cx="118.55" cy="309.03" r="1.39" fill="#d4d8ee"/><circle cx="108.63" cy="334.21" r="1.77" fill="#b0b8e0"/><circle cx="112.74" cy="325.67" r="1.38" fill="#b0b8e0"/><circle cx="115.56" cy="312.98" r="1.9" fill="#bcc4e6"/><circle cx="92.32" cy="315.22" r="1.21" fill="#b0b8e0"/><circle cx="88.82" cy="314.36" r="1.97" fill="#d4d8ee"/><circle cx="112.76" cy="323.41" r="1.64" fill="#bcc4e6"/><circle cx="97.3" cy="335.3" r="1.36" fill="#bcc4e6"/><circle cx="117.03" cy="304.73" r="2.11" fill="#d4d8ee"/><circle cx="88.32" cy="313.14" r="1.86" fill="#d4d8ee"/><circle cx="106.65" cy="308.58" r="1.6" fill="#c8cdea"/><circle cx="93.68" cy="332.1" r="1.91" fill="#d4d8ee"/><circle cx="103.47" cy="328.98" r="1.33" fill="#d4d8ee"/><circle cx="87.76" cy="319.15" r="1.49" fill="#bcc4e6"/><circle cx="92.74" cy="315.89" r="1.48" fill="#d4d8ee"/><circle cx="95.76" cy="326.29" r="1.29" fill="#bcc4e6"/><circle cx="100.7" cy="324.34" r="0.95" fill="#7c88c8"/><circle cx="102.21" cy="318.33" r="0.69" fill="#8a95d0"/><circle cx="102.78" cy="311.18" r="0.6" fill="#7c88c8"/><circle cx="113.75" cy="338.25" r="0.74" fill="#8a95d0"/><circle cx="104.33" cy="329.82" r="0.63" fill="#7c88c8"/><circle cx="107.81" cy="315.27" r="0.81" fill="#7c88c8"/><circle cx="96.47" cy="333.57" r="0.72" fill="#7c88c8"/><circle cx="106.19" cy="326.24" r="0.67" fill="#7c88c8"/><circle cx="107.14" cy="335.04" r="0.77" fill="#8a95d0"/><circle cx="94.78" cy="323.27" r="0.8" fill="#8a95d0"/><circle cx="99.93" cy="305.21" r="1" fill="#8a95d0"/><circle cx="109.09" cy="328.38" r="0.64" fill="#8a95d0"/><circle cx="95.98" cy="311.6" r="0.75" fill="#7c88c8"/><circle cx="106.9" cy="317.29" r="0.64" fill="#8a95d0"/><circle cx="95.93" cy="308.52" r="1.6" fill="#946c60"/><circle cx="107.85" cy="324.46" r="1.51" fill="#8a6256"/><circle cx="117.24" cy="325.18" r="1.43" fill="#946c60"/><circle cx="96.64" cy="317.99" r="1.8" fill="#946c60"/><circle cx="86.76" cy="321.99" r="1.41" fill="#7a5448"/><circle cx="112.99" cy="306.47" r="1.24" fill="#7a5448"/><circle cx="115.56" cy="312.77" r="1.62" fill="#946c60"/><circle cx="115.93" cy="318.83" r="1.06" fill="#7a5448"/><circle cx="91.34" cy="311.75" r="1.07" fill="#8a6256"/><circle cx="116.56" cy="333.2" r="1.24" fill="#7a5448"/><circle cx="90.29" cy="315.86" r="1.34" fill="#7a5448"/><circle cx="86.98" cy="321.55" r="1.03" fill="#946c60"/><circle cx="106.64" cy="314.27" r="1.36" fill="#8a6256"/><circle cx="94.52" cy="320.87" r="1.13" fill="#946c60"/><circle cx="117.47" cy="336.03" r="1.61" fill="#8a6256"/><circle cx="105.64" cy="327.39" r="1.31" fill="#7a5448"/><circle cx="91.94" cy="338.58" r="1.54" fill="#8a6256"/><circle cx="107.09" cy="308.01" r="1.27" fill="#8a6256"/><circle cx="106.44" cy="315.66" r="1.01" fill="#946c60"/><circle cx="111.95" cy="329.66" r="1.24" fill="#8a6256"/><circle cx="104.86" cy="312.21" r="1.17" fill="#6a463c"/><circle cx="104.46" cy="321.22" r="1.28" fill="#946c60"/></g>
<g clip-path="url(#c128)"><rect x="128.5" y="304.5" width="95" height="73.2" fill="#f3f3f8"/><circle cx="157.02" cy="349.71" r="1.25" fill="#d4d6ec"/><circle cx="192.64" cy="360.54" r="1.18" fill="#e4e4f2"/><circle cx="195.33" cy="368.12" r="0.88" fill="#e4e4f2"/><circle cx="162.89" cy="370.28" r="1.6" fill="#d4d6ec"/><circle cx="143.57" cy="376.03" r="1.14" fill="#e4e4f2"/><circle cx="148.88" cy="337.55" r="0.87" fill="#e4e4f2"/><circle cx="158.6" cy="355.76" r="1.5" fill="#dedff0"/><circle cx="194.41" cy="322.35" r="1.29" fill="#dedff0"/><circle cx="159.45" cy="313.39" r="1.47" fill="#d4d6ec"/><circle cx="145.86" cy="379.63" r="0.97" fill="#d4d6ec"/><circle cx="173.15" cy="309.2" r="0.87" fill="#dedff0"/><circle cx="208.27" cy="333.68" r="1.15" fill="#e4e4f2"/><circle cx="160.02" cy="363.89" r="1.53" fill="#dedff0"/><circle cx="184.33" cy="366.61" r="1.57" fill="#d4d6ec"/><circle cx="155.27" cy="339.38" r="1.65" fill="#d4d6ec"/><circle cx="173.86" cy="346.01" r="0.84" fill="#dedff0"/><circle cx="173.4" cy="358.29" r="1.65" fill="#d4d6ec"/><circle cx="130.3" cy="327.81" r="1.63" fill="#e4e4f2"/><circle cx="146.03" cy="332.15" r="1.7" fill="#d4d6ec"/><circle cx="155.67" cy="342.06" r="1.37" fill="#d4d6ec"/><circle cx="174.67" cy="338.85" r="1.13" fill="#dedff0"/><circle cx="195.17" cy="321.87" r="1.7" fill="#dedff0"/><circle cx="205.69" cy="321.51" r="1.46" fill="#dedff0"/><circle cx="212.61" cy="322.42" r="1.24" fill="#dedff0"/><circle cx="162.83" cy="381.97" r="1.25" fill="#e4e4f2"/><circle cx="214.82" cy="323.48" r="1.21" fill="#d4d6ec"/><circle cx="155.46" cy="363.93" r="1.26" fill="#d4d6ec"/><circle cx="206.45" cy="362.86" r="0.81" fill="#e4e4f2"/><circle cx="144.26" cy="374.08" r="1.18" fill="#dedff0"/><circle cx="198.78" cy="344.66" r="1.59" fill="#d4d6ec"/><circle cx="180.35" cy="320.61" r="1.48" fill="#d4d6ec"/><circle cx="163.62" cy="348.3" r="1.22" fill="#e4e4f2"/><circle cx="204.39" cy="316.73" r="0.99" fill="#e4e4f2"/><circle cx="172.06" cy="362.5" r="0.91" fill="#d4d6ec"/><circle cx="148.44" cy="350.95" r="1.26" fill="#d4d6ec"/><circle cx="205.41" cy="321.35" r="1.39" fill="#d4d6ec"/><circle cx="122.01" cy="368.27" r="1.32" fill="#dedff0"/><circle cx="149.33" cy="363.23" r="1.19" fill="#d4d6ec"/><circle cx="136.05" cy="336.25" r="1.18" fill="#e4e4f2"/><circle cx="159.28" cy="331.33" r="0.82" fill="#d4d6ec"/><circle cx="165.73" cy="373.96" r="1.33" fill="#e4e4f2"/><circle cx="184.58" cy="356.35" r="1.59" fill="#d4d6ec"/><circle cx="151.21" cy="327.62" r="1.62" fill="#dedff0"/><circle cx="215.53" cy="327.42" r="1.43" fill="#e4e4f2"/><circle cx="145.56" cy="364.68" r="1.52" fill="#e4e4f2"/><circle cx="163.88" cy="379.41" r="1.43" fill="#e4e4f2"/><circle cx="203.35" cy="324.51" r="0.99" fill="#d4d6ec"/><circle cx="145.4" cy="355.12" r="1.6" fill="#d4d6ec"/><circle cx="168.72" cy="366.56" r="1.18" fill="#dedff0"/><circle cx="189.7" cy="369.7" r="0.91" fill="#dedff0"/><circle cx="144.17" cy="368.74" r="1.09" fill="#e4e4f2"/><circle cx="134.64" cy="331.45" r="1.45" fill="#e4e4f2"/><circle cx="185.5" cy="312.32" r="1.35" fill="#dedff0"/><circle cx="120.53" cy="331.14" r="1.37" fill="#e4e4f2"/><circle cx="177.34" cy="357.06" r="0.98" fill="#e4e4f2"/><circle cx="175.58" cy="319.97" r="1.26" fill="#e4e4f2"/><circle cx="172.13" cy="324.74" r="1.45" fill="#e4e4f2"/><circle cx="128.85" cy="321.88" r="1.35" fill="#d4d6ec"/><circle cx="171.38" cy="371.07" r="1.45" fill="#dedff0"/><circle cx="219.01" cy="324.55" r="1.57" fill="#e4e4f2"/><circle cx="197.34" cy="311.81" r="1.18" fill="#d4d6ec"/><circle cx="139.14" cy="339.36" r="1.1" fill="#dedff0"/><circle cx="217.04" cy="352.71" r="0.92" fill="#e4e4f2"/><circle cx="155.18" cy="315.46" r="1.34" fill="#dedff0"/><circle cx="185.23" cy="348.2" r="1.49" fill="#e4e4f2"/><circle cx="129.84" cy="358.15" r="0.97" fill="#e4e4f2"/><circle cx="193.93" cy="360.18" r="1.3" fill="#e4e4f2"/><circle cx="177.71" cy="370.07" r="1.05" fill="#e4e4f2"/><circle cx="156.82" cy="343.75" r="1.43" fill="#d4d6ec"/><circle cx="139.67" cy="333.81" r="0.82" fill="#d4d6ec"/><circle cx="132.92" cy="324.24" r="1.37" fill="#e4e4f2"/><circle cx="188.99" cy="385.05" r="1.48" fill="#e4e4f2"/><circle cx="227.48" cy="329.07" r="1.03" fill="#dedff0"/><circle cx="211.37" cy="324.58" r="1.6" fill="#e4e4f2"/><circle cx="156.55" cy="321.52" r="1.53" fill="#d4d6ec"/><circle cx="143.9" cy="335.36" r="1.05" fill="#d4d6ec"/><circle cx="191.61" cy="359.66" r="0.88" fill="#e4e4f2"/><circle cx="156.66" cy="347.2" r="1.11" fill="#e4e4f2"/><circle cx="210.27" cy="324.29" r="1.66" fill="#d4d6ec"/><circle cx="174.08" cy="382.62" r="1.61" fill="#d4d6ec"/><circle cx="208.55" cy="364.39" r="1.26" fill="#dedff0"/><circle cx="185.27" cy="333.69" r="1.32" fill="#dedff0"/><circle cx="181.95" cy="357.2" r="1.39" fill="#dedff0"/><circle cx="171.21" cy="352.68" r="0.92" fill="#e4e4f2"/><circle cx="160.8" cy="320.95" r="0.94" fill="#e4e4f2"/><circle cx="152.78" cy="349.02" r="1.09" fill="#dedff0"/><circle cx="154.73" cy="367.3" r="0.91" fill="#e4e4f2"/><circle cx="149.21" cy="358.76" r="1.16" fill="#dedff0"/><circle cx="131.98" cy="344.69" r="1.58" fill="#dedff0"/><circle cx="177.77" cy="326.47" r="1.58" fill="#d4d6ec"/><circle cx="126.84" cy="323.82" r="1.1" fill="#e4e4f2"/><circle cx="179.32" cy="358.85" r="1.44" fill="#e4e4f2"/><circle cx="128.66" cy="329.59" r="1.49" fill="#d4d6ec"/><circle cx="167.68" cy="373.92" r="0.94" fill="#e4e4f2"/><circle cx="202.8" cy="322.14" r="1.07" fill="#d4d6ec"/><circle cx="183.2" cy="377.73" r="0.85" fill="#d4d6ec"/><circle cx="138.14" cy="320.72" r="1.12" fill="#d4d6ec"/><circle cx="168.91" cy="331.89" r="0.92" fill="#dedff0"/><circle cx="146.51" cy="324.52" r="1.39" fill="#e4e4f2"/><circle cx="203.42" cy="358.96" r="1.05" fill="#d4d6ec"/><circle cx="191.29" cy="367.68" r="0.88" fill="#dedff0"/><circle cx="139.36" cy="361.65" r="1.2" fill="#d4d6ec"/><circle cx="157.18" cy="322.67" r="1" fill="#d4d6ec"/><circle cx="222.85" cy="318.52" r="1.14" fill="#dedff0"/><circle cx="203.98" cy="304.09" r="1.48" fill="#d4d6ec"/><circle cx="231.21" cy="327.29" r="0.8" fill="#dedff0"/><circle cx="148.61" cy="362.71" r="1.51" fill="#dedff0"/><circle cx="167.63" cy="371.14" r="1.36" fill="#dedff0"/><circle cx="126.54" cy="366.5" r="1.1" fill="#d4d6ec"/><circle cx="131" cy="350.89" r="1.43" fill="#d4d6ec"/><circle cx="181.38" cy="340.58" r="1.44" fill="#e4e4f2"/><circle cx="169.88" cy="369.17" r="1.24" fill="#dedff0"/><circle cx="170.86" cy="361.85" r="1.09" fill="#e4e4f2"/><circle cx="142.49" cy="341.87" r="1.62" fill="#d4d6ec"/><circle cx="141.09" cy="357.65" r="1.29" fill="#e4e4f2"/><circle cx="180.08" cy="320.92" r="1.17" fill="#d4d6ec"/><circle cx="165.27" cy="343.52" r="1.63" fill="#d4d6ec"/><circle cx="161.43" cy="339.3" r="1" fill="#dedff0"/><circle cx="215.53" cy="331.87" r="1.28" fill="#e4e4f2"/><circle cx="155.01" cy="348.63" r="1.45" fill="#d4d6ec"/><circle cx="131.69" cy="362.5" r="1.22" fill="#e4e4f2"/><circle cx="139.29" cy="336.54" r="1.65" fill="#e4e4f2"/><circle cx="193.86" cy="357.26" r="0.82" fill="#d4d6ec"/><circle cx="194.16" cy="321.61" r="1.13" fill="#d4d6ec"/><circle cx="178.38" cy="365.08" r="1.12" fill="#e4e4f2"/><circle cx="197.75" cy="352.32" r="1.56" fill="#e4e4f2"/><circle cx="163.74" cy="356.94" r="1.07" fill="#dedff0"/><circle cx="169.63" cy="353.01" r="0.86" fill="#d4d6ec"/><circle cx="175.88" cy="318.34" r="1.25" fill="#dedff0"/><circle cx="173.6" cy="376.41" r="1.03" fill="#e4e4f2"/><circle cx="127.34" cy="325.66" r="1.28" fill="#d4d6ec"/><circle cx="174.67" cy="333.79" r="1.3" fill="#d4d6ec"/><circle cx="205.88" cy="350.63" r="1.54" fill="#dedff0"/><circle cx="150.01" cy="359.46" r="1.03" fill="#e4e4f2"/><circle cx="182.91" cy="349.51" r="1.44" fill="#d4d6ec"/><circle cx="220.16" cy="332.08" r="0.86" fill="#d4d6ec"/><circle cx="127.87" cy="329.21" r="0.87" fill="#e4e4f2"/><circle cx="156.55" cy="344.81" r="1.63" fill="#d4d6ec"/><circle cx="222.63" cy="316.27" r="1.54" fill="#e4e4f2"/><circle cx="216.39" cy="317.46" r="1.36" fill="#d4d6ec"/><circle cx="208.31" cy="375.77" r="1.29" fill="#d4d6ec"/><circle cx="200.1" cy="363.73" r="1.2" fill="#dedff0"/><circle cx="181.32" cy="380.24" r="1.19" fill="#dedff0"/><circle cx="164.31" cy="360.7" r="0.92" fill="#e4e4f2"/><circle cx="156.31" cy="349.3" r="1.59" fill="#dedff0"/><circle cx="166.27" cy="319.28" r="1.34" fill="#e4e4f2"/><circle cx="193.48" cy="375.84" r="1.01" fill="#d4d6ec"/><circle cx="154.21" cy="375.88" r="0.87" fill="#d4d6ec"/><circle cx="150.7" cy="373.88" r="1.2" fill="#dedff0"/><circle cx="158.96" cy="383.54" r="1.64" fill="#e4e4f2"/><circle cx="158.68" cy="352.35" r="1.52" fill="#dedff0"/><circle cx="198.75" cy="335.07" r="1.21" fill="#e4e4f2"/><circle cx="154.07" cy="378.6" r="1.52" fill="#dedff0"/><circle cx="179.14" cy="341.1" r="1.23" fill="#e4e4f2"/><circle cx="196.56" cy="345.87" r="1.18" fill="#dedff0"/><circle cx="203.36" cy="326.61" r="1.34" fill="#d4d6ec"/><circle cx="191.01" cy="318.64" r="1.37" fill="#d4d6ec"/><circle cx="222.53" cy="343.73" r="1.7" fill="#e4e4f2"/><circle cx="185.71" cy="371.68" r="1.39" fill="#dedff0"/><circle cx="157.84" cy="352.86" r="1.1" fill="#dedff0"/><circle cx="159.59" cy="334.64" r="1.22" fill="#d4d6ec"/><circle cx="207.55" cy="323.77" r="0.83" fill="#e4e4f2"/><circle cx="198.09" cy="367.79" r="1.37" fill="#dedff0"/><circle cx="149.21" cy="360.16" r="1.12" fill="#d4d6ec"/><circle cx="181.34" cy="365.09" r="1.5" fill="#dedff0"/><circle cx="235.93" cy="330.66" r="1.56" fill="#dedff0"/><circle cx="183.76" cy="354.24" r="1.44" fill="#dedff0"/><circle cx="184.71" cy="353.12" r="1.27" fill="#e4e4f2"/><circle cx="140.19" cy="371.44" r="0.81" fill="#d4d6ec"/><circle cx="131.08" cy="331.84" r="0.83" fill="#d4d6ec"/><circle cx="146.91" cy="314.75" r="1.04" fill="#d4d6ec"/><circle cx="212" cy="324.49" r="1.11" fill="#dedff0"/><circle cx="188.67" cy="329.43" r="0.8" fill="#e4e4f2"/><circle cx="175.48" cy="362.26" r="1.55" fill="#dedff0"/><circle cx="172.1" cy="376.06" r="1.59" fill="#d4d6ec"/><circle cx="181.47" cy="323.2" r="1.57" fill="#dedff0"/><circle cx="152.77" cy="355.35" r="1.68" fill="#e4e4f2"/><circle cx="152.91" cy="310.89" r="1.32" fill="#d4d6ec"/><circle cx="207.41" cy="316.2" r="0.87" fill="#dedff0"/><circle cx="159.68" cy="391.46" r="1.15" fill="#dedff0"/><circle cx="163.67" cy="352.9" r="1.7" fill="#e4e4f2"/><circle cx="184.71" cy="358.81" r="1.49" fill="#e4e4f2"/><circle cx="193.6" cy="382.53" r="1.64" fill="#dedff0"/><circle cx="163.13" cy="333.37" r="1.15" fill="#dedff0"/><circle cx="198.72" cy="372.9" r="0.88" fill="#dedff0"/><circle cx="146.08" cy="329.88" r="1.58" fill="#dedff0"/><circle cx="177.47" cy="312.49" r="0.83" fill="#dedff0"/><circle cx="120.83" cy="333.62" r="1.18" fill="#dedff0"/><circle cx="208.55" cy="326.43" r="1.11" fill="#e4e4f2"/><circle cx="179.75" cy="368.53" r="1.22" fill="#e4e4f2"/><circle cx="146.09" cy="338.61" r="1.62" fill="#d4d6ec"/><circle cx="207.79" cy="315.73" r="1.51" fill="#e4e4f2"/><circle cx="169.74" cy="341.09" r="1.51" fill="#dedff0"/><circle cx="180.42" cy="339.38" r="1.39" fill="#dedff0"/><circle cx="185.84" cy="362.87" r="1.29" fill="#e4e4f2"/><circle cx="205.31" cy="347.31" r="1.53" fill="#d4d6ec"/><circle cx="225.2" cy="330.86" r="1.04" fill="#e4e4f2"/><circle cx="190.57" cy="381.26" r="1.08" fill="#d4d6ec"/><circle cx="183.51" cy="316.99" r="0.87" fill="#e4e4f2"/><circle cx="195.34" cy="313.36" r="1.24" fill="#dedff0"/><circle cx="181.91" cy="367.02" r="1.69" fill="#dedff0"/><circle cx="188.74" cy="382.56" r="0.97" fill="#d4d6ec"/><circle cx="136.34" cy="327.75" r="1.39" fill="#dedff0"/><circle cx="148.99" cy="361.44" r="0.87" fill="#dedff0"/><circle cx="189.9" cy="315.65" r="1.31" fill="#e4e4f2"/><circle cx="221.57" cy="316.64" r="1.32" fill="#d4d6ec"/><circle cx="191.9" cy="382.02" r="0.89" fill="#d4d6ec"/><circle cx="209.41" cy="374.41" r="0.94" fill="#d4d6ec"/><circle cx="197.02" cy="332.62" r="1.43" fill="#dedff0"/><circle cx="184.89" cy="324.27" r="1.02" fill="#dedff0"/><circle cx="222.99" cy="332.5" r="1.6" fill="#d4d6ec"/><circle cx="220.28" cy="324.8" r="1.33" fill="#d4d6ec"/><circle cx="186.9" cy="360.06" r="1.31" fill="#d4d6ec"/><circle cx="196.62" cy="352.16" r="1.64" fill="#e4e4f2"/><circle cx="149.61" cy="329.8" r="1.46" fill="#d4d6ec"/><circle cx="170.26" cy="312.33" r="1.42" fill="#dedff0"/><circle cx="139.83" cy="352.47" r="1.37" fill="#dedff0"/><circle cx="155.99" cy="327.25" r="1.31" fill="#e4e4f2"/><circle cx="137.24" cy="374.08" r="1.46" fill="#dedff0"/><circle cx="191.97" cy="318.51" r="1.04" fill="#e4e4f2"/><circle cx="199.79" cy="315.86" r="1.4" fill="#e4e4f2"/><circle cx="159.54" cy="320.01" r="1.12" fill="#dedff0"/><circle cx="135.39" cy="342.53" r="1.08" fill="#dedff0"/><circle cx="186.72" cy="325.39" r="0.95" fill="#e4e4f2"/><circle cx="160.96" cy="352.25" r="1.1" fill="#d4d6ec"/><circle cx="147.9" cy="363.79" r="0.88" fill="#e4e4f2"/><circle cx="151.15" cy="344.07" r="1.09" fill="#e4e4f2"/><circle cx="177.45" cy="317.66" r="0.93" fill="#dedff0"/><circle cx="172.93" cy="375.64" r="0.92" fill="#d4d6ec"/><circle cx="141.36" cy="357.54" r="0.84" fill="#d4d6ec"/><circle cx="180.87" cy="360.46" r="1.42" fill="#d4d6ec"/><circle cx="183.51" cy="324.02" r="0.86" fill="#d4d6ec"/><circle cx="147" cy="338.58" r="1.06" fill="#d4d6ec"/><circle cx="174.79" cy="377.39" r="1.01" fill="#e4e4f2"/><circle cx="221.61" cy="328.41" r="1.29" fill="#dedff0"/><circle cx="161.97" cy="355.41" r="1.17" fill="#d4d6ec"/><circle cx="151.84" cy="321.45" r="1.49" fill="#dedff0"/><circle cx="161.69" cy="351.75" r="0.87" fill="#e4e4f2"/><circle cx="171.49" cy="373.57" r="1.25" fill="#dedff0"/><circle cx="192.05" cy="310.34" r="1.25" fill="#d4d6ec"/><circle cx="195.61" cy="331" r="0.81" fill="#e4e4f2"/><circle cx="128.27" cy="315.77" r="1.01" fill="#d4d6ec"/><circle cx="156.05" cy="322.27" r="1.34" fill="#dedff0"/><circle cx="134.19" cy="323.38" r="1.02" fill="#dedff0"/><circle cx="121.27" cy="334.63" r="1.21" fill="#e4e4f2"/><circle cx="145" cy="375.96" r="1.28" fill="#e4e4f2"/><circle cx="152.58" cy="321.32" r="1.63" fill="#e4e4f2"/><circle cx="176.6" cy="341.37" r="0.94" fill="#d4d6ec"/><circle cx="179.65" cy="375.55" r="1.67" fill="#e4e4f2"/><circle cx="201.36" cy="318.97" r="1.27" fill="#dedff0"/><circle cx="212.66" cy="376.62" r="1.16" fill="#d4d6ec"/><circle cx="172.79" cy="364.07" r="1.18" fill="#dedff0"/><circle cx="145.72" cy="367.86" r="1.01" fill="#e4e4f2"/><circle cx="181.68" cy="339" r="1.67" fill="#d4d6ec"/><circle cx="178.58" cy="357.4" r="1.54" fill="#dedff0"/><circle cx="179.43" cy="329.15" r="1.47" fill="#e4e4f2"/><circle cx="196.47" cy="339.44" r="0.91" fill="#dedff0"/><circle cx="163.65" cy="361.8" r="1.37" fill="#dedff0"/><circle cx="160.23" cy="357.58" r="1.51" fill="#e4e4f2"/><circle cx="218.86" cy="331.72" r="0.99" fill="#dedff0"/><circle cx="127.19" cy="361.95" r="1.57" fill="#dedff0"/><circle cx="141.08" cy="369.76" r="1.32" fill="#dedff0"/><circle cx="179.54" cy="372.88" r="1.02" fill="#d4d6ec"/><circle cx="138.74" cy="371.8" r="1.18" fill="#d4d6ec"/><circle cx="145.39" cy="331.94" r="0.96" fill="#dedff0"/><circle cx="189.71" cy="342.85" r="1.46" fill="#e4e4f2"/><circle cx="181.27" cy="334" r="0.83" fill="#dedff0"/><circle cx="160.38" cy="331.18" r="1.13" fill="#e4e4f2"/><circle cx="181.95" cy="314.66" r="1.37" fill="#dedff0"/><circle cx="181.84" cy="349.03" r="1.23" fill="#d4d6ec"/><circle cx="204.64" cy="326.88" r="1.08" fill="#d4d6ec"/><circle cx="194.1" cy="318.46" r="1.37" fill="#e4e4f2"/><circle cx="172.72" cy="377.42" r="1.28" fill="#dedff0"/><circle cx="202.11" cy="346.46" r="1.12" fill="#e4e4f2"/><circle cx="169.05" cy="349.27" r="1.64" fill="#dedff0"/><circle cx="166.51" cy="335.87" r="0.82" fill="#d4d6ec"/><circle cx="150.82" cy="337.91" r="1.41" fill="#dedff0"/><circle cx="191.22" cy="362.87" r="1.41" fill="#d4d6ec"/><circle cx="156.03" cy="381.76" r="1.57" fill="#e4e4f2"/><circle cx="181.69" cy="317.62" r="1.24" fill="#d4d6ec"/><circle cx="180.92" cy="377.14" r="1.05" fill="#e4e4f2"/><circle cx="197.51" cy="348.95" r="0.8" fill="#e4e4f2"/><circle cx="189.25" cy="367.11" r="1.29" fill="#e4e4f2"/><circle cx="222.63" cy="330.84" r="0.83" fill="#d4d6ec"/><circle cx="190.96" cy="348.71" r="1.25" fill="#dedff0"/><circle cx="185.66" cy="357.92" r="1.34" fill="#dedff0"/><circle cx="180.94" cy="361.59" r="1.29" fill="#dedff0"/><circle cx="182.56" cy="352" r="1.58" fill="#d4d6ec"/><circle cx="187.59" cy="364.9" r="1.17" fill="#d4d6ec"/><circle cx="199.18" cy="333.79" r="1.12" fill="#dedff0"/><circle cx="191.01" cy="331.36" r="1.5" fill="#e4e4f2"/><circle cx="142.47" cy="372.74" r="1.48" fill="#dedff0"/><circle cx="199.83" cy="310.15" r="1.56" fill="#dedff0"/><circle cx="194.93" cy="323.29" r="1.58" fill="#d4d6ec"/><circle cx="210.32" cy="351.18" r="0.87" fill="#d4d6ec"/><circle cx="204.34" cy="351.05" r="1.46" fill="#dedff0"/><circle cx="183.62" cy="323.86" r="1.07" fill="#dedff0"/><circle cx="186.63" cy="317.99" r="1.08" fill="#d4d6ec"/><circle cx="149.79" cy="375.62" r="1.13" fill="#e4e4f2"/><circle cx="176.57" cy="328.87" r="0.85" fill="#d4d6ec"/><circle cx="158.61" cy="333.66" r="0.93" fill="#e4e4f2"/><circle cx="209.33" cy="351.83" r="1.19" fill="#d4d6ec"/><circle cx="150.2" cy="339.92" r="1.43" fill="#dedff0"/><circle cx="209.02" cy="334.35" r="1.31" fill="#d4d6ec"/><circle cx="147.58" cy="319.67" r="1.65" fill="#d4d6ec"/><circle cx="179.37" cy="353.79" r="1.03" fill="#d4d6ec"/><circle cx="172.95" cy="333.18" r="1.57" fill="#e4e4f2"/><circle cx="154.48" cy="352.56" r="1.34" fill="#d4d6ec"/><circle cx="143.98" cy="353.43" r="1.29" fill="#dedff0"/><circle cx="138.82" cy="326.68" r="1.3" fill="#d4d6ec"/><circle cx="152.06" cy="362" r="1.26" fill="#e4e4f2"/><circle cx="178.93" cy="337.2" r="0.93" fill="#dedff0"/><circle cx="182.15" cy="314.04" r="1.52" fill="#dedff0"/><circle cx="169.17" cy="361.45" r="1.43" fill="#e4e4f2"/><circle cx="210.89" cy="315.95" r="0.89" fill="#e4e4f2"/><circle cx="171.57" cy="335.52" r="1.22" fill="#dedff0"/><circle cx="187.83" cy="366.14" r="1.58" fill="#d4d6ec"/><circle cx="179.64" cy="362.65" r="1.66" fill="#d4d6ec"/><circle cx="148.69" cy="344.95" r="1.35" fill="#d4d6ec"/><circle cx="177.74" cy="366.22" r="0.81" fill="#d4d6ec"/><circle cx="144.24" cy="332.4" r="1.24" fill="#dedff0"/><circle cx="171.88" cy="319.7" r="1.68" fill="#dedff0"/><circle cx="134.72" cy="370.41" r="1.31" fill="#d4d6ec"/><circle cx="149.48" cy="340.54" r="1.67" fill="#dedff0"/><circle cx="165.54" cy="343.41" r="1.54" fill="#d4d6ec"/><circle cx="199.09" cy="317.68" r="0.86" fill="#e4e4f2"/><circle cx="180.89" cy="386.78" r="0.85" fill="#dedff0"/><circle cx="202.66" cy="326.08" r="1.65" fill="#e4e4f2"/><circle cx="199.02" cy="356.04" r="0.99" fill="#e4e4f2"/><circle cx="155.98" cy="339.87" r="1.05" fill="#d4d6ec"/><circle cx="146.2" cy="323.12" r="0.93" fill="#d4d6ec"/><circle cx="192.87" cy="341.59" r="0.85" fill="#dedff0"/><circle cx="163.84" cy="321.6" r="0.93" fill="#e4e4f2"/><circle cx="164.58" cy="379.56" r="1.19" fill="#e4e4f2"/><circle cx="175.97" cy="379.62" r="1.05" fill="#d4d6ec"/><circle cx="183.52" cy="355.43" r="1.63" fill="#dedff0"/><circle cx="173.7" cy="319.05" r="1.54" fill="#dedff0"/><circle cx="160.8" cy="329.59" r="1.28" fill="#dedff0"/><circle cx="223.35" cy="313.97" r="1.37" fill="#e4e4f2"/><circle cx="144.3" cy="343.4" r="1.12" fill="#d4d6ec"/><circle cx="154.58" cy="339.9" r="1.07" fill="#e4e4f2"/><circle cx="187.66" cy="333.25" r="1.6" fill="#e4e4f2"/><circle cx="151.19" cy="368.33" r="1.02" fill="#dedff0"/><circle cx="212.24" cy="331.61" r="1.32" fill="#e4e4f2"/><circle cx="194.88" cy="339.09" r="1.19" fill="#d4d6ec"/><circle cx="201.66" cy="319.43" r="1.56" fill="#e4e4f2"/><circle cx="174.22" cy="371.54" r="1.16" fill="#dedff0"/><circle cx="161.65" cy="389.05" r="1.69" fill="#dedff0"/><circle cx="157.62" cy="338.67" r="1.6" fill="#dedff0"/><circle cx="188.65" cy="366.67" r="1.65" fill="#e4e4f2"/><circle cx="186.61" cy="356.19" r="1.14" fill="#e4e4f2"/><circle cx="131.65" cy="340.97" r="0.92" fill="#d4d6ec"/><circle cx="189.61" cy="319.21" r="0.98" fill="#e4e4f2"/><circle cx="182.14" cy="314.68" r="1.06" fill="#d4d6ec"/><circle cx="143.05" cy="353.26" r="0.99" fill="#d4d6ec"/><circle cx="187.4" cy="323.91" r="0.87" fill="#e4e4f2"/><circle cx="142.21" cy="321.68" r="1.14" fill="#d4d6ec"/><circle cx="156.54" cy="333.79" r="1" fill="#dedff0"/><circle cx="160.53" cy="353.92" r="1.29" fill="#e4e4f2"/><circle cx="165.63" cy="369.04" r="1.68" fill="#d4d6ec"/><circle cx="189.54" cy="338.12" r="1.3" fill="#e4e4f2"/><circle cx="145.03" cy="316.01" r="1.06" fill="#dedff0"/><circle cx="219.67" cy="316.97" r="1.34" fill="#d4d6ec"/><circle cx="215.84" cy="324.01" r="1.46" fill="#dedff0"/><circle cx="128.26" cy="371.96" r="1.55" fill="#dedff0"/><circle cx="149.84" cy="340.34" r="1.3" fill="#e4e4f2"/><circle cx="145.46" cy="337.3" r="1.51" fill="#dedff0"/><circle cx="160.54" cy="334.05" r="1" fill="#e4e4f2"/><circle cx="167.62" cy="332.57" r="0.84" fill="#e4e4f2"/><circle cx="192.95" cy="367.98" r="0.87" fill="#e4e4f2"/><circle cx="133.09" cy="381.76" r="1.16" fill="#d4d6ec"/><circle cx="176.88" cy="322.41" r="1.04" fill="#dedff0"/><circle cx="180.5" cy="367.71" r="1.54" fill="#d4d6ec"/><circle cx="198.21" cy="315.11" r="1.21" fill="#e4e4f2"/><circle cx="145.96" cy="325.59" r="1.29" fill="#dedff0"/><circle cx="190.76" cy="354.5" r="1.34" fill="#d4d6ec"/><circle cx="174.53" cy="368.58" r="1" fill="#dedff0"/><circle cx="172.03" cy="359.9" r="1.17" fill="#d4d6ec"/><circle cx="163.47" cy="354.32" r="1.26" fill="#d4d6ec"/><circle cx="182.48" cy="377.2" r="1.42" fill="#dedff0"/><circle cx="158.58" cy="371.85" r="0.53" fill="#4a4a9c"/><circle cx="149.13" cy="336.87" r="0.52" fill="#8080c4"/><circle cx="128.03" cy="363.46" r="0.52" fill="#5858a8"/><circle cx="142.98" cy="355.13" r="0.47" fill="#9a9ad0"/><circle cx="151.67" cy="354.73" r="0.55" fill="#8080c4"/><circle cx="204.67" cy="311.76" r="0.54" fill="#4a4a9c"/><circle cx="142.82" cy="320.05" r="0.54" fill="#9a9ad0"/><circle cx="144.59" cy="306.62" r="0.47" fill="#4a4a9c"/><circle cx="203.86" cy="311.99" r="0.53" fill="#8080c4"/><circle cx="142.86" cy="364.38" r="0.3" fill="#8080c4"/><circle cx="218.43" cy="329.48" r="0.5" fill="#9a9ad0"/><circle cx="160.72" cy="377.35" r="0.38" fill="#9a9ad0"/><circle cx="222.31" cy="316.68" r="0.3" fill="#8080c4"/><circle cx="188.03" cy="316.82" r="0.35" fill="#6c6cb8"/><circle cx="213.87" cy="293.07" r="0.48" fill="#5858a8"/><circle cx="156.48" cy="360.26" r="0.37" fill="#6c6cb8"/><circle cx="200.88" cy="350.73" r="0.33" fill="#5858a8"/><circle cx="181.71" cy="333.29" r="0.43" fill="#5858a8"/><circle cx="131.6" cy="327.01" r="0.48" fill="#8080c4"/><circle cx="204.67" cy="296.7" r="0.29" fill="#4a4a9c"/><circle cx="129.26" cy="336.31" r="0.36" fill="#8080c4"/><circle cx="164.62" cy="339.22" r="0.52" fill="#5858a8"/><circle cx="138.84" cy="363.72" r="0.44" fill="#5858a8"/><circle cx="166.42" cy="302.82" r="0.49" fill="#5858a8"/><circle cx="163.13" cy="339.64" r="0.44" fill="#9a9ad0"/><circle cx="187.56" cy="359.63" r="0.44" fill="#9a9ad0"/><circle cx="174.94" cy="323.33" r="0.45" fill="#4a4a9c"/><circle cx="190.36" cy="341.42" r="0.38" fill="#4a4a9c"/><circle cx="211.8" cy="305.06" r="0.3" fill="#6c6cb8"/><circle cx="203.4" cy="337.08" r="0.35" fill="#9a9ad0"/><circle cx="170.73" cy="346.34" r="0.31" fill="#8080c4"/><circle cx="184.41" cy="313.25" r="0.52" fill="#4a4a9c"/><circle cx="177.42" cy="326.62" r="0.34" fill="#4a4a9c"/><circle cx="142.3" cy="360.61" r="0.41" fill="#5858a8"/><circle cx="150.29" cy="338.21" r="0.48" fill="#5858a8"/><circle cx="230.6" cy="329.33" r="0.32" fill="#8080c4"/><circle cx="185.92" cy="381.91" r="0.34" fill="#4a4a9c"/><circle cx="175.81" cy="358.24" r="0.49" fill="#4a4a9c"/><circle cx="121.08" cy="344.21" r="0.48" fill="#4a4a9c"/><circle cx="130.32" cy="383.97" r="0.34" fill="#5858a8"/><circle cx="121.95" cy="359.87" r="0.47" fill="#6c6cb8"/><circle cx="117.81" cy="341.7" r="0.44" fill="#9a9ad0"/><circle cx="151.79" cy="362.19" r="0.28" fill="#5858a8"/><circle cx="183.73" cy="328.03" r="0.35" fill="#8080c4"/><circle cx="172.62" cy="315.59" r="0.36" fill="#6c6cb8"/><circle cx="133.77" cy="346.86" r="0.53" fill="#6c6cb8"/><circle cx="213.19" cy="322.19" r="0.52" fill="#8080c4"/><circle cx="205.45" cy="312.69" r="0.4" fill="#8080c4"/><circle cx="163.31" cy="318.66" r="0.39" fill="#4a4a9c"/><circle cx="150.58" cy="329.46" r="0.28" fill="#6c6cb8"/><circle cx="201.66" cy="308.79" r="0.41" fill="#6c6cb8"/><circle cx="176.62" cy="314.95" r="0.28" fill="#8080c4"/><circle cx="189.36" cy="339.14" r="0.47" fill="#8080c4"/><circle cx="132.11" cy="382.86" r="0.28" fill="#5858a8"/><circle cx="215.45" cy="358.42" r="0.51" fill="#6c6cb8"/><circle cx="191.02" cy="366.65" r="0.34" fill="#6c6cb8"/><circle cx="146.38" cy="380.17" r="0.51" fill="#5858a8"/><circle cx="206.9" cy="340.87" r="0.53" fill="#5858a8"/><circle cx="180.49" cy="311.52" r="0.46" fill="#5858a8"/><circle cx="153.08" cy="337.63" r="0.51" fill="#5858a8"/><circle cx="218.9" cy="329.31" r="0.48" fill="#5858a8"/><circle cx="162.2" cy="367.64" r="0.48" fill="#6c6cb8"/><circle cx="157.24" cy="345.96" r="0.51" fill="#5858a8"/><circle cx="172.72" cy="380.36" r="0.44" fill="#8080c4"/><circle cx="138.33" cy="304.56" r="0.46" fill="#6c6cb8"/><circle cx="154.6" cy="345.78" r="0.47" fill="#5858a8"/><circle cx="146.71" cy="303.07" r="0.38" fill="#4a4a9c"/><circle cx="150.24" cy="349.9" r="0.46" fill="#4a4a9c"/><circle cx="218.61" cy="323.41" r="0.29" fill="#4a4a9c"/><circle cx="146.76" cy="324.03" r="0.39" fill="#6c6cb8"/><circle cx="144.69" cy="335.08" r="0.46" fill="#6c6cb8"/><circle cx="149.95" cy="369.79" r="0.48" fill="#9a9ad0"/><circle cx="145.67" cy="346.09" r="0.44" fill="#5858a8"/><circle cx="141.93" cy="308.52" r="0.33" fill="#8080c4"/><circle cx="217.26" cy="302.67" r="0.48" fill="#6c6cb8"/><circle cx="206.79" cy="306.9" r="0.33" fill="#5858a8"/><circle cx="128.28" cy="365.96" r="0.46" fill="#8080c4"/><circle cx="192.07" cy="374.45" r="0.39" fill="#5858a8"/><circle cx="135.86" cy="355.29" r="0.45" fill="#4a4a9c"/><circle cx="218.8" cy="332.53" r="0.3" fill="#5858a8"/><circle cx="127.07" cy="356.32" r="0.45" fill="#4a4a9c"/><circle cx="166.48" cy="361.5" r="0.33" fill="#9a9ad0"/><circle cx="211.52" cy="296.3" r="0.43" fill="#9a9ad0"/><circle cx="142.08" cy="308.89" r="0.3" fill="#5858a8"/><circle cx="189.37" cy="341.95" r="0.33" fill="#8080c4"/><circle cx="189.2" cy="303.46" r="0.29" fill="#5858a8"/><circle cx="177.7" cy="359.62" r="0.3" fill="#9a9ad0"/><circle cx="199.13" cy="308.86" r="0.44" fill="#5858a8"/><circle cx="212.37" cy="317.75" r="0.29" fill="#9a9ad0"/><circle cx="210.58" cy="367.26" r="0.53" fill="#8080c4"/><circle cx="181.26" cy="339.99" r="0.4" fill="#4a4a9c"/><circle cx="207.03" cy="361.6" r="0.3" fill="#9a9ad0"/><circle cx="170.2" cy="361.56" r="0.42" fill="#8080c4"/><circle cx="138.37" cy="355.17" r="0.47" fill="#6c6cb8"/><circle cx="135.46" cy="358.14" r="0.33" fill="#6c6cb8"/><circle cx="134.55" cy="348.1" r="0.29" fill="#5858a8"/><circle cx="186.28" cy="363.77" r="0.45" fill="#5858a8"/><circle cx="179.37" cy="379" r="0.29" fill="#8080c4"/><circle cx="206.64" cy="307.54" r="0.42" fill="#4a4a9c"/><circle cx="127.05" cy="338.33" r="0.43" fill="#6c6cb8"/><circle cx="145.81" cy="348.75" r="0.48" fill="#9a9ad0"/><circle cx="162.17" cy="350.39" r="0.34" fill="#4a4a9c"/><circle cx="217.52" cy="291.29" r="0.41" fill="#4a4a9c"/><circle cx="199.41" cy="367.93" r="0.52" fill="#9a9ad0"/><circle cx="153.82" cy="329.45" r="0.36" fill="#5858a8"/><circle cx="171.98" cy="305.26" r="0.39" fill="#4a4a9c"/><circle cx="243.84" cy="308.91" r="0.38" fill="#4a4a9c"/><circle cx="206.01" cy="309.83" r="0.33" fill="#9a9ad0"/><circle cx="190.23" cy="356.49" r="0.45" fill="#5858a8"/><circle cx="217.69" cy="364.26" r="0.46" fill="#5858a8"/><circle cx="164.05" cy="370.85" r="0.47" fill="#9a9ad0"/><circle cx="157.75" cy="327.13" r="0.34" fill="#6c6cb8"/><circle cx="165.99" cy="323.27" r="0.28" fill="#4a4a9c"/><circle cx="160.92" cy="339.5" r="0.28" fill="#8080c4"/><circle cx="167.83" cy="308.38" r="0.55" fill="#8080c4"/><circle cx="152.02" cy="366.7" r="0.41" fill="#9a9ad0"/><circle cx="187.93" cy="326.14" r="0.46" fill="#5858a8"/><circle cx="209.89" cy="324.27" r="0.48" fill="#4a4a9c"/><circle cx="165.26" cy="325.41" r="0.38" fill="#4a4a9c"/><circle cx="176.77" cy="361.51" r="0.4" fill="#8080c4"/><circle cx="212.69" cy="376.41" r="0.49" fill="#8080c4"/><circle cx="175.52" cy="360.06" r="0.55" fill="#5858a8"/><circle cx="139.64" cy="334.18" r="0.33" fill="#4a4a9c"/><circle cx="137.54" cy="356.94" r="0.41" fill="#6c6cb8"/><circle cx="150.97" cy="380.99" r="0.48" fill="#4a4a9c"/><circle cx="225.17" cy="327.97" r="0.3" fill="#9a9ad0"/><circle cx="209.41" cy="338.7" r="0.34" fill="#8080c4"/><circle cx="178.44" cy="372.61" r="0.54" fill="#6c6cb8"/><circle cx="148.19" cy="346.98" r="0.54" fill="#5858a8"/><circle cx="175.88" cy="317.21" r="0.45" fill="#6c6cb8"/><circle cx="143.2" cy="357.62" r="0.35" fill="#6c6cb8"/><circle cx="229.54" cy="320.97" r="0.55" fill="#8080c4"/><circle cx="156.1" cy="318.88" r="0.3" fill="#5858a8"/><circle cx="131.63" cy="357.35" r="0.44" fill="#6c6cb8"/><circle cx="174.73" cy="377.44" r="0.4" fill="#5858a8"/><circle cx="181.83" cy="309.48" r="0.35" fill="#8080c4"/><circle cx="206.37" cy="358.53" r="0.4" fill="#8080c4"/><circle cx="184.9" cy="350.03" r="0.36" fill="#6c6cb8"/><circle cx="151.99" cy="353.38" r="0.49" fill="#8080c4"/><circle cx="231.06" cy="330.67" r="0.37" fill="#6c6cb8"/><circle cx="192.55" cy="370.77" r="0.35" fill="#9a9ad0"/><circle cx="135.14" cy="348.65" r="0.31" fill="#4a4a9c"/><circle cx="162.35" cy="313.37" r="0.28" fill="#6c6cb8"/><circle cx="174.51" cy="337.01" r="0.33" fill="#4a4a9c"/><circle cx="164.28" cy="376.67" r="0.54" fill="#5858a8"/><circle cx="171.38" cy="303.29" r="0.43" fill="#6c6cb8"/><circle cx="152.05" cy="365.45" r="0.37" fill="#9a9ad0"/><circle cx="144.78" cy="363.18" r="0.45" fill="#8080c4"/><circle cx="222.71" cy="314.19" r="0.51" fill="#4a4a9c"/><circle cx="193.25" cy="369.29" r="0.36" fill="#5858a8"/><circle cx="201.01" cy="328.1" r="0.38" fill="#8080c4"/><circle cx="169.34" cy="315.13" r="0.41" fill="#8080c4"/><circle cx="131.87" cy="361.21" r="0.39" fill="#5858a8"/><circle cx="192.75" cy="347.55" r="0.3" fill="#6c6cb8"/><circle cx="205.45" cy="371.57" r="0.3" fill="#8080c4"/><circle cx="221.39" cy="317.96" r="0.35" fill="#4a4a9c"/><circle cx="193.86" cy="350.02" r="0.48" fill="#4a4a9c"/><circle cx="156.29" cy="370.29" r="0.43" fill="#8080c4"/><circle cx="130.91" cy="347.28" r="0.34" fill="#4a4a9c"/><circle cx="197.43" cy="337.01" r="0.44" fill="#9a9ad0"/><circle cx="202.02" cy="324.77" r="0.34" fill="#8080c4"/><circle cx="170.56" cy="325.61" r="0.45" fill="#9a9ad0"/><circle cx="207.52" cy="324.68" r="0.44" fill="#6c6cb8"/><circle cx="143.29" cy="365.01" r="0.33" fill="#9a9ad0"/><circle cx="169.64" cy="305.42" r="0.55" fill="#5858a8"/><circle cx="180.12" cy="335.44" r="0.32" fill="#9a9ad0"/><circle cx="136.7" cy="369.44" r="0.54" fill="#5858a8"/><circle cx="144.54" cy="338.57" r="0.41" fill="#6c6cb8"/><circle cx="178.03" cy="329.37" r="0.32" fill="#5858a8"/><circle cx="147.7" cy="343.7" r="0.31" fill="#8080c4"/><circle cx="194.87" cy="362.39" r="0.31" fill="#4a4a9c"/><circle cx="200.08" cy="328.21" r="0.5" fill="#9a9ad0"/><circle cx="148.35" cy="319.57" r="0.47" fill="#4a4a9c"/><circle cx="144.98" cy="308.48" r="0.32" fill="#9a9ad0"/><circle cx="186.05" cy="364.49" r="0.39" fill="#8080c4"/><circle cx="190.2" cy="308.21" r="0.53" fill="#4a4a9c"/><circle cx="144.15" cy="342.44" r="0.36" fill="#5858a8"/><circle cx="169.65" cy="372.03" r="0.53" fill="#5858a8"/><circle cx="147.18" cy="322.97" r="0.49" fill="#8080c4"/><circle cx="186.39" cy="370.84" r="0.43" fill="#9a9ad0"/><circle cx="179.67" cy="322.18" r="0.36" fill="#4a4a9c"/><circle cx="177" cy="361.85" r="0.41" fill="#4a4a9c"/><circle cx="120.39" cy="355.28" r="0.38" fill="#5858a8"/><circle cx="174.44" cy="337.54" r="0.52" fill="#4a4a9c"/><circle cx="200.39" cy="349.87" r="0.42" fill="#4a4a9c"/><circle cx="218.6" cy="336.94" r="0.47" fill="#9a9ad0"/><circle cx="146.68" cy="350.32" r="0.43" fill="#6c6cb8"/><circle cx="197.46" cy="332.52" r="0.54" fill="#9a9ad0"/><circle cx="208.54" cy="334.29" r="0.34" fill="#6c6cb8"/><circle cx="179.81" cy="328.25" r="0.44" fill="#4a4a9c"/><circle cx="193.74" cy="366.8" r="0.38" fill="#9a9ad0"/><circle cx="202.51" cy="306.65" r="0.36" fill="#5858a8"/><circle cx="151.19" cy="334.56" r="0.45" fill="#9a9ad0"/><circle cx="193.27" cy="373.94" r="0.48" fill="#6c6cb8"/><circle cx="149.35" cy="318.71" r="0.53" fill="#6c6cb8"/><circle cx="179.05" cy="318.62" r="0.33" fill="#5858a8"/><circle cx="164" cy="315.89" r="0.53" fill="#6c6cb8"/><circle cx="170.67" cy="334.87" r="0.49" fill="#5858a8"/><circle cx="123.28" cy="336.57" r="0.45" fill="#6c6cb8"/><circle cx="203.17" cy="326.65" r="0.36" fill="#5858a8"/><circle cx="235.95" cy="319.26" r="0.44" fill="#8080c4"/><circle cx="181.55" cy="359.24" r="0.29" fill="#5858a8"/><circle cx="212.12" cy="349.29" r="0.49" fill="#9a9ad0"/><circle cx="179.29" cy="310.19" r="0.43" fill="#8080c4"/><circle cx="187.82" cy="329.23" r="0.28" fill="#4a4a9c"/><circle cx="127.58" cy="319.52" r="0.5" fill="#6c6cb8"/><circle cx="220.39" cy="368.65" r="0.35" fill="#5858a8"/><circle cx="167.39" cy="344.37" r="0.51" fill="#6c6cb8"/><circle cx="132.94" cy="337.68" r="0.45" fill="#8080c4"/><circle cx="183.04" cy="362.74" r="0.44" fill="#5858a8"/><circle cx="160.2" cy="311.88" r="0.37" fill="#8080c4"/><circle cx="160.48" cy="368.65" r="0.39" fill="#5858a8"/><circle cx="187.78" cy="295.65" r="0.29" fill="#9a9ad0"/><circle cx="216.32" cy="331.17" r="0.53" fill="#9a9ad0"/><circle cx="144.2" cy="351.02" r="0.42" fill="#8080c4"/><circle cx="131.85" cy="321.28" r="0.52" fill="#5858a8"/><circle cx="206.54" cy="303.28" r="0.46" fill="#6c6cb8"/><circle cx="187.56" cy="315.15" r="0.35" fill="#4a4a9c"/><circle cx="180.85" cy="370.65" r="0.45" fill="#6c6cb8"/><circle cx="217.15" cy="378.92" r="0.37" fill="#8080c4"/><circle cx="151.5" cy="357.19" r="0.48" fill="#9a9ad0"/><circle cx="177.79" cy="297.58" r="0.49" fill="#8080c4"/><circle cx="126.33" cy="342.33" r="0.47" fill="#4a4a9c"/><circle cx="143.39" cy="351.6" r="0.48" fill="#8080c4"/><circle cx="153.32" cy="329.85" r="0.29" fill="#6c6cb8"/><circle cx="166.41" cy="310.32" r="0.54" fill="#5858a8"/><circle cx="183.76" cy="310.59" r="0.54" fill="#9a9ad0"/><circle cx="179.42" cy="308.93" r="0.44" fill="#6c6cb8"/><circle cx="183.88" cy="358.97" r="0.52" fill="#5858a8"/><circle cx="140.16" cy="343.97" r="0.46" fill="#5858a8"/><circle cx="149.27" cy="354.77" r="0.32" fill="#5858a8"/><circle cx="171.47" cy="314.38" r="0.34" fill="#4a4a9c"/><circle cx="159.28" cy="345.65" r="0.47" fill="#9a9ad0"/><circle cx="180.91" cy="366.73" r="0.51" fill="#4a4a9c"/><circle cx="195.35" cy="307.36" r="0.28" fill="#4a4a9c"/><circle cx="132.28" cy="352.44" r="0.28" fill="#9a9ad0"/><circle cx="207.24" cy="371.59" r="0.31" fill="#4a4a9c"/><circle cx="183.85" cy="346.93" r="0.54" fill="#6c6cb8"/><circle cx="239.96" cy="368.69" r="0.44" fill="#4a4a9c"/><circle cx="223.24" cy="351.62" r="0.4" fill="#4a4a9c"/><circle cx="189.65" cy="369.23" r="0.35" fill="#5858a8"/><circle cx="144.15" cy="346.75" r="0.53" fill="#8080c4"/><circle cx="115.57" cy="362.62" r="0.47" fill="#9a9ad0"/><circle cx="160.28" cy="314.39" r="0.36" fill="#6c6cb8"/><circle cx="159.73" cy="349.58" r="0.44" fill="#8080c4"/><circle cx="219.78" cy="318.94" r="0.29" fill="#8080c4"/><circle cx="148.98" cy="324.31" r="0.36" fill="#5858a8"/><circle cx="154.31" cy="340.37" r="0.4" fill="#5858a8"/><circle cx="139.5" cy="357.29" r="0.31" fill="#5858a8"/><circle cx="139.03" cy="338.61" r="0.51" fill="#9a9ad0"/><circle cx="218.81" cy="336.8" r="0.4" fill="#6c6cb8"/><circle cx="153.12" cy="316.54" r="0.37" fill="#4a4a9c"/><circle cx="219.57" cy="362.38" r="0.36" fill="#5858a8"/><circle cx="151.14" cy="363.6" r="0.31" fill="#5858a8"/><circle cx="210.53" cy="313.54" r="0.36" fill="#4a4a9c"/><circle cx="204.03" cy="310.89" r="0.4" fill="#5858a8"/><circle cx="140.77" cy="343.78" r="0.41" fill="#8080c4"/><circle cx="138.97" cy="344.61" r="0.29" fill="#6c6cb8"/><circle cx="197.66" cy="352.58" r="0.45" fill="#8080c4"/><circle cx="125" cy="322.97" r="0.51" fill="#5858a8"/><circle cx="130.71" cy="331.39" r="0.46" fill="#4a4a9c"/><circle cx="154.63" cy="360.76" r="0.48" fill="#8080c4"/><circle cx="139.26" cy="345.6" r="0.31" fill="#6c6cb8"/><circle cx="162.95" cy="311.57" r="0.53" fill="#5858a8"/><circle cx="196.68" cy="372.63" r="0.38" fill="#6c6cb8"/><circle cx="227.77" cy="328.57" r="0.43" fill="#8080c4"/><circle cx="190.18" cy="346.06" r="0.31" fill="#4a4a9c"/><circle cx="142.8" cy="361.66" r="0.43" fill="#4a4a9c"/><circle cx="140.1" cy="373.06" r="0.51" fill="#6c6cb8"/><circle cx="175.72" cy="379.69" r="0.44" fill="#4a4a9c"/><circle cx="163.69" cy="352.74" r="0.53" fill="#4a4a9c"/><circle cx="215.45" cy="324.49" r="0.41" fill="#9a9ad0"/><circle cx="174.6" cy="360.99" r="0.37" fill="#8080c4"/><circle cx="223.5" cy="313.89" r="0.42" fill="#4a4a9c"/><circle cx="208.53" cy="370.7" r="0.47" fill="#5858a8"/><circle cx="208.54" cy="382.92" r="0.32" fill="#5858a8"/><circle cx="142.64" cy="333.57" r="0.33" fill="#4a4a9c"/><circle cx="197.41" cy="366.83" r="0.3" fill="#9a9ad0"/><circle cx="184.38" cy="353.56" r="0.33" fill="#9a9ad0"/><circle cx="146.43" cy="348.71" r="0.45" fill="#5858a8"/><circle cx="191.26" cy="313.23" r="0.42" fill="#5858a8"/><circle cx="189.88" cy="368.9" r="0.44" fill="#9a9ad0"/><circle cx="160.36" cy="344.85" r="0.53" fill="#4a4a9c"/><circle cx="136.53" cy="298.94" r="0.35" fill="#6c6cb8"/><circle cx="199.79" cy="330.68" r="0.46" fill="#4a4a9c"/><circle cx="193.29" cy="303.17" r="0.49" fill="#8080c4"/><circle cx="121.12" cy="378.42" r="0.5" fill="#9a9ad0"/><circle cx="166.41" cy="359.38" r="0.42" fill="#6c6cb8"/><circle cx="192.36" cy="372.65" r="0.5" fill="#4a4a9c"/><circle cx="172.67" cy="381.64" r="0.43" fill="#5858a8"/><circle cx="161.11" cy="377.83" r="0.32" fill="#8080c4"/><circle cx="159.72" cy="318.99" r="0.37" fill="#9a9ad0"/><circle cx="189.6" cy="361.43" r="0.39" fill="#9a9ad0"/><circle cx="156.98" cy="347.28" r="0.42" fill="#8080c4"/><circle cx="166.23" cy="377.57" r="0.31" fill="#5858a8"/><circle cx="170.03" cy="301.15" r="0.54" fill="#9a9ad0"/><circle cx="173.27" cy="313.46" r="0.44" fill="#5858a8"/><circle cx="186.95" cy="361.94" r="0.5" fill="#9a9ad0"/><circle cx="168.13" cy="366.2" r="0.4" fill="#4a4a9c"/><circle cx="179.4" cy="326.28" r="0.34" fill="#8080c4"/><circle cx="155.42" cy="329.35" r="0.47" fill="#8080c4"/><circle cx="182.22" cy="312.62" r="0.49" fill="#8080c4"/><circle cx="208.15" cy="369" r="0.53" fill="#5858a8"/><circle cx="151.32" cy="355.39" r="0.29" fill="#5858a8"/><circle cx="144.98" cy="373.9" r="0.35" fill="#6c6cb8"/><circle cx="173.93" cy="353.29" r="0.33" fill="#6c6cb8"/><circle cx="207.04" cy="299.92" r="0.3" fill="#4a4a9c"/><circle cx="134.94" cy="313.61" r="0.47" fill="#4a4a9c"/><circle cx="183.02" cy="332.63" r="0.37" fill="#9a9ad0"/><circle cx="206.93" cy="362.16" r="0.45" fill="#8080c4"/><circle cx="159.46" cy="371.45" r="0.33" fill="#8080c4"/><circle cx="126.88" cy="331.9" r="0.53" fill="#9a9ad0"/><circle cx="145.22" cy="352.62" r="0.46" fill="#9a9ad0"/><circle cx="168.95" cy="379.01" r="0.53" fill="#5858a8"/><circle cx="159.96" cy="313.21" r="0.5" fill="#4a4a9c"/><circle cx="206.56" cy="365.19" r="0.39" fill="#4a4a9c"/><circle cx="176.55" cy="310.7" r="0.32" fill="#4a4a9c"/><circle cx="187.05" cy="340.67" r="0.51" fill="#9a9ad0"/><circle cx="176.73" cy="376.16" r="0.49" fill="#5858a8"/><circle cx="148.19" cy="323.28" r="0.36" fill="#8080c4"/><circle cx="191.16" cy="370.92" r="0.31" fill="#5858a8"/><circle cx="139.73" cy="342.65" r="0.38" fill="#5858a8"/><circle cx="215.64" cy="377.85" r="0.34" fill="#8080c4"/><circle cx="140.49" cy="346.59" r="0.31" fill="#6c6cb8"/><circle cx="213.07" cy="368.83" r="0.37" fill="#5858a8"/><circle cx="121.89" cy="350.36" r="0.39" fill="#8080c4"/><circle cx="141.89" cy="319" r="0.51" fill="#9a9ad0"/><circle cx="193.7" cy="378.12" r="0.42" fill="#8080c4"/><circle cx="150.9" cy="356.19" r="0.55" fill="#8080c4"/><circle cx="153.26" cy="361.67" r="0.37" fill="#4a4a9c"/><circle cx="187.72" cy="301.23" r="0.5" fill="#4a4a9c"/><circle cx="135.63" cy="359.15" r="0.5" fill="#5858a8"/><circle cx="129.94" cy="358.28" r="0.47" fill="#8080c4"/><circle cx="207.77" cy="355.41" r="0.51" fill="#5858a8"/><circle cx="140.12" cy="338" r="0.39" fill="#9a9ad0"/><circle cx="195.26" cy="365.8" r="0.52" fill="#8080c4"/><circle cx="191.82" cy="360.7" r="0.32" fill="#9a9ad0"/><circle cx="186.05" cy="308.73" r="0.45" fill="#8080c4"/><circle cx="191.33" cy="368.87" r="0.28" fill="#6c6cb8"/><circle cx="178.92" cy="313.89" r="0.45" fill="#8080c4"/><circle cx="198.68" cy="338.49" r="0.41" fill="#5858a8"/><circle cx="180.57" cy="381.18" r="0.43" fill="#6c6cb8"/><circle cx="119.79" cy="341.72" r="0.31" fill="#8080c4"/><circle cx="164.12" cy="340.83" r="0.5" fill="#8080c4"/><circle cx="223.28" cy="305.92" r="0.33" fill="#5858a8"/><circle cx="209.06" cy="378" r="0.53" fill="#4a4a9c"/><circle cx="146.2" cy="322.09" r="0.3" fill="#8080c4"/><circle cx="155.05" cy="312.17" r="0.52" fill="#5858a8"/><circle cx="162.01" cy="324.67" r="0.39" fill="#9a9ad0"/><circle cx="166.48" cy="355.82" r="0.5" fill="#9a9ad0"/><circle cx="198.63" cy="381.65" r="0.33" fill="#4a4a9c"/><circle cx="172.03" cy="329.43" r="0.31" fill="#5858a8"/><circle cx="192.57" cy="368.3" r="0.47" fill="#9a9ad0"/><circle cx="187.66" cy="361.98" r="0.39" fill="#9a9ad0"/><circle cx="196.71" cy="361.49" r="0.32" fill="#8080c4"/><circle cx="187.55" cy="366.75" r="0.35" fill="#4a4a9c"/><circle cx="160.77" cy="313.35" r="0.33" fill="#5858a8"/><circle cx="156.74" cy="319.96" r="0.45" fill="#6c6cb8"/><circle cx="182.14" cy="337.44" r="0.5" fill="#4a4a9c"/><circle cx="135.82" cy="361.2" r="0.47" fill="#4a4a9c"/><circle cx="191.55" cy="363.45" r="0.38" fill="#6c6cb8"/><circle cx="144.76" cy="355.71" r="0.32" fill="#9a9ad0"/><circle cx="150.83" cy="353.52" r="0.49" fill="#8080c4"/><circle cx="146.02" cy="356.43" r="0.36" fill="#6c6cb8"/><circle cx="141.85" cy="334.26" r="0.39" fill="#9a9ad0"/><circle cx="130.86" cy="367.98" r="0.38" fill="#8080c4"/><circle cx="125.31" cy="318.66" r="0.42" fill="#4a4a9c"/><circle cx="142.03" cy="341.38" r="0.35" fill="#9a9ad0"/><circle cx="186.54" cy="337.28" r="0.48" fill="#8080c4"/><circle cx="155.97" cy="377.3" r="0.54" fill="#5858a8"/><circle cx="189.69" cy="376.81" r="0.5" fill="#9a9ad0"/><circle cx="137.42" cy="315.22" r="0.36" fill="#9a9ad0"/><circle cx="166.13" cy="346.63" r="0.46" fill="#8080c4"/><circle cx="149.78" cy="311.66" r="0.5" fill="#4a4a9c"/><circle cx="156.69" cy="332.99" r="0.47" fill="#9a9ad0"/><circle cx="186.44" cy="370.65" r="0.37" fill="#5858a8"/><circle cx="218.69" cy="323.02" r="0.41" fill="#5858a8"/><circle cx="137.73" cy="346.35" r="0.42" fill="#9a9ad0"/><circle cx="135.96" cy="366.64" r="0.33" fill="#9a9ad0"/><circle cx="173.72" cy="362.33" r="0.34" fill="#4a4a9c"/><circle cx="186.4" cy="335.17" r="0.48" fill="#9a9ad0"/><circle cx="221.49" cy="331.23" r="0.54" fill="#4a4a9c"/><circle cx="161.26" cy="314.81" r="0.46" fill="#6c6cb8"/><circle cx="145.32" cy="371.82" r="0.36" fill="#4a4a9c"/><circle cx="129.46" cy="340.49" r="0.51" fill="#4a4a9c"/><circle cx="198.14" cy="371.45" r="0.43" fill="#4a4a9c"/><circle cx="154.77" cy="355.28" r="0.51" fill="#8080c4"/><circle cx="183.14" cy="312.7" r="0.48" fill="#4a4a9c"/><circle cx="153.51" cy="384.75" r="0.45" fill="#6c6cb8"/><circle cx="193.4" cy="348.12" r="0.43" fill="#4a4a9c"/><circle cx="219.33" cy="383.8" r="0.45" fill="#9a9ad0"/><circle cx="164.76" cy="328.51" r="0.46" fill="#6c6cb8"/><circle cx="179.88" cy="363.45" r="0.55" fill="#8080c4"/><circle cx="187.1" cy="379.06" r="0.41" fill="#6c6cb8"/><circle cx="179.78" cy="320.17" r="0.29" fill="#4a4a9c"/><circle cx="193.64" cy="342.77" r="0.35" fill="#9a9ad0"/><circle cx="216.62" cy="374.51" r="0.51" fill="#8080c4"/><circle cx="213.97" cy="322.27" r="0.39" fill="#6c6cb8"/><circle cx="169.87" cy="321.75" r="0.47" fill="#8080c4"/><circle cx="156.14" cy="350.83" r="0.29" fill="#6c6cb8"/><circle cx="170.78" cy="303.09" r="0.38" fill="#5858a8"/><circle cx="171.64" cy="368.12" r="0.29" fill="#6c6cb8"/><circle cx="143.5" cy="374.21" r="0.43" fill="#9a9ad0"/><circle cx="143.56" cy="342.32" r="0.47" fill="#8080c4"/><circle cx="178.92" cy="340.66" r="0.35" fill="#6c6cb8"/><circle cx="202.47" cy="313.16" r="0.32" fill="#6c6cb8"/><circle cx="141.4" cy="313.7" r="0.43" fill="#6c6cb8"/><circle cx="191.79" cy="352.7" r="0.43" fill="#9a9ad0"/><circle cx="150.42" cy="347.35" r="0.33" fill="#6c6cb8"/><circle cx="178.15" cy="311.79" r="0.45" fill="#6c6cb8"/><circle cx="149.65" cy="330.4" r="0.35" fill="#4a4a9c"/><circle cx="160.77" cy="330.77" r="0.31" fill="#9a9ad0"/><circle cx="134.1" cy="371.36" r="0.3" fill="#9a9ad0"/><circle cx="184.81" cy="372.99" r="0.43" fill="#8080c4"/><circle cx="180.81" cy="343.82" r="0.39" fill="#9a9ad0"/><circle cx="131.3" cy="353.46" r="0.3" fill="#4a4a9c"/><circle cx="208.3" cy="310.25" r="0.54" fill="#5858a8"/><circle cx="141.33" cy="336.8" r="0.47" fill="#5858a8"/><circle cx="154.16" cy="343.4" r="0.43" fill="#4a4a9c"/><circle cx="213.96" cy="317.87" r="0.49" fill="#5858a8"/><circle cx="215.52" cy="309.29" r="0.44" fill="#8080c4"/><circle cx="209.98" cy="366.54" r="0.44" fill="#5858a8"/><circle cx="158.93" cy="348.34" r="0.54" fill="#8080c4"/><circle cx="163.65" cy="328.1" r="0.39" fill="#6c6cb8"/><circle cx="219.49" cy="366.91" r="0.33" fill="#6c6cb8"/><circle cx="169.31" cy="354.9" r="0.43" fill="#6c6cb8"/><circle cx="180.02" cy="310.55" r="0.44" fill="#9a9ad0"/><circle cx="201.75" cy="385.3" r="0.47" fill="#8080c4"/><circle cx="184.37" cy="351.91" r="0.44" fill="#8080c4"/><circle cx="168.67" cy="305.31" r="0.38" fill="#9a9ad0"/><circle cx="140.72" cy="343.58" r="0.4" fill="#5858a8"/><circle cx="144.45" cy="321.59" r="0.42" fill="#4a4a9c"/><circle cx="172.61" cy="319" r="0.29" fill="#8080c4"/><circle cx="211.15" cy="367.69" r="0.4" fill="#5858a8"/><circle cx="148.75" cy="333.57" r="0.52" fill="#5858a8"/><circle cx="153.14" cy="333.6" r="0.4" fill="#4a4a9c"/><circle cx="182.03" cy="333.26" r="0.52" fill="#8080c4"/><circle cx="158.53" cy="302.06" r="0.34" fill="#9a9ad0"/><circle cx="218.88" cy="322.47" r="0.53" fill="#9a9ad0"/><circle cx="176.82" cy="364.78" r="0.35" fill="#8080c4"/><circle cx="139.54" cy="387.43" r="0.3" fill="#9a9ad0"/><circle cx="131.11" cy="363.77" r="0.44" fill="#9a9ad0"/><circle cx="185.41" cy="308.26" r="0.53" fill="#9a9ad0"/><circle cx="141.23" cy="321.17" r="0.5" fill="#8080c4"/><circle cx="176.63" cy="303.73" r="0.31" fill="#6c6cb8"/><circle cx="183.36" cy="313.6" r="0.53" fill="#8080c4"/><circle cx="224.19" cy="315.9" r="0.43" fill="#5858a8"/><circle cx="144.55" cy="377.05" r="0.41" fill="#4a4a9c"/><circle cx="182.3" cy="310.21" r="0.51" fill="#6c6cb8"/><circle cx="206.34" cy="323.75" r="0.38" fill="#4a4a9c"/><circle cx="167.88" cy="375.73" r="0.33" fill="#6c6cb8"/><circle cx="194.31" cy="307.82" r="0.55" fill="#8080c4"/><circle cx="197.24" cy="371.48" r="0.52" fill="#5858a8"/><circle cx="158.51" cy="325.39" r="0.35" fill="#4a4a9c"/><circle cx="191.85" cy="377.4" r="0.54" fill="#9a9ad0"/><circle cx="184.12" cy="358.03" r="0.38" fill="#9a9ad0"/><circle cx="171.42" cy="372.56" r="0.37" fill="#6c6cb8"/><circle cx="162.64" cy="315.44" r="0.33" fill="#8080c4"/><circle cx="211.22" cy="312.12" r="0.39" fill="#9a9ad0"/><circle cx="140.04" cy="341.12" r="0.28" fill="#9a9ad0"/><circle cx="147.09" cy="303.2" r="0.31" fill="#6c6cb8"/><circle cx="167.53" cy="364.98" r="0.29" fill="#9a9ad0"/><circle cx="172" cy="304.06" r="0.48" fill="#9a9ad0"/><circle cx="198.7" cy="318.92" r="0.49" fill="#4a4a9c"/><circle cx="212.76" cy="312.55" r="0.32" fill="#9a9ad0"/><circle cx="201.36" cy="316.46" r="0.46" fill="#9a9ad0"/><circle cx="202.09" cy="310.41" r="0.38" fill="#9a9ad0"/><circle cx="123.86" cy="360.43" r="0.49" fill="#9a9ad0"/><circle cx="204.57" cy="300.61" r="0.37" fill="#4a4a9c"/><circle cx="197.69" cy="339.33" r="0.32" fill="#6c6cb8"/><circle cx="192.48" cy="351.76" r="0.39" fill="#4a4a9c"/><circle cx="228.49" cy="331.29" r="0.5" fill="#4a4a9c"/><circle cx="146.33" cy="330.62" r="0.44" fill="#8080c4"/><circle cx="189.9" cy="310.86" r="0.37" fill="#9a9ad0"/><circle cx="140.96" cy="360.09" r="0.35" fill="#4a4a9c"/><circle cx="137.94" cy="345.38" r="0.38" fill="#9a9ad0"/><circle cx="199.59" cy="379.4" r="0.38" fill="#6c6cb8"/><circle cx="221.72" cy="353.8" r="0.45" fill="#9a9ad0"/><circle cx="153.29" cy="355.2" r="0.41" fill="#4a4a9c"/><circle cx="185.84" cy="311.28" r="0.47" fill="#6c6cb8"/><circle cx="141.48" cy="360.35" r="0.29" fill="#4a4a9c"/><circle cx="178.74" cy="309.59" r="0.53" fill="#6c6cb8"/><circle cx="176.64" cy="311.3" r="0.38" fill="#4a4a9c"/><circle cx="132.46" cy="325.83" r="0.42" fill="#4a4a9c"/><circle cx="135.19" cy="366.7" r="0.34" fill="#9a9ad0"/><circle cx="188.09" cy="344.98" r="0.39" fill="#5858a8"/><circle cx="172.97" cy="378.46" r="0.47" fill="#5858a8"/><circle cx="175.12" cy="316.23" r="0.41" fill="#5858a8"/><circle cx="194.85" cy="327.21" r="0.35" fill="#5858a8"/><circle cx="162.84" cy="363.14" r="0.47" fill="#4a4a9c"/><circle cx="141.2" cy="362.21" r="0.36" fill="#4a4a9c"/><circle cx="144.96" cy="349.07" r="0.32" fill="#8080c4"/><circle cx="135.34" cy="366.46" r="0.54" fill="#5858a8"/><circle cx="203.74" cy="334.37" r="0.5" fill="#8080c4"/><circle cx="144.38" cy="333.53" r="0.38" fill="#9a9ad0"/><circle cx="151" cy="359.99" r="0.46" fill="#9a9ad0"/><circle cx="215.1" cy="314.41" r="0.36" fill="#8080c4"/><circle cx="194.84" cy="382.83" r="0.3" fill="#8080c4"/><circle cx="147.02" cy="357.11" r="0.48" fill="#9a9ad0"/><circle cx="148.95" cy="320.52" r="0.35" fill="#8080c4"/><circle cx="153.79" cy="369.67" r="0.35" fill="#6c6cb8"/><circle cx="153.95" cy="312.23" r="0.53" fill="#4a4a9c"/><circle cx="185" cy="378.37" r="0.31" fill="#5858a8"/><circle cx="159.36" cy="359.56" r="0.52" fill="#4a4a9c"/><circle cx="126.66" cy="364.2" r="0.43" fill="#8080c4"/><circle cx="206.94" cy="318" r="0.34" fill="#5858a8"/><circle cx="152.11" cy="346.29" r="0.49" fill="#9a9ad0"/><circle cx="212.48" cy="289.29" r="0.29" fill="#9a9ad0"/><circle cx="199.18" cy="301.78" r="0.44" fill="#5858a8"/><circle cx="184.37" cy="376.75" r="0.35" fill="#8080c4"/><circle cx="121.77" cy="361.81" r="0.5" fill="#4a4a9c"/><circle cx="200.68" cy="378.53" r="0.36" fill="#9a9ad0"/><circle cx="142.72" cy="312.51" r="0.43" fill="#8080c4"/><circle cx="150.65" cy="327.72" r="0.5" fill="#8080c4"/><circle cx="120.55" cy="341.96" r="0.47" fill="#6c6cb8"/><circle cx="202.43" cy="330.43" r="0.36" fill="#5858a8"/><circle cx="181.07" cy="374.21" r="0.29" fill="#9a9ad0"/><circle cx="172.1" cy="342.47" r="0.48" fill="#9a9ad0"/><circle cx="200.27" cy="368.78" r="0.52" fill="#4a4a9c"/><circle cx="136.97" cy="365.05" r="0.31" fill="#5858a8"/><circle cx="188.12" cy="368.22" r="0.31" fill="#9a9ad0"/><circle cx="193.3" cy="327.1" r="0.49" fill="#9a9ad0"/><circle cx="206.02" cy="358.58" r="0.44" fill="#9a9ad0"/><circle cx="128.24" cy="352.36" r="0.34" fill="#4a4a9c"/><circle cx="138.23" cy="332.36" r="0.39" fill="#4a4a9c"/><circle cx="172.13" cy="303.86" r="0.37" fill="#9a9ad0"/><circle cx="181.51" cy="373.5" r="0.41" fill="#4a4a9c"/><circle cx="173.96" cy="338.74" r="0.43" fill="#4a4a9c"/><circle cx="140.53" cy="312.68" r="0.45" fill="#8080c4"/><circle cx="151.26" cy="336.79" r="0.53" fill="#8080c4"/><circle cx="148.62" cy="312.97" r="0.4" fill="#9a9ad0"/><circle cx="217.43" cy="308.84" r="0.46" fill="#9a9ad0"/><circle cx="178.12" cy="370.15" r="0.4" fill="#5858a8"/><circle cx="153.18" cy="381.81" r="0.3" fill="#4a4a9c"/><circle cx="138.84" cy="341.77" r="0.45" fill="#6c6cb8"/><circle cx="191.82" cy="370.2" r="0.47" fill="#9a9ad0"/><circle cx="140.58" cy="327.39" r="0.35" fill="#8080c4"/><circle cx="183.56" cy="339.39" r="0.4" fill="#6c6cb8"/><circle cx="180.45" cy="353.07" r="0.55" fill="#9a9ad0"/><circle cx="127.88" cy="381.01" r="0.3" fill="#4a4a9c"/><circle cx="153.65" cy="356.55" r="0.42" fill="#5858a8"/><circle cx="126.33" cy="355.65" r="0.54" fill="#4a4a9c"/><circle cx="183.55" cy="372.32" r="0.3" fill="#4a4a9c"/><circle cx="205.2" cy="299.03" r="0.37" fill="#6c6cb8"/><circle cx="141.5" cy="351.77" r="0.43" fill="#4a4a9c"/><circle cx="147.09" cy="312.89" r="0.45" fill="#9a9ad0"/><circle cx="185.02" cy="368.84" r="0.48" fill="#5858a8"/><circle cx="155.25" cy="338.67" r="0.46" fill="#5858a8"/><circle cx="155.93" cy="348.46" r="0.53" fill="#5858a8"/><circle cx="225.44" cy="315.29" r="0.4" fill="#5858a8"/><circle cx="161.65" cy="301.72" r="0.35" fill="#4a4a9c"/><circle cx="184.33" cy="310.45" r="0.53" fill="#8080c4"/><circle cx="153.66" cy="323.65" r="0.52" fill="#9a9ad0"/><circle cx="137.34" cy="344.67" r="0.46" fill="#8080c4"/><circle cx="152.42" cy="354.77" r="0.51" fill="#6c6cb8"/><circle cx="182.08" cy="310.45" r="0.3" fill="#8080c4"/><circle cx="161.79" cy="345.23" r="0.36" fill="#4a4a9c"/><circle cx="192.2" cy="364.92" r="0.31" fill="#4a4a9c"/><circle cx="208.16" cy="324.41" r="0.38" fill="#8080c4"/><circle cx="180.71" cy="365.56" r="0.53" fill="#6c6cb8"/><circle cx="214.7" cy="305.39" r="0.4" fill="#4a4a9c"/><circle cx="136.03" cy="361.64" r="0.42" fill="#5858a8"/><circle cx="153.73" cy="304.71" r="0.44" fill="#8080c4"/><circle cx="160.55" cy="365.31" r="0.4" fill="#5858a8"/><circle cx="171.8" cy="371.19" r="0.52" fill="#5858a8"/><circle cx="188.88" cy="349.31" r="0.37" fill="#9a9ad0"/><circle cx="185.33" cy="370.21" r="0.3" fill="#4a4a9c"/><circle cx="207.96" cy="294.92" r="0.46" fill="#6c6cb8"/><circle cx="150.69" cy="357.36" r="0.29" fill="#5858a8"/><circle cx="173.14" cy="337.37" r="0.37" fill="#5858a8"/><circle cx="193.87" cy="369.68" r="0.41" fill="#9a9ad0"/><circle cx="172.07" cy="347.64" r="0.39" fill="#6c6cb8"/><circle cx="206.95" cy="349.23" r="0.49" fill="#8080c4"/><circle cx="172.37" cy="315.57" r="0.47" fill="#6c6cb8"/><circle cx="143.97" cy="340.85" r="0.53" fill="#8080c4"/><circle cx="191.18" cy="347.89" r="0.46" fill="#8080c4"/><circle cx="211.45" cy="328.92" r="0.35" fill="#6c6cb8"/><circle cx="151.65" cy="360.19" r="0.45" fill="#4a4a9c"/><circle cx="137.74" cy="362.91" r="0.38" fill="#6c6cb8"/><circle cx="129.18" cy="341.33" r="0.34" fill="#4a4a9c"/><circle cx="141.3" cy="347.33" r="0.48" fill="#5858a8"/><circle cx="198.84" cy="317.36" r="0.34" fill="#6c6cb8"/><circle cx="172.34" cy="304.79" r="0.54" fill="#8080c4"/><circle cx="205.19" cy="314.06" r="0.3" fill="#5858a8"/><circle cx="217.83" cy="292.67" r="0.54" fill="#4a4a9c"/><circle cx="149.58" cy="362.8" r="0.43" fill="#4a4a9c"/><circle cx="166.7" cy="371.4" r="0.32" fill="#9a9ad0"/><circle cx="200.34" cy="363.07" r="0.48" fill="#9a9ad0"/><circle cx="148.04" cy="336.11" r="0.5" fill="#6c6cb8"/><circle cx="182.87" cy="372.62" r="0.49" fill="#9a9ad0"/><circle cx="173.94" cy="337.5" r="0.28" fill="#6c6cb8"/><circle cx="152.73" cy="355.17" r="0.32" fill="#9a9ad0"/><circle cx="143.19" cy="343.27" r="0.37" fill="#6c6cb8"/><circle cx="150.16" cy="328.45" r="0.45" fill="#5858a8"/><circle cx="194.86" cy="366.14" r="0.33" fill="#5858a8"/><circle cx="133.85" cy="348.56" r="0.36" fill="#8080c4"/><circle cx="189.37" cy="306.5" r="0.28" fill="#9a9ad0"/><circle cx="154.51" cy="339.64" r="0.45" fill="#5858a8"/><circle cx="168.66" cy="365.89" r="0.42" fill="#6c6cb8"/><circle cx="193.91" cy="311.93" r="0.52" fill="#6c6cb8"/><circle cx="197.82" cy="326.49" r="0.4" fill="#4a4a9c"/><circle cx="140.26" cy="359.75" r="0.47" fill="#5858a8"/><circle cx="174.44" cy="302.02" r="0.41" fill="#6c6cb8"/><circle cx="204.06" cy="372.06" r="0.5" fill="#5858a8"/><circle cx="192.19" cy="325.11" r="0.36" fill="#4a4a9c"/><circle cx="140.29" cy="352.26" r="0.54" fill="#5858a8"/><circle cx="155.04" cy="317.55" r="0.35" fill="#4a4a9c"/><circle cx="215.51" cy="356.58" r="0.37" fill="#6c6cb8"/><circle cx="200.29" cy="334.24" r="0.41" fill="#8080c4"/><circle cx="179.82" cy="291.41" r="0.31" fill="#6c6cb8"/><circle cx="140.68" cy="337.74" r="0.28" fill="#8080c4"/><circle cx="199.85" cy="345.91" r="0.29" fill="#5858a8"/><circle cx="172.36" cy="293.01" r="0.38" fill="#6c6cb8"/><circle cx="161.18" cy="312.59" r="0.35" fill="#5858a8"/><circle cx="133.29" cy="347.28" r="0.4" fill="#5858a8"/><circle cx="168.42" cy="316.12" r="0.4" fill="#9a9ad0"/><circle cx="208.84" cy="376.55" r="0.38" fill="#5858a8"/><circle cx="168.54" cy="364.75" r="0.35" fill="#5858a8"/><circle cx="189.36" cy="361.49" r="0.43" fill="#4a4a9c"/><circle cx="169.61" cy="300.81" r="0.33" fill="#6c6cb8"/><circle cx="165.24" cy="316.73" r="0.41" fill="#4a4a9c"/><circle cx="188.74" cy="317.44" r="0.32" fill="#9a9ad0"/><circle cx="229.35" cy="313.2" r="0.46" fill="#8080c4"/><circle cx="164.61" cy="326.99" r="0.45" fill="#4a4a9c"/><circle cx="182.13" cy="359.76" r="0.35" fill="#8080c4"/><circle cx="183.54" cy="332.77" r="0.47" fill="#6c6cb8"/><circle cx="216.82" cy="369.03" r="0.37" fill="#8080c4"/><circle cx="161.44" cy="348.38" r="0.34" fill="#9a9ad0"/><circle cx="150.29" cy="363.49" r="0.53" fill="#8080c4"/><circle cx="214" cy="354.34" r="0.53" fill="#8080c4"/><circle cx="133.03" cy="338.18" r="0.47" fill="#5858a8"/><circle cx="200.63" cy="338.98" r="0.46" fill="#5858a8"/><circle cx="174.06" cy="351.29" r="0.32" fill="#4a4a9c"/><circle cx="204.47" cy="346.21" r="0.38" fill="#6c6cb8"/><circle cx="149.67" cy="318.75" r="0.5" fill="#4a4a9c"/><circle cx="123.74" cy="339.28" r="0.34" fill="#5858a8"/><circle cx="186.86" cy="299.96" r="0.55" fill="#8080c4"/><circle cx="134.32" cy="340.97" r="0.39" fill="#9a9ad0"/><circle cx="125.55" cy="348.49" r="0.52" fill="#5858a8"/><circle cx="222.24" cy="368.42" r="0.44" fill="#5858a8"/><circle cx="184.54" cy="336.49" r="0.41" fill="#6c6cb8"/><circle cx="159.67" cy="358.54" r="0.43" fill="#9a9ad0"/><circle cx="146.06" cy="324.58" r="0.54" fill="#6c6cb8"/><circle cx="141.99" cy="324.27" r="0.52" fill="#5858a8"/><circle cx="181.71" cy="359.37" r="0.29" fill="#6c6cb8"/><circle cx="181.06" cy="300.72" r="0.31" fill="#6c6cb8"/><circle cx="168.71" cy="348.45" r="0.44" fill="#4a4a9c"/><circle cx="176.8" cy="313.17" r="0.28" fill="#8080c4"/><circle cx="167.44" cy="346.78" r="0.49" fill="#6c6cb8"/><circle cx="148.1" cy="309.84" r="0.34" fill="#4a4a9c"/><circle cx="181.91" cy="298.91" r="0.32" fill="#5858a8"/><circle cx="194.49" cy="308.28" r="0.46" fill="#8080c4"/><circle cx="191.36" cy="370.98" r="0.32" fill="#6c6cb8"/><circle cx="198.86" cy="376.47" r="0.39" fill="#8080c4"/><circle cx="166.15" cy="352.18" r="0.5" fill="#8080c4"/><circle cx="182.54" cy="365.08" r="0.41" fill="#8080c4"/><circle cx="185.61" cy="360.96" r="0.41" fill="#4a4a9c"/><circle cx="205.99" cy="298.79" r="0.3" fill="#5858a8"/><circle cx="205.32" cy="350.27" r="0.37" fill="#6c6cb8"/><circle cx="131.15" cy="343.16" r="0.36" fill="#6c6cb8"/><circle cx="205.29" cy="363.48" r="0.37" fill="#5858a8"/><circle cx="180.48" cy="380.87" r="0.46" fill="#9a9ad0"/><circle cx="148.12" cy="374.25" r="0.43" fill="#4a4a9c"/><circle cx="147.46" cy="311.37" r="0.42" fill="#8080c4"/><circle cx="144.06" cy="351.79" r="0.42" fill="#8080c4"/><circle cx="188.1" cy="363.35" r="0.52" fill="#8080c4"/><circle cx="221.06" cy="334.01" r="0.35" fill="#5858a8"/><circle cx="124.71" cy="357.6" r="0.4" fill="#4a4a9c"/><circle cx="162.06" cy="366.81" r="0.39" fill="#9a9ad0"/><circle cx="216.04" cy="297.96" r="0.55" fill="#9a9ad0"/><circle cx="134.12" cy="316.7" r="0.5" fill="#8080c4"/><circle cx="234.93" cy="379.13" r="0.33" fill="#4a4a9c"/><circle cx="142.8" cy="320.49" r="0.31" fill="#6c6cb8"/><circle cx="172.51" cy="296.82" r="0.33" fill="#4a4a9c"/><circle cx="195.55" cy="301.35" r="0.44" fill="#6c6cb8"/><circle cx="150.5" cy="335.84" r="0.28" fill="#8080c4"/><circle cx="126.36" cy="321.03" r="0.47" fill="#6c6cb8"/><circle cx="173.63" cy="336.71" r="0.31" fill="#8080c4"/><circle cx="183.83" cy="378.8" r="0.44" fill="#9a9ad0"/><circle cx="164.01" cy="382.71" r="0.35" fill="#6c6cb8"/><circle cx="200.03" cy="347.69" r="0.35" fill="#4a4a9c"/><circle cx="198.55" cy="317.92" r="0.41" fill="#6c6cb8"/><circle cx="159.15" cy="356.14" r="0.53" fill="#6c6cb8"/><circle cx="224.89" cy="363.13" r="0.45" fill="#4a4a9c"/><circle cx="146.1" cy="366.31" r="0.55" fill="#9a9ad0"/><circle cx="139.63" cy="363.66" r="0.54" fill="#9a9ad0"/><circle cx="161.7" cy="303.07" r="0.44" fill="#8080c4"/><circle cx="188.81" cy="316.93" r="0.39" fill="#9a9ad0"/><circle cx="190.32" cy="316.8" r="0.28" fill="#9a9ad0"/><circle cx="123.91" cy="345.28" r="0.52" fill="#4a4a9c"/><circle cx="161.19" cy="314.02" r="0.35" fill="#5858a8"/><circle cx="147.01" cy="304.19" r="0.37" fill="#5858a8"/><circle cx="140.44" cy="368.41" r="0.51" fill="#6c6cb8"/><circle cx="191.75" cy="376.74" r="0.39" fill="#4a4a9c"/><circle cx="148.8" cy="322.24" r="0.5" fill="#8080c4"/><circle cx="149.46" cy="368.99" r="0.46" fill="#9a9ad0"/><circle cx="214.5" cy="373.42" r="0.3" fill="#4a4a9c"/><circle cx="151.11" cy="318.87" r="0.32" fill="#4a4a9c"/><circle cx="138.44" cy="343.96" r="0.43" fill="#4a4a9c"/><circle cx="145.02" cy="337.35" r="0.5" fill="#8080c4"/><circle cx="155.64" cy="340.01" r="0.35" fill="#9a9ad0"/><circle cx="222.05" cy="319.42" r="0.32" fill="#4a4a9c"/><circle cx="169.35" cy="318.1" r="0.51" fill="#6c6cb8"/><circle cx="217.67" cy="324.53" r="0.29" fill="#8080c4"/><circle cx="141.99" cy="333.81" r="0.52" fill="#4a4a9c"/><circle cx="138.08" cy="362.68" r="0.38" fill="#6c6cb8"/><circle cx="147.16" cy="358.78" r="0.34" fill="#6c6cb8"/><circle cx="134.3" cy="340.22" r="0.34" fill="#6c6cb8"/><circle cx="130.68" cy="362.53" r="0.29" fill="#9a9ad0"/><circle cx="162.76" cy="377.45" r="0.39" fill="#6c6cb8"/><circle cx="144.28" cy="310.79" r="0.28" fill="#8080c4"/><circle cx="170.8" cy="323.39" r="0.48" fill="#8080c4"/><circle cx="166.02" cy="307.44" r="0.42" fill="#8080c4"/><circle cx="141.42" cy="322.29" r="0.39" fill="#9a9ad0"/><circle cx="174.98" cy="338.79" r="0.3" fill="#9a9ad0"/><circle cx="148.45" cy="313.11" r="0.35" fill="#8080c4"/><circle cx="204.27" cy="340.96" r="0.38" fill="#8080c4"/><circle cx="136.76" cy="378.23" r="0.52" fill="#9a9ad0"/><circle cx="155.17" cy="351" r="0.35" fill="#6c6cb8"/><circle cx="196.49" cy="368.52" r="0.44" fill="#9a9ad0"/><circle cx="181.99" cy="349.45" r="0.51" fill="#8080c4"/><circle cx="177.66" cy="363.7" r="0.34" fill="#4a4a9c"/><circle cx="219.46" cy="313.53" r="0.49" fill="#9a9ad0"/><circle cx="217" cy="297.52" r="0.35" fill="#8080c4"/><circle cx="211.17" cy="374.92" r="0.41" fill="#4a4a9c"/><circle cx="147.36" cy="312.95" r="0.43" fill="#6c6cb8"/><circle cx="221.36" cy="327.86" r="0.42" fill="#6c6cb8"/><circle cx="194.32" cy="309.74" r="0.36" fill="#9a9ad0"/><circle cx="175.17" cy="377.43" r="0.5" fill="#9a9ad0"/><circle cx="134.18" cy="350.6" r="0.43" fill="#6c6cb8"/><circle cx="134.4" cy="338.02" r="0.5" fill="#4a4a9c"/><circle cx="201.6" cy="348.17" r="0.5" fill="#8080c4"/><circle cx="142.37" cy="316.18" r="0.39" fill="#5858a8"/><circle cx="123.38" cy="362.04" r="0.36" fill="#9a9ad0"/><circle cx="174.61" cy="301.7" r="0.34" fill="#8080c4"/><circle cx="200.55" cy="300.2" r="0.32" fill="#8080c4"/><circle cx="209.67" cy="326.31" r="0.38" fill="#9a9ad0"/><circle cx="175.79" cy="366.85" r="0.51" fill="#8080c4"/><circle cx="191.14" cy="351.74" r="0.33" fill="#8080c4"/><circle cx="183.02" cy="376.77" r="0.31" fill="#8080c4"/><circle cx="187.77" cy="316.85" r="0.52" fill="#6c6cb8"/><circle cx="168.7" cy="309.07" r="0.29" fill="#9a9ad0"/><circle cx="192.62" cy="367.51" r="0.36" fill="#9a9ad0"/><circle cx="162.34" cy="316.94" r="0.43" fill="#4a4a9c"/><circle cx="163.5" cy="336.93" r="0.35" fill="#5858a8"/><circle cx="139.8" cy="346.2" r="0.34" fill="#8080c4"/><circle cx="219.13" cy="325.42" r="0.33" fill="#5858a8"/><circle cx="185.74" cy="384.64" r="0.3" fill="#5858a8"/><circle cx="150.05" cy="341.76" r="0.35" fill="#9a9ad0"/><circle cx="212.15" cy="324.5" r="0.37" fill="#5858a8"/><circle cx="155.63" cy="310.04" r="0.54" fill="#4a4a9c"/><circle cx="171.56" cy="366.92" r="0.54" fill="#6c6cb8"/><circle cx="156.07" cy="334.99" r="0.43" fill="#6c6cb8"/><circle cx="217.75" cy="355.58" r="0.47" fill="#6c6cb8"/><circle cx="164.64" cy="365.17" r="0.32" fill="#9a9ad0"/><circle cx="137.12" cy="346.36" r="0.41" fill="#9a9ad0"/><circle cx="144.89" cy="366.49" r="0.41" fill="#4a4a9c"/><circle cx="205.6" cy="323.35" r="0.38" fill="#5858a8"/><circle cx="212.58" cy="329.72" r="0.37" fill="#4a4a9c"/><circle cx="218.89" cy="365.28" r="0.54" fill="#5858a8"/><circle cx="163.23" cy="372.37" r="0.46" fill="#4a4a9c"/><circle cx="187.69" cy="371.25" r="0.51" fill="#8080c4"/><circle cx="218.22" cy="366.09" r="0.44" fill="#6c6cb8"/><circle cx="137.53" cy="355.69" r="0.5" fill="#9a9ad0"/><circle cx="169.35" cy="359.83" r="0.51" fill="#8080c4"/><circle cx="189.98" cy="378.81" r="0.44" fill="#6c6cb8"/><circle cx="207.01" cy="362.04" r="0.32" fill="#5858a8"/><circle cx="172.97" cy="339.85" r="0.46" fill="#9a9ad0"/><circle cx="209.12" cy="308.01" r="0.38" fill="#8080c4"/><circle cx="143.16" cy="359.1" r="0.48" fill="#5858a8"/><circle cx="174.31" cy="306.4" r="0.47" fill="#4a4a9c"/><circle cx="196.33" cy="369.77" r="0.33" fill="#9a9ad0"/><circle cx="207.29" cy="322.84" r="0.44" fill="#9a9ad0"/><circle cx="183.33" cy="304.26" r="0.44" fill="#6c6cb8"/><circle cx="152.06" cy="321.08" r="0.4" fill="#9a9ad0"/><circle cx="189.3" cy="315.14" r="0.48" fill="#8080c4"/><circle cx="192.7" cy="332.98" r="0.37" fill="#5858a8"/><circle cx="156.72" cy="359.39" r="0.42" fill="#5858a8"/><circle cx="191.41" cy="305.59" r="0.52" fill="#9a9ad0"/><circle cx="175.52" cy="330.64" r="0.5" fill="#8080c4"/><circle cx="190.71" cy="363.4" r="0.5" fill="#6c6cb8"/><circle cx="187.14" cy="296.74" r="0.43" fill="#9a9ad0"/><circle cx="175.17" cy="319.46" r="0.54" fill="#6c6cb8"/><circle cx="131.06" cy="332.99" r="0.53" fill="#4a4a9c"/><circle cx="177.35" cy="316.79" r="0.35" fill="#4a4a9c"/><circle cx="130.69" cy="333.09" r="0.36" fill="#5858a8"/><circle cx="193.6" cy="378.89" r="0.29" fill="#6c6cb8"/><circle cx="206.63" cy="354.85" r="0.43" fill="#8080c4"/><circle cx="233.68" cy="314.34" r="0.37" fill="#9a9ad0"/><circle cx="198.71" cy="311.5" r="0.49" fill="#8080c4"/><circle cx="129.33" cy="336.51" r="0.35" fill="#5858a8"/><circle cx="142.77" cy="324.63" r="0.55" fill="#5858a8"/><circle cx="136.37" cy="314.18" r="0.31" fill="#8080c4"/><circle cx="198.96" cy="305.04" r="0.42" fill="#9a9ad0"/><circle cx="196.2" cy="359.96" r="0.34" fill="#9a9ad0"/><circle cx="192.42" cy="374.8" r="0.42" fill="#8080c4"/><circle cx="144" cy="346.56" r="0.38" fill="#9a9ad0"/><circle cx="140.93" cy="356.93" r="0.37" fill="#8080c4"/><circle cx="115.33" cy="350.19" r="0.39" fill="#8080c4"/><circle cx="189.89" cy="311.45" r="0.44" fill="#9a9ad0"/><circle cx="177.94" cy="314.4" r="0.51" fill="#4a4a9c"/><circle cx="154.15" cy="360.42" r="0.52" fill="#8080c4"/><circle cx="146.9" cy="362.94" r="0.28" fill="#6c6cb8"/><circle cx="202.49" cy="301.63" r="0.42" fill="#9a9ad0"/><circle cx="141.28" cy="375.2" r="0.32" fill="#5858a8"/><circle cx="133.45" cy="322.87" r="0.28" fill="#5858a8"/><circle cx="226.11" cy="313.23" r="0.48" fill="#6c6cb8"/><circle cx="173.74" cy="366.29" r="0.29" fill="#4a4a9c"/><circle cx="145.49" cy="313.04" r="0.54" fill="#8080c4"/><circle cx="198.37" cy="295.5" r="0.3" fill="#5858a8"/><circle cx="121.9" cy="344.1" r="0.4" fill="#4a4a9c"/><circle cx="146.56" cy="318.25" r="0.39" fill="#9a9ad0"/><circle cx="135.82" cy="360.33" r="0.35" fill="#5858a8"/><circle cx="141.91" cy="344.7" r="0.41" fill="#8080c4"/><circle cx="207.41" cy="352.77" r="0.37" fill="#5858a8"/><circle cx="187.26" cy="359.42" r="0.49" fill="#6c6cb8"/><circle cx="205.17" cy="329.17" r="0.31" fill="#9a9ad0"/><circle cx="168.33" cy="315.53" r="0.43" fill="#5858a8"/><circle cx="136.13" cy="311.04" r="0.34" fill="#4a4a9c"/><circle cx="135.27" cy="355.35" r="0.36" fill="#5858a8"/><circle cx="165.37" cy="320.03" r="0.5" fill="#9a9ad0"/><circle cx="184.88" cy="380.7" r="0.38" fill="#8080c4"/><circle cx="194.96" cy="363.76" r="0.36" fill="#5858a8"/><circle cx="118.65" cy="342.48" r="0.37" fill="#9a9ad0"/><circle cx="153.63" cy="340.21" r="0.35" fill="#5858a8"/><circle cx="181.73" cy="362.72" r="0.54" fill="#4a4a9c"/><circle cx="150.69" cy="342.13" r="0.3" fill="#9a9ad0"/><circle cx="166" cy="338.18" r="0.42" fill="#8080c4"/><circle cx="152.07" cy="313.7" r="0.44" fill="#9a9ad0"/><circle cx="229.44" cy="315.19" r="0.4" fill="#6c6cb8"/><circle cx="168.84" cy="359.49" r="0.29" fill="#4a4a9c"/><circle cx="217.76" cy="375.39" r="0.34" fill="#6c6cb8"/><circle cx="183.91" cy="304.87" r="0.53" fill="#5858a8"/><circle cx="208.75" cy="355.83" r="0.45" fill="#9a9ad0"/><circle cx="127.78" cy="342.16" r="0.28" fill="#4a4a9c"/><circle cx="138.27" cy="336.75" r="0.5" fill="#4a4a9c"/><circle cx="157.58" cy="358.64" r="0.52" fill="#4a4a9c"/><circle cx="217.39" cy="321.62" r="0.47" fill="#8080c4"/><circle cx="133.03" cy="375.82" r="0.28" fill="#5858a8"/><circle cx="212.82" cy="355.39" r="0.51" fill="#9a9ad0"/><circle cx="178.73" cy="312.48" r="0.36" fill="#4a4a9c"/><circle cx="179.42" cy="369.6" r="0.49" fill="#9a9ad0"/><circle cx="192.19" cy="371.79" r="0.44" fill="#4a4a9c"/><circle cx="153.03" cy="316.15" r="0.54" fill="#9a9ad0"/><circle cx="136.09" cy="327.28" r="0.35" fill="#4a4a9c"/><circle cx="184.35" cy="306.91" r="0.36" fill="#4a4a9c"/><circle cx="146.45" cy="341.63" r="0.44" fill="#9a9ad0"/><circle cx="165.82" cy="328.96" r="0.32" fill="#4a4a9c"/><circle cx="215.95" cy="327.48" r="0.45" fill="#6c6cb8"/><circle cx="116.75" cy="325.22" r="0.52" fill="#4a4a9c"/><circle cx="140.8" cy="316.11" r="0.31" fill="#8080c4"/><circle cx="146.2" cy="349.47" r="0.44" fill="#4a4a9c"/><circle cx="144.05" cy="334.52" r="0.29" fill="#4a4a9c"/><circle cx="166.01" cy="303.34" r="0.54" fill="#6c6cb8"/><circle cx="187.47" cy="370.02" r="0.38" fill="#4a4a9c"/><circle cx="171.8" cy="301" r="0.45" fill="#5858a8"/><circle cx="150.22" cy="348.6" r="0.46" fill="#8080c4"/><circle cx="201.39" cy="351.91" r="0.52" fill="#9a9ad0"/><circle cx="175.52" cy="314.27" r="0.43" fill="#5858a8"/><circle cx="141.5" cy="352.32" r="0.34" fill="#9a9ad0"/><circle cx="134.68" cy="348.48" r="0.51" fill="#8080c4"/><circle cx="142.18" cy="336.26" r="0.33" fill="#8080c4"/><circle cx="157.06" cy="364.22" r="0.52" fill="#5858a8"/><circle cx="202.07" cy="313.95" r="0.55" fill="#9a9ad0"/><circle cx="125.76" cy="359.85" r="0.48" fill="#4a4a9c"/><circle cx="182.59" cy="388.95" r="0.32" fill="#4a4a9c"/><circle cx="203.67" cy="309.57" r="0.46" fill="#5858a8"/><circle cx="184.21" cy="348.56" r="0.5" fill="#5858a8"/><circle cx="168.52" cy="334.55" r="0.32" fill="#6c6cb8"/><circle cx="216.04" cy="369.35" r="0.52" fill="#8080c4"/><circle cx="176.91" cy="382.11" r="0.43" fill="#8080c4"/><circle cx="223.15" cy="354.56" r="0.39" fill="#5858a8"/><circle cx="217.34" cy="322.81" r="0.48" fill="#9a9ad0"/><circle cx="141.92" cy="352.1" r="0.4" fill="#9a9ad0"/><circle cx="182.52" cy="367.34" r="0.34" fill="#8080c4"/><circle cx="139.48" cy="343.7" r="0.49" fill="#5858a8"/><circle cx="128.48" cy="359.91" r="0.29" fill="#4a4a9c"/><circle cx="188.95" cy="364.51" r="0.33" fill="#6c6cb8"/><circle cx="185.39" cy="311.95" r="0.55" fill="#6c6cb8"/><circle cx="194.48" cy="361.66" r="0.46" fill="#8080c4"/><circle cx="209.56" cy="321.76" r="0.54" fill="#4a4a9c"/><circle cx="203.72" cy="361.88" r="0.32" fill="#5858a8"/><circle cx="138.67" cy="360.2" r="0.53" fill="#8080c4"/><circle cx="125.27" cy="361.08" r="0.42" fill="#5858a8"/><circle cx="235.69" cy="349.99" r="0.35" fill="#8080c4"/><circle cx="156.23" cy="355.37" r="0.41" fill="#5858a8"/><circle cx="187.66" cy="310.5" r="0.36" fill="#5858a8"/><circle cx="145.78" cy="321.62" r="0.51" fill="#4a4a9c"/><circle cx="176.93" cy="305.83" r="0.42" fill="#9a9ad0"/><circle cx="157.55" cy="336.04" r="0.43" fill="#5858a8"/><circle cx="178.88" cy="353.92" r="0.48" fill="#6c6cb8"/><circle cx="161.23" cy="351.49" r="0.5" fill="#5858a8"/><circle cx="167.92" cy="371.92" r="0.43" fill="#9a9ad0"/><circle cx="197.94" cy="358.1" r="0.35" fill="#8080c4"/><circle cx="148.44" cy="307.93" r="0.49" fill="#9a9ad0"/><circle cx="215.65" cy="330.01" r="0.28" fill="#5858a8"/><circle cx="209.88" cy="374.92" r="0.45" fill="#6c6cb8"/><circle cx="127.88" cy="360.58" r="0.33" fill="#9a9ad0"/><circle cx="153.11" cy="313.89" r="0.54" fill="#4a4a9c"/><circle cx="182.36" cy="309.49" r="0.5" fill="#5858a8"/><circle cx="163.75" cy="354.08" r="0.37" fill="#8080c4"/><circle cx="190.39" cy="314.21" r="0.33" fill="#4a4a9c"/><circle cx="201.12" cy="350.12" r="0.52" fill="#6c6cb8"/><circle cx="168.17" cy="320.99" r="0.4" fill="#5858a8"/><circle cx="155.91" cy="345.3" r="0.52" fill="#9a9ad0"/><circle cx="150.91" cy="366.12" r="0.31" fill="#4a4a9c"/><circle cx="210.96" cy="329.87" r="0.31" fill="#6c6cb8"/><circle cx="147.63" cy="318.56" r="0.53" fill="#5858a8"/><circle cx="188.99" cy="313.21" r="0.44" fill="#6c6cb8"/><circle cx="164.48" cy="320.61" r="0.5" fill="#8080c4"/><circle cx="186.51" cy="319.11" r="0.41" fill="#6c6cb8"/><circle cx="189.65" cy="357.67" r="0.55" fill="#6c6cb8"/><circle cx="200.86" cy="316.23" r="0.5" fill="#5858a8"/><circle cx="226.61" cy="317.16" r="0.34" fill="#8080c4"/><circle cx="144.63" cy="352.91" r="0.32" fill="#6c6cb8"/><circle cx="153.09" cy="354.97" r="0.48" fill="#4a4a9c"/><circle cx="209.98" cy="363.5" r="0.37" fill="#4a4a9c"/><circle cx="139.68" cy="356.61" r="0.37" fill="#5858a8"/><circle cx="151.55" cy="356.61" r="0.54" fill="#4a4a9c"/><circle cx="182.6" cy="313.47" r="0.41" fill="#8080c4"/><circle cx="173.85" cy="382.3" r="0.37" fill="#8080c4"/><circle cx="188.11" cy="385.59" r="0.35" fill="#8080c4"/><circle cx="188.79" cy="353.58" r="0.55" fill="#5858a8"/><circle cx="169.81" cy="318.3" r="0.48" fill="#8080c4"/><circle cx="178.42" cy="366.19" r="0.28" fill="#4a4a9c"/><circle cx="142.6" cy="365.83" r="0.45" fill="#6c6cb8"/><circle cx="212.53" cy="360.35" r="0.52" fill="#4a4a9c"/><circle cx="148.88" cy="351.61" r="0.53" fill="#8080c4"/><circle cx="139.86" cy="359.95" r="0.44" fill="#6c6cb8"/><circle cx="170.28" cy="317.43" r="0.42" fill="#6c6cb8"/><circle cx="180.98" cy="371.57" r="0.35" fill="#6c6cb8"/><circle cx="127.65" cy="320.21" r="0.44" fill="#8080c4"/><circle cx="167.12" cy="325.49" r="0.29" fill="#4a4a9c"/><circle cx="148.49" cy="334.38" r="0.29" fill="#8080c4"/><circle cx="153.74" cy="311.9" r="0.45" fill="#8080c4"/><circle cx="141.29" cy="313.98" r="0.45" fill="#9a9ad0"/><circle cx="133.8" cy="348.23" r="0.44" fill="#8080c4"/><circle cx="208.51" cy="382.1" r="0.51" fill="#5858a8"/><circle cx="164.42" cy="336.29" r="0.36" fill="#8080c4"/><circle cx="132.69" cy="321.21" r="0.28" fill="#5858a8"/><circle cx="226.25" cy="333.36" r="0.49" fill="#5858a8"/><circle cx="160.03" cy="340.3" r="0.32" fill="#4a4a9c"/><circle cx="194.48" cy="366.71" r="0.31" fill="#4a4a9c"/><circle cx="182.75" cy="322.44" r="0.55" fill="#4a4a9c"/><circle cx="187.33" cy="354.47" r="0.3" fill="#4a4a9c"/><circle cx="223.23" cy="360.25" r="0.33" fill="#9a9ad0"/><circle cx="138" cy="299.06" r="0.32" fill="#8080c4"/><circle cx="211.94" cy="353.42" r="0.33" fill="#4a4a9c"/><circle cx="181.62" cy="368.22" r="0.46" fill="#5858a8"/><circle cx="181.04" cy="326.95" r="0.54" fill="#5858a8"/><circle cx="171.69" cy="340.73" r="0.28" fill="#5858a8"/><circle cx="218.14" cy="309.75" r="0.28" fill="#6c6cb8"/><circle cx="176.28" cy="367.15" r="0.37" fill="#6c6cb8"/><circle cx="160.89" cy="350.28" r="0.45" fill="#6c6cb8"/><circle cx="146.14" cy="342.02" r="0.55" fill="#8080c4"/><circle cx="136.02" cy="332.54" r="0.49" fill="#5858a8"/><circle cx="132.95" cy="353.99" r="0.5" fill="#5858a8"/><circle cx="125.38" cy="353.98" r="0.53" fill="#6c6cb8"/><circle cx="165.97" cy="337.71" r="0.38" fill="#5858a8"/><circle cx="212.94" cy="332.03" r="0.32" fill="#5858a8"/><circle cx="149.28" cy="345.38" r="0.54" fill="#4a4a9c"/><circle cx="181.06" cy="310.96" r="0.49" fill="#4a4a9c"/><circle cx="149.62" cy="368.58" r="0.33" fill="#4a4a9c"/><circle cx="216.36" cy="368.17" r="0.34" fill="#4a4a9c"/><circle cx="166.26" cy="340.33" r="0.39" fill="#9a9ad0"/><circle cx="231.72" cy="350.33" r="0.29" fill="#9a9ad0"/><circle cx="144.31" cy="317.48" r="0.38" fill="#5858a8"/><circle cx="202.06" cy="337.23" r="0.33" fill="#6c6cb8"/><circle cx="122.62" cy="342.33" r="0.33" fill="#4a4a9c"/><circle cx="157.9" cy="350.51" r="0.45" fill="#8080c4"/><circle cx="230.62" cy="320.46" r="0.34" fill="#9a9ad0"/><circle cx="181.11" cy="332.16" r="0.34" fill="#5858a8"/><circle cx="140.73" cy="364.73" r="0.46" fill="#9a9ad0"/><circle cx="183.63" cy="365.7" r="0.44" fill="#5858a8"/><circle cx="171.34" cy="314.87" r="0.4" fill="#9a9ad0"/><circle cx="127.93" cy="360.4" r="0.5" fill="#6c6cb8"/><circle cx="182.67" cy="366.07" r="0.48" fill="#8080c4"/><circle cx="137.59" cy="338.26" r="0.51" fill="#6c6cb8"/><circle cx="159.75" cy="363.09" r="0.51" fill="#9a9ad0"/><circle cx="184.11" cy="384.35" r="0.53" fill="#6c6cb8"/><circle cx="157.68" cy="344.66" r="0.44" fill="#9a9ad0"/><circle cx="127.28" cy="343.76" r="0.29" fill="#5858a8"/><circle cx="133.11" cy="309.65" r="0.41" fill="#9a9ad0"/><circle cx="197.7" cy="338.53" r="0.34" fill="#4a4a9c"/><circle cx="152.98" cy="326.76" r="0.42" fill="#5858a8"/><circle cx="204.98" cy="346.68" r="0.47" fill="#6c6cb8"/><circle cx="196.57" cy="343.65" r="0.48" fill="#8080c4"/><circle cx="157.33" cy="328.83" r="0.44" fill="#4a4a9c"/><circle cx="130.2" cy="311.3" r="0.34" fill="#5858a8"/><circle cx="186.12" cy="351.93" r="0.35" fill="#4a4a9c"/><circle cx="194.74" cy="331.73" r="0.52" fill="#9a9ad0"/><circle cx="195.83" cy="342.28" r="0.43" fill="#4a4a9c"/><circle cx="184.97" cy="340.79" r="0.47" fill="#9a9ad0"/><circle cx="133.59" cy="349.2" r="0.29" fill="#9a9ad0"/><circle cx="176.75" cy="340.51" r="0.51" fill="#6c6cb8"/><circle cx="149.17" cy="349.14" r="0.51" fill="#4a4a9c"/><circle cx="223.43" cy="315.86" r="0.29" fill="#5858a8"/><circle cx="204.47" cy="345.88" r="0.55" fill="#4a4a9c"/><circle cx="151.94" cy="378.04" r="0.3" fill="#5858a8"/><circle cx="170.72" cy="353.08" r="0.51" fill="#6c6cb8"/><circle cx="187.84" cy="374.62" r="0.47" fill="#8080c4"/><circle cx="182.88" cy="306.5" r="0.29" fill="#6c6cb8"/><circle cx="180.93" cy="359.55" r="0.49" fill="#9a9ad0"/><circle cx="156.23" cy="333.26" r="0.35" fill="#6c6cb8"/><circle cx="171.72" cy="305.08" r="0.54" fill="#5858a8"/><circle cx="221.06" cy="312.99" r="0.5" fill="#8080c4"/><circle cx="210.76" cy="359.32" r="0.45" fill="#5858a8"/><circle cx="219.8" cy="311.41" r="0.33" fill="#4a4a9c"/><circle cx="148.79" cy="359.45" r="0.45" fill="#6c6cb8"/><circle cx="167.41" cy="314.27" r="0.31" fill="#5858a8"/><circle cx="159.31" cy="300.24" r="0.53" fill="#8080c4"/><circle cx="155.18" cy="340.47" r="0.38" fill="#9a9ad0"/><circle cx="183.58" cy="378.33" r="0.46" fill="#8080c4"/><circle cx="164.74" cy="362.79" r="0.4" fill="#4a4a9c"/><circle cx="139.71" cy="325.31" r="0.53" fill="#9a9ad0"/><circle cx="142.86" cy="334.34" r="0.48" fill="#5858a8"/><circle cx="201.05" cy="377.7" r="0.32" fill="#6c6cb8"/><circle cx="186.28" cy="362.31" r="0.34" fill="#9a9ad0"/><circle cx="145.01" cy="361.48" r="0.39" fill="#5858a8"/><circle cx="199.04" cy="348.04" r="0.35" fill="#5858a8"/><circle cx="163.67" cy="312.11" r="0.38" fill="#6c6cb8"/><circle cx="157.78" cy="313.9" r="0.51" fill="#9a9ad0"/><circle cx="125.6" cy="348.14" r="0.29" fill="#9a9ad0"/><circle cx="165.42" cy="330.2" r="0.49" fill="#9a9ad0"/><circle cx="177.61" cy="333.74" r="0.46" fill="#4a4a9c"/><circle cx="216.42" cy="321.54" r="0.32" fill="#5858a8"/><circle cx="171.41" cy="377.39" r="0.41" fill="#6c6cb8"/><circle cx="218.29" cy="325.79" r="0.47" fill="#6c6cb8"/><circle cx="186.97" cy="357.51" r="0.3" fill="#6c6cb8"/><circle cx="173.13" cy="308.48" r="0.47" fill="#4a4a9c"/><circle cx="177.51" cy="351.39" r="0.48" fill="#6c6cb8"/><circle cx="140.96" cy="340.94" r="0.54" fill="#4a4a9c"/><circle cx="207.72" cy="372.47" r="0.29" fill="#8080c4"/><circle cx="177.07" cy="333.91" r="0.37" fill="#4a4a9c"/><circle cx="151.51" cy="325.44" r="0.31" fill="#5858a8"/><circle cx="190.76" cy="359.32" r="0.47" fill="#6c6cb8"/><circle cx="179.64" cy="323.65" r="0.5" fill="#9a9ad0"/><circle cx="157.27" cy="358.14" r="0.38" fill="#5858a8"/><circle cx="184.57" cy="356.78" r="0.49" fill="#4a4a9c"/><circle cx="142.35" cy="312.87" r="0.49" fill="#4a4a9c"/><circle cx="171.27" cy="300.6" r="0.45" fill="#9a9ad0"/><circle cx="128.89" cy="338.29" r="0.33" fill="#9a9ad0"/><circle cx="186.82" cy="330.16" r="0.4" fill="#4a4a9c"/><circle cx="198.33" cy="311.66" r="0.39" fill="#5858a8"/><circle cx="162.69" cy="366.31" r="0.48" fill="#4a4a9c"/><circle cx="187.9" cy="306.68" r="0.31" fill="#5858a8"/><circle cx="148.42" cy="333.51" r="0.4" fill="#8080c4"/><circle cx="153.86" cy="350.62" r="0.44" fill="#4a4a9c"/><circle cx="161.09" cy="377.95" r="0.4" fill="#4a4a9c"/><circle cx="202.62" cy="308.09" r="0.52" fill="#5858a8"/><circle cx="175.5" cy="368.49" r="0.3" fill="#8080c4"/><circle cx="155.06" cy="306.65" r="0.34" fill="#8080c4"/><circle cx="136.1" cy="333.5" r="0.34" fill="#4a4a9c"/><circle cx="168.92" cy="335.39" r="0.44" fill="#5858a8"/><circle cx="168.21" cy="370.06" r="0.33" fill="#4a4a9c"/><circle cx="217.66" cy="315.09" r="0.34" fill="#6c6cb8"/><circle cx="123.58" cy="330.65" r="0.49" fill="#4a4a9c"/><circle cx="121.49" cy="332.16" r="0.41" fill="#4a4a9c"/><circle cx="141.44" cy="343.07" r="0.34" fill="#6c6cb8"/><circle cx="193.87" cy="366.75" r="0.3" fill="#4a4a9c"/><circle cx="172.29" cy="309.55" r="0.3" fill="#6c6cb8"/><circle cx="167.29" cy="351.25" r="0.45" fill="#8080c4"/><circle cx="170.75" cy="344.66" r="0.44" fill="#8080c4"/><circle cx="144.25" cy="310.22" r="0.32" fill="#6c6cb8"/><circle cx="224.96" cy="301.89" r="0.45" fill="#8080c4"/><circle cx="206.46" cy="328.25" r="0.51" fill="#5858a8"/><circle cx="142.58" cy="363.21" r="0.33" fill="#4a4a9c"/><circle cx="196.9" cy="362.41" r="0.38" fill="#6c6cb8"/><circle cx="139.68" cy="332.14" r="0.41" fill="#8080c4"/><circle cx="172.55" cy="365.24" r="0.35" fill="#8080c4"/><circle cx="174.73" cy="358.54" r="0.38" fill="#5858a8"/><circle cx="194.97" cy="361.58" r="0.3" fill="#6c6cb8"/><circle cx="164.78" cy="320.02" r="0.47" fill="#9a9ad0"/><circle cx="200.32" cy="344.64" r="0.46" fill="#8080c4"/><circle cx="119.99" cy="341.8" r="0.38" fill="#4a4a9c"/><circle cx="148.63" cy="358.36" r="0.53" fill="#8080c4"/><circle cx="130.79" cy="314.34" r="0.44" fill="#6c6cb8"/><circle cx="215.08" cy="352.87" r="0.34" fill="#8080c4"/><circle cx="196.25" cy="358.56" r="0.36" fill="#8080c4"/><circle cx="186.23" cy="353.26" r="0.28" fill="#9a9ad0"/><circle cx="191.71" cy="306.12" r="0.47" fill="#8080c4"/><circle cx="120.38" cy="360.7" r="0.46" fill="#9a9ad0"/><circle cx="141.36" cy="364.96" r="0.34" fill="#5858a8"/><circle cx="214.95" cy="360.98" r="0.38" fill="#8080c4"/><circle cx="158.29" cy="352.05" r="0.54" fill="#8080c4"/><circle cx="130.9" cy="352.6" r="0.32" fill="#6c6cb8"/><circle cx="151.33" cy="385.37" r="0.32" fill="#4a4a9c"/><circle cx="192.49" cy="321.07" r="0.38" fill="#4a4a9c"/><circle cx="148.97" cy="362.79" r="0.29" fill="#6c6cb8"/><circle cx="135.82" cy="309.22" r="0.36" fill="#5858a8"/><circle cx="191.68" cy="333.47" r="0.54" fill="#6c6cb8"/><circle cx="150.68" cy="340.13" r="0.46" fill="#8080c4"/><circle cx="186.33" cy="359" r="0.37" fill="#5858a8"/><circle cx="162.71" cy="356.66" r="0.45" fill="#4a4a9c"/><circle cx="130.94" cy="360.7" r="0.32" fill="#9a9ad0"/><circle cx="184.77" cy="362.62" r="0.46" fill="#9a9ad0"/><circle cx="148.92" cy="335.88" r="0.36" fill="#4a4a9c"/><circle cx="168.75" cy="372.14" r="0.43" fill="#8080c4"/><circle cx="131.36" cy="359.01" r="0.36" fill="#4a4a9c"/><circle cx="157.92" cy="356.67" r="0.37" fill="#5858a8"/><circle cx="152.65" cy="374.41" r="0.41" fill="#8a5a40"/><circle cx="132.92" cy="357.25" r="0.59" fill="#9a6a50"/><circle cx="145.35" cy="318.57" r="0.46" fill="#8a5a40"/><circle cx="208.9" cy="377.43" r="0.37" fill="#9a6a50"/><circle cx="169.67" cy="309.46" r="0.54" fill="#9a6a50"/><circle cx="206.86" cy="332.5" r="0.5" fill="#8a5a40"/><circle cx="208.37" cy="375.44" r="0.32" fill="#8a5a40"/><circle cx="144.96" cy="340.72" r="0.42" fill="#8a5a40"/><circle cx="184.9" cy="323.6" r="0.56" fill="#9a6a50"/><circle cx="204.77" cy="326.62" r="0.49" fill="#9a6a50"/><circle cx="177.43" cy="347.61" r="0.53" fill="#8a5a40"/><circle cx="211.87" cy="307.64" r="0.32" fill="#9a6a50"/><circle cx="199.73" cy="363.08" r="0.36" fill="#9a6a50"/><circle cx="189.32" cy="373.63" r="0.47" fill="#8a5a40"/><circle cx="159.56" cy="336.2" r="0.47" fill="#8a5a40"/><circle cx="165.16" cy="309.77" r="0.57" fill="#8a5a40"/><circle cx="181.45" cy="327.14" r="0.55" fill="#9a6a50"/><circle cx="184.84" cy="321.8" r="0.4" fill="#8a5a40"/><circle cx="130.37" cy="325.57" r="0.47" fill="#9a6a50"/><circle cx="160.31" cy="358.17" r="0.38" fill="#9a6a50"/><circle cx="218.62" cy="334.16" r="0.38" fill="#9a6a50"/><circle cx="163.68" cy="358.18" r="0.4" fill="#9a6a50"/><circle cx="137.93" cy="342.6" r="0.52" fill="#8a5a40"/><circle cx="187.84" cy="325.46" r="0.42" fill="#9a6a50"/><circle cx="217.46" cy="306.88" r="0.51" fill="#9a6a50"/><circle cx="131.08" cy="369" r="0.38" fill="#9a6a50"/><circle cx="148.55" cy="333.73" r="0.39" fill="#9a6a50"/><circle cx="183.72" cy="334.36" r="0.45" fill="#8a5a40"/><circle cx="147.51" cy="325.35" r="0.53" fill="#8a5a40"/><circle cx="208.94" cy="326.05" r="0.54" fill="#9a6a50"/><circle cx="166.94" cy="331.92" r="0.51" fill="#9a6a50"/><circle cx="147.63" cy="376.96" r="0.58" fill="#9a6a50"/><circle cx="220.31" cy="336.21" r="0.38" fill="#8a5a40"/><circle cx="172.82" cy="365.1" r="0.32" fill="#8a5a40"/><circle cx="184.57" cy="343.1" r="0.6" fill="#9a6a50"/></g>
<g clip-path="url(#c188)"><rect x="188.5" y="304.5" width="34.6" height="35" fill="#f4f4fa"/><circle cx="222.06" cy="320.24" r="1.02" fill="#c8cae6"/><circle cx="193.87" cy="318.58" r="1.97" fill="#c8cae6"/><circle cx="194.13" cy="317.91" r="1.01" fill="#d8d8ee"/><circle cx="191.26" cy="315.79" r="1.34" fill="#c8cae6"/><circle cx="203.53" cy="336.73" r="1.24" fill="#d8d8ee"/><circle cx="193.32" cy="317.36" r="1.11" fill="#c8cae6"/><circle cx="220.61" cy="334.79" r="1.94" fill="#c8cae6"/><circle cx="207.41" cy="329.04" r="1.12" fill="#c8cae6"/><circle cx="222.34" cy="329.81" r="1.31" fill="#d8d8ee"/><circle cx="188.82" cy="322.45" r="1.02" fill="#c8cae6"/><circle cx="194.28" cy="338.13" r="1.32" fill="#c8cae6"/><circle cx="197.57" cy="336.14" r="1.01" fill="#c8cae6"/><circle cx="209.99" cy="335.56" r="1.26" fill="#d8d8ee"/><circle cx="199.84" cy="308.91" r="1.46" fill="#d8d8ee"/><circle cx="220.55" cy="309.53" r="1.89" fill="#d8d8ee"/><circle cx="195.89" cy="310.79" r="1.52" fill="#c8cae6"/><circle cx="216.77" cy="318.87" r="1.71" fill="#c8cae6"/><circle cx="188.91" cy="306.77" r="1.79" fill="#d8d8ee"/><circle cx="193.81" cy="316.07" r="1.31" fill="#d8d8ee"/><circle cx="202.77" cy="329.5" r="1.09" fill="#d8d8ee"/><circle cx="221.11" cy="323.18" r="1.71" fill="#d8d8ee"/><circle cx="211.49" cy="339.4" r="1.96" fill="#d8d8ee"/><circle cx="191.59" cy="318.49" r="1.15" fill="#c8cae6"/><circle cx="191.69" cy="307.28" r="1.46" fill="#c8cae6"/><circle cx="202.55" cy="321.01" r="1.63" fill="#d8d8ee"/><circle cx="202.86" cy="310.51" r="1.87" fill="#d8d8ee"/><circle cx="204.03" cy="319.45" r="1.08" fill="#c8cae6"/><circle cx="191.95" cy="322.5" r="1.57" fill="#c8cae6"/><circle cx="191.06" cy="329.95" r="1.27" fill="#c8cae6"/><circle cx="208.6" cy="311.58" r="1.04" fill="#d8d8ee"/><circle cx="195.52" cy="334.52" r="1.95" fill="#d8d8ee"/><circle cx="190.57" cy="318.83" r="1.93" fill="#c8cae6"/><circle cx="189.63" cy="317.23" r="1.98" fill="#c8cae6"/><circle cx="213.53" cy="327.28" r="1.12" fill="#c8cae6"/><circle cx="213.92" cy="323.25" r="1.85" fill="#d8d8ee"/><circle cx="189.38" cy="314.2" r="1.63" fill="#c8cae6"/><circle cx="219.27" cy="324.87" r="1.04" fill="#d8d8ee"/><circle cx="190.96" cy="329.08" r="1.22" fill="#d8d8ee"/><circle cx="196.4" cy="338.87" r="1.07" fill="#d8d8ee"/><circle cx="218.6" cy="323.61" r="1.94" fill="#d8d8ee"/><circle cx="197.7" cy="305.45" r="0.77" fill="#8a8aca"/><circle cx="206.17" cy="306.16" r="0.69" fill="#7070bc"/><circle cx="202.23" cy="327.61" r="0.63" fill="#4848a0"/><circle cx="197.59" cy="320.01" r="0.87" fill="#7070bc"/><circle cx="195.12" cy="329.96" r="0.5" fill="#8a8aca"/><circle cx="201.83" cy="304.96" r="0.59" fill="#7070bc"/><circle cx="198.94" cy="333.93" r="0.93" fill="#7070bc"/><circle cx="204.97" cy="304.54" r="0.95" fill="#8a8aca"/><circle cx="193.34" cy="306.58" r="0.79" fill="#4848a0"/><circle cx="199.79" cy="302.53" r="0.73" fill="#7070bc"/><circle cx="200.02" cy="328.14" r="0.6" fill="#7070bc"/><circle cx="192.26" cy="317.52" r="0.77" fill="#4848a0"/><circle cx="185.04" cy="319.83" r="0.82" fill="#5a5aae"/><circle cx="217.03" cy="328.45" r="0.82" fill="#8a8aca"/><circle cx="203.99" cy="324.54" r="0.8" fill="#5a5aae"/><circle cx="198.06" cy="329.58" r="0.85" fill="#7070bc"/><circle cx="203.47" cy="325.53" r="0.93" fill="#8a8aca"/><circle cx="209.43" cy="307.15" r="0.63" fill="#8a8aca"/><circle cx="202.72" cy="330.71" r="0.62" fill="#4848a0"/><circle cx="204.7" cy="325.97" r="0.63" fill="#8a8aca"/><circle cx="201.67" cy="335.25" r="0.87" fill="#8a8aca"/><circle cx="199.3" cy="324.76" r="0.89" fill="#4848a0"/><circle cx="205.37" cy="331.93" r="0.65" fill="#5a5aae"/><circle cx="202.91" cy="328.31" r="0.53" fill="#4848a0"/><circle cx="203.26" cy="310.61" r="0.53" fill="#7070bc"/><circle cx="198.14" cy="327.16" r="0.61" fill="#8a8aca"/><circle cx="215.11" cy="328.69" r="0.61" fill="#4848a0"/><circle cx="203.26" cy="336.73" r="0.93" fill="#8a8aca"/><circle cx="188.52" cy="316.27" r="0.84" fill="#4848a0"/><circle cx="192.22" cy="308.59" r="0.46" fill="#7070bc"/><circle cx="196.46" cy="336.55" r="0.72" fill="#5a5aae"/><circle cx="201.95" cy="335.6" r="0.71" fill="#7070bc"/><circle cx="194.55" cy="324.21" r="0.55" fill="#4848a0"/><circle cx="205.04" cy="327.47" r="0.95" fill="#7070bc"/><circle cx="204.93" cy="299.95" r="0.81" fill="#7070bc"/><circle cx="199.87" cy="321.68" r="0.89" fill="#4848a0"/><circle cx="189.75" cy="337.14" r="0.57" fill="#5a5aae"/><circle cx="204.28" cy="327.21" r="0.5" fill="#4848a0"/><circle cx="204.04" cy="322.89" r="0.62" fill="#7070bc"/><circle cx="203.33" cy="336.07" r="0.59" fill="#4848a0"/><circle cx="199.57" cy="340.92" r="0.58" fill="#7070bc"/><circle cx="188.67" cy="334.64" r="0.93" fill="#5a5aae"/><circle cx="204.88" cy="327.16" r="0.85" fill="#5a5aae"/><circle cx="201.14" cy="334.1" r="0.66" fill="#7070bc"/><circle cx="207.16" cy="326.83" r="0.71" fill="#7070bc"/><circle cx="199.05" cy="320.31" r="0.45" fill="#5a5aae"/><circle cx="203.16" cy="332.67" r="0.55" fill="#7070bc"/><circle cx="203.52" cy="313.29" r="0.56" fill="#7070bc"/><circle cx="214.43" cy="327.52" r="0.69" fill="#7070bc"/><circle cx="192.4" cy="307.54" r="0.7" fill="#8a8aca"/><circle cx="191.57" cy="309.06" r="0.75" fill="#4848a0"/><circle cx="204.55" cy="331.53" r="0.93" fill="#4848a0"/><circle cx="188.1" cy="334.2" r="0.55" fill="#4848a0"/><circle cx="202.78" cy="318.38" r="0.94" fill="#7070bc"/><circle cx="208.58" cy="330.2" r="0.6" fill="#8a8aca"/><circle cx="201.97" cy="331.49" r="0.91" fill="#8a8aca"/><circle cx="193.9" cy="317.85" r="0.52" fill="#8a8aca"/><circle cx="201" cy="322.25" r="0.47" fill="#5a5aae"/><circle cx="193.61" cy="327.78" r="0.91" fill="#7070bc"/><circle cx="208.7" cy="337.36" r="0.66" fill="#4848a0"/><circle cx="205.81" cy="309.76" r="0.79" fill="#4848a0"/><circle cx="202.08" cy="320.23" r="0.46" fill="#4848a0"/><circle cx="187.89" cy="337.41" r="0.73" fill="#7070bc"/><circle cx="197.18" cy="325.97" r="0.66" fill="#4848a0"/><circle cx="204.28" cy="331.24" r="0.64" fill="#4848a0"/><circle cx="191.19" cy="331.77" r="0.88" fill="#4848a0"/><circle cx="206.06" cy="342.65" r="0.85" fill="#5a5aae"/><circle cx="200.82" cy="324.58" r="0.78" fill="#8a8aca"/><circle cx="198.39" cy="335.63" r="0.66" fill="#8a8aca"/><circle cx="205.3" cy="339.11" r="0.67" fill="#4848a0"/><circle cx="198.52" cy="324.49" r="0.92" fill="#5a5aae"/><circle cx="189.61" cy="318.23" r="0.65" fill="#4848a0"/><circle cx="211.42" cy="335.46" r="0.65" fill="#4848a0"/><circle cx="196.12" cy="305.25" r="0.45" fill="#8a8aca"/><circle cx="217.31" cy="332.5" r="0.54" fill="#8a8aca"/><circle cx="204.25" cy="337.21" r="0.71" fill="#5a5aae"/><circle cx="200.51" cy="329.58" r="0.72" fill="#5a5aae"/><circle cx="211.22" cy="312.31" r="0.85" fill="#4848a0"/><circle cx="201.52" cy="332.53" r="0.68" fill="#8a8aca"/><circle cx="208.74" cy="313.82" r="0.88" fill="#8a8aca"/><circle cx="203.33" cy="314.69" r="0.71" fill="#9a6446"/><circle cx="213.48" cy="305.06" r="0.7" fill="#9a6446"/><circle cx="193.23" cy="323.15" r="0.73" fill="#7a4630"/><circle cx="220.41" cy="321.82" r="0.81" fill="#9a6446"/><circle cx="200.58" cy="319.43" r="0.56" fill="#9a6446"/><circle cx="189.45" cy="334.45" r="0.52" fill="#9a6446"/><circle cx="217.85" cy="310.8" r="0.54" fill="#7a4630"/><circle cx="207.59" cy="329.51" r="0.82" fill="#9a6446"/></g>
<rect x="85.3" y="305.1" width="33.2" height="34.4" fill="none" stroke="#e5342f" stroke-width="1.2"/>
<rect x="64.3" y="350.3" width="15.1" height="14.7" fill="none" stroke="#e5342f" stroke-width="1.1"/>
<line x1="79.4" y1="350.3" x2="85.3" y2="339.5" stroke="#e5342f" stroke-width="1"/>
<line x1="96.2" y1="373" x2="113.8" y2="373" stroke="#111" stroke-width="1.6"/>
<line x1="24.3" y1="304.3" x2="119.8" y2="304.3" stroke="#111" stroke-width="1.3"/>
<line x1="24.3" y1="304.3" x2="24.3" y2="377.6" stroke="#111" stroke-width="1.3"/>
<line x1="24.3" y1="377.6" x2="119.8" y2="377.6" stroke="#111" stroke-width="1.3"/>
<line x1="119.8" y1="304.3" x2="119.8" y2="377.6" stroke="#111" stroke-width="1.3"/>
<rect x="188.3" y="305.1" width="34.2" height="34.4" fill="none" stroke="#e5342f" stroke-width="1.2"/>
<rect x="168.3" y="350.3" width="14.6" height="14.7" fill="none" stroke="#e5342f" stroke-width="1.1"/>
<line x1="182.9" y1="350.3" x2="188.3" y2="339.5" stroke="#e5342f" stroke-width="1"/>
<line x1="200.1" y1="373" x2="217.7" y2="373" stroke="#111" stroke-width="1.6"/>
<line x1="128.3" y1="304.3" x2="223.8" y2="304.3" stroke="#111" stroke-width="1.3"/>
<line x1="128.3" y1="304.3" x2="128.3" y2="377.6" stroke="#111" stroke-width="1.3"/>
<line x1="128.3" y1="377.6" x2="223.8" y2="377.6" stroke="#111" stroke-width="1.3"/>
<line x1="223.8" y1="304.3" x2="223.8" y2="377.6" stroke="#111" stroke-width="1.3"/>
<line x1="258" y1="292.98" x2="258" y2="378.4" stroke="#111" stroke-width="1"/>
<line x1="256.4" y1="377.9" x2="258" y2="377.9" stroke="#111" stroke-width="1"/>
<text x="253.9" y="381" text-anchor="end">0</text>
<line x1="256.4" y1="349.76" x2="258" y2="349.76" stroke="#111" stroke-width="1"/>
<text x="253.9" y="352.86" text-anchor="end">20</text>
<line x1="256.4" y1="321.62" x2="258" y2="321.62" stroke="#111" stroke-width="1"/>
<text x="253.9" y="324.72" text-anchor="end">40</text>
<line x1="256.4" y1="293.48" x2="258" y2="293.48" stroke="#111" stroke-width="1"/>
<text x="253.9" y="296.58" text-anchor="end">60</text>
<line x1="257.5" y1="377.9" x2="332.3" y2="377.9" stroke="#111" stroke-width="1"/>
<line x1="279.5" y1="377.9" x2="279.5" y2="379.6" stroke="#111" stroke-width="1"/>
<line x1="311.3" y1="377.9" x2="311.3" y2="379.6" stroke="#111" stroke-width="1"/>
<text x="239.6" y="335.0" text-anchor="middle" transform="rotate(-90 239.6 335.0)">Ki-67<tspan font-size="5.6" dy="-3.2">+</tspan><tspan dy="3.2"> cells (%)</tspan></text>
<rect x="269.3" y="318.81" width="20.5" height="16.88" fill="#fff" stroke="#111" stroke-width="1"/>
<line x1="269.3" y1="324.43" x2="289.8" y2="324.43" stroke="#111" stroke-width="1"/>
<circle cx="279.5" cy="317.8" r="1.9" fill="#111"/>
<circle cx="279.5" cy="321.5" r="1.9" fill="#111"/>
<circle cx="279.5" cy="324.9" r="1.9" fill="#111"/>
<circle cx="279.5" cy="331" r="1.9" fill="#111"/>
<circle cx="279.5" cy="336.5" r="1.9" fill="#111"/>
<rect x="301" y="352.57" width="20.5" height="13.09" fill="#ee8434" stroke="#111" stroke-width="1"/>
<line x1="301" y1="362.99" x2="321.5" y2="362.99" stroke="#111" stroke-width="1"/>
<circle cx="311.2" cy="352.2" r="1.9" fill="#111"/>
<circle cx="311.2" cy="357.8" r="1.9" fill="#111"/>
<circle cx="311.2" cy="362.5" r="1.9" fill="#111"/>
<circle cx="317.5" cy="363.6" r="1.9" fill="#111"/>
<circle cx="304.5" cy="365.9" r="1.9" fill="#111"/>
<line x1="279.3" y1="304.2" x2="313.9" y2="304.2" stroke="#111" stroke-width="1.3"/>
<text x="296.5" y="301.9" text-anchor="middle">***</text>
<text x="280.2" y="388.6" text-anchor="end" transform="rotate(-29 280.2 388.6)">Vehicle</text>
<text x="312.2" y="388.4" text-anchor="end" transform="rotate(-29 312.2 388.4)">Csn-B</text>
<text x="351.5" y="290.2" font-size="14.3" font-weight="bold">h</text>
<text x="415.6" y="297.8" text-anchor="middle">Input</text>
<line x1="401.3" y1="303" x2="428.8" y2="303" stroke="#333" stroke-width="1.4"/>
<text x="466.6" y="297.8" text-anchor="middle">IP: IgG</text>
<line x1="453" y1="303" x2="480" y2="303" stroke="#333" stroke-width="1.4"/>
<text x="503.4" y="297.8" text-anchor="middle">IP: NR4A1</text>
<line x1="488.8" y1="303" x2="516.3" y2="303" stroke="#333" stroke-width="1.4"/>
<text x="391.3" y="314.5" text-anchor="end">Csn-B</text>
<text x="405.8" y="314.4" text-anchor="middle">-</text>
<text x="423.8" y="314.4" text-anchor="middle">+</text>
<text x="457.5" y="314.4" text-anchor="middle">-</text>
<text x="474.3" y="314.4" text-anchor="middle">+</text>
<text x="492" y="314.4" text-anchor="middle">-</text>
<text x="510" y="314.4" text-anchor="middle">+</text>
<text x="391" y="332.9" font-size="8.2" text-anchor="end">NR4A1</text>
<text x="391.3" y="351.4" text-anchor="end">c-Fos</text>
<text x="391" y="371.9" text-anchor="end">β-actin</text>
<rect x="395.5" y="321.5" width="39" height="17" fill="url(#gb)" stroke="#222" stroke-width="1"/>
<ellipse cx="407" cy="331.8" rx="7.75" ry="4.15" fill="#000" opacity="0.08" filter="url(#bh)"/>
<path d="M401.9 330.01 Q407 329.41 412.1 330.01 A1.15 1.15 0 0 1 412.1 331.95 Q407 331.83 401.9 331.95 A1.15 1.15 0 0 1 401.9 330.01Z" fill="#4c4c4c" filter="url(#bc)"/>
<ellipse cx="423.2" cy="331.7" rx="8.25" ry="4.35" fill="#000" opacity="0.1" filter="url(#bh)"/>
<path d="M417.8 329.71 Q423.2 329.11 428.6 329.71 A1.35 1.35 0 0 1 428.6 332.05 Q423.2 331.93 417.8 332.05 A1.35 1.35 0 0 1 417.8 329.71Z" fill="#282828" filter="url(#bc)"/>
<rect x="395.5" y="341.5" width="39" height="17" fill="url(#gb)" stroke="#222" stroke-width="1"/>
<ellipse cx="414.8" cy="351.8" rx="17" ry="4.5" fill="#9a9a9a" opacity="0.8" filter="url(#b3)"/>
<ellipse cx="406.5" cy="352.2" rx="7.5" ry="3.5" fill="#707070" opacity="1.0" filter="url(#b3)"/>
<ellipse cx="423" cy="352.2" rx="7.5" ry="3.5" fill="#767676" opacity="1.0" filter="url(#b3)"/>
<rect x="395.5" y="360.5" width="39" height="17" fill="url(#gb2)" stroke="#222" stroke-width="1"/>
<ellipse cx="406.2" cy="370.8" rx="9" ry="4.65" fill="#000" opacity="0.08" filter="url(#bh)"/>
<path d="M400.35 368.51 Q406.2 367.91 412.05 368.51 A1.65 1.65 0 0 1 412.05 371.45 Q406.2 371.33 400.35 371.45 A1.65 1.65 0 0 1 400.35 368.51Z" fill="#0e0e0e" filter="url(#bc)"/>
<ellipse cx="423" cy="370.8" rx="9" ry="4.55" fill="#000" opacity="0.08" filter="url(#bh)"/>
<path d="M417.05 368.61 Q423 368.01 428.95 368.61 A1.55 1.55 0 0 1 428.95 371.35 Q423 371.23 417.05 371.35 A1.55 1.55 0 0 1 417.05 368.61Z" fill="#141414" filter="url(#bc)"/>
<line x1="435" y1="370" x2="440" y2="370" stroke="#111" stroke-width="1"/>
<text x="441.8" y="373.06" font-size="8.5">43</text>
<text x="443.8" y="385.6">kDa</text>
<text x="415.3" y="389.8" text-anchor="middle">MCF7</text>
<rect x="440.5" y="321.5" width="83" height="17" fill="url(#gip)" stroke="#222" stroke-width="1"/>
<rect x="486.5" y="326" width="30.5" height="12.5" fill="#b4b4b4" filter="url(#b2)" opacity="0.8"/>
<ellipse cx="492.6" cy="332.6" rx="7.75" ry="4.15" fill="#000" opacity="0.1" filter="url(#bh)"/>
<path d="M487.5 330.81 Q492.6 330.21 497.7 330.81 A1.15 1.15 0 0 1 497.7 332.75 Q492.6 332.63 487.5 332.75 A1.15 1.15 0 0 1 487.5 330.81Z" fill="#404040" filter="url(#bc)"/>
<ellipse cx="510.3" cy="332.4" rx="8.25" ry="4.3" fill="#000" opacity="0.1" filter="url(#bh)"/>
<path d="M504.85 330.46 Q510.3 329.86 515.75 330.46 A1.3 1.3 0 0 1 515.75 332.7 Q510.3 332.58 504.85 332.7 A1.3 1.3 0 0 1 504.85 330.46Z" fill="#262626" filter="url(#bc)"/>
<rect x="440.5" y="341.5" width="83" height="17" fill="#e4e4e4" stroke="#222" stroke-width="1"/>
<ellipse cx="492.6" cy="351.6" rx="6.5" ry="4" fill="#a4a4a4" opacity="1.0" filter="url(#b3)"/>
<ellipse cx="510.3" cy="351.6" rx="7" ry="4.5" fill="#7c7c7c" opacity="1.0" filter="url(#b3)"/>
<line x1="523.6" y1="324.2" x2="529.2" y2="324.2" stroke="#111" stroke-width="1"/>
<text x="530.8" y="327.22" font-size="8.4">100</text>
<line x1="523.6" y1="335.4" x2="529.2" y2="335.4" stroke="#111" stroke-width="1"/>
<text x="530.8" y="338.42" font-size="8.4">72</text>
<line x1="523.6" y1="345.2" x2="529.2" y2="345.2" stroke="#111" stroke-width="1"/>
<text x="530.8" y="348.22" font-size="8.4">72</text>
<line x1="523.6" y1="354.8" x2="529.2" y2="354.8" stroke="#111" stroke-width="1"/>
<text x="530.8" y="357.82" font-size="8.4">55</text>
<text x="532" y="369.8">kDa</text>
<text x="573.3" y="290.2" font-size="14.3" font-weight="bold">i</text>
<text x="644.3" y="281.3" text-anchor="middle">PRDX6</text>
<line x1="612.2" y1="295.5" x2="612.2" y2="381" stroke="#111" stroke-width="1"/>
<line x1="610.6" y1="380.5" x2="612.2" y2="380.5" stroke="#111" stroke-width="1"/>
<text x="608.2" y="383.6" text-anchor="end">0.0</text>
<line x1="610.6" y1="363.6" x2="612.2" y2="363.6" stroke="#111" stroke-width="1"/>
<text x="608.2" y="366.7" text-anchor="end">0.2</text>
<line x1="610.6" y1="346.7" x2="612.2" y2="346.7" stroke="#111" stroke-width="1"/>
<text x="608.2" y="349.8" text-anchor="end">0.4</text>
<line x1="610.6" y1="329.8" x2="612.2" y2="329.8" stroke="#111" stroke-width="1"/>
<text x="608.2" y="332.9" text-anchor="end">0.6</text>
<line x1="610.6" y1="312.9" x2="612.2" y2="312.9" stroke="#111" stroke-width="1"/>
<text x="608.2" y="316" text-anchor="end">0.8</text>
<line x1="610.6" y1="296" x2="612.2" y2="296" stroke="#111" stroke-width="1"/>
<text x="608.2" y="299.1" text-anchor="end">1.0</text>
<line x1="611.7" y1="380.5" x2="676" y2="380.5" stroke="#111" stroke-width="1"/>
<line x1="627.5" y1="380.5" x2="627.5" y2="382.2" stroke="#111" stroke-width="1"/>
<line x1="660.5" y1="380.5" x2="660.5" y2="382.2" stroke="#111" stroke-width="1"/>
<text x="627.5" y="392.2" text-anchor="middle">IgG</text>
<text x="660.5" y="392.2" text-anchor="middle">c-Fos</text>
<text x="590.8" y="338" text-anchor="middle" transform="rotate(-90 590.8 338)">% Input</text>
<rect x="617.4" y="371.2" width="8.2" height="9.3" fill="#c3c3c3" stroke="#111" stroke-width="1"/>
<line x1="621.5" y1="371.63" x2="621.5" y2="370.78" stroke="#111" stroke-width="1"/>
<line x1="619.37" y1="370.78" x2="623.63" y2="370.78" stroke="#111" stroke-width="1"/>
<line x1="619.37" y1="371.63" x2="623.63" y2="371.63" stroke="#111" stroke-width="1"/>
<rect x="629.6" y="370.78" width="8" height="9.72" fill="#f2b47e" stroke="#111" stroke-width="1"/>
<line x1="633.6" y1="371.2" x2="633.6" y2="370.36" stroke="#111" stroke-width="1"/>
<line x1="631.52" y1="370.36" x2="635.68" y2="370.36" stroke="#111" stroke-width="1"/>
<line x1="631.52" y1="371.2" x2="635.68" y2="371.2" stroke="#111" stroke-width="1"/>
<rect x="650.8" y="328.53" width="8" height="51.97" fill="#c3c3c3" stroke="#111" stroke-width="1"/>
<line x1="654.8" y1="331.07" x2="654.8" y2="326" stroke="#111" stroke-width="1"/>
<line x1="652.72" y1="326" x2="656.88" y2="326" stroke="#111" stroke-width="1"/>
<line x1="652.72" y1="331.07" x2="656.88" y2="331.07" stroke="#111" stroke-width="1"/>
<rect x="662.5" y="348.81" width="8" height="31.69" fill="#f2b47e" stroke="#111" stroke-width="1"/>
<line x1="666.5" y1="352.19" x2="666.5" y2="345.43" stroke="#111" stroke-width="1"/>
<line x1="664.42" y1="345.43" x2="668.58" y2="345.43" stroke="#111" stroke-width="1"/>
<line x1="664.42" y1="352.19" x2="668.58" y2="352.19" stroke="#111" stroke-width="1"/>
<text x="666.1" y="345.7" font-size="8.4" text-anchor="middle">**</text>
<rect x="616.5" y="293.6" width="11.5" height="6" fill="#c3c3c3" stroke="#111" stroke-width="1"/>
<text x="635" y="300.1">Vehicle</text>
<rect x="616.5" y="305.5" width="11.5" height="6" fill="#f2b47e" stroke="#111" stroke-width="1"/>
<text x="635" y="312">Csn-B</text>
<text x="1" y="422.3" font-size="14.3" font-weight="bold">j</text>
<line x1="33.85" y1="437" x2="33.85" y2="522.3" stroke="#111" stroke-width="1"/>
<line x1="32.25" y1="521.8" x2="33.85" y2="521.8" stroke="#111" stroke-width="1"/>
<text x="29.85" y="524.9" text-anchor="end">0.0</text>
<line x1="32.25" y1="493.7" x2="33.85" y2="493.7" stroke="#111" stroke-width="1"/>
<text x="29.85" y="496.8" text-anchor="end">0.5</text>
<line x1="32.25" y1="465.6" x2="33.85" y2="465.6" stroke="#111" stroke-width="1"/>
<text x="29.85" y="468.7" text-anchor="end">1.0</text>
<line x1="32.25" y1="437.5" x2="33.85" y2="437.5" stroke="#111" stroke-width="1"/>
<text x="29.85" y="440.6" text-anchor="end">1.5</text>
<line x1="33.35" y1="521.8" x2="144.3" y2="521.8" stroke="#111" stroke-width="1"/>
<line x1="60.6" y1="521.8" x2="60.6" y2="523.5" stroke="#111" stroke-width="1"/>
<line x1="117.6" y1="521.8" x2="117.6" y2="523.5" stroke="#111" stroke-width="1"/>
<text x="60.6" y="534" text-anchor="middle">MCF7</text>
<text x="117.6" y="534" text-anchor="middle">T47D</text>
<text x="17" y="477.5" text-anchor="middle" transform="rotate(-90 17 477.5)">PRDX6 mRNA level</text>
<rect x="42.5" y="465.6" width="15.5" height="56.2" fill="#c3c3c3" stroke="#111" stroke-width="1"/>
<line x1="50.25" y1="467.85" x2="50.25" y2="463.35" stroke="#111" stroke-width="1"/>
<line x1="46.22" y1="463.35" x2="54.28" y2="463.35" stroke="#111" stroke-width="1"/>
<line x1="46.22" y1="467.85" x2="54.28" y2="467.85" stroke="#111" stroke-width="1"/>
<rect x="63.2" y="496.51" width="15.5" height="25.29" fill="#f2b47e" stroke="#111" stroke-width="1"/>
<line x1="70.95" y1="497.63" x2="70.95" y2="495.39" stroke="#111" stroke-width="1"/>
<line x1="66.92" y1="495.39" x2="74.98" y2="495.39" stroke="#111" stroke-width="1"/>
<line x1="66.92" y1="497.63" x2="74.98" y2="497.63" stroke="#111" stroke-width="1"/>
<rect x="99.7" y="465.6" width="15.8" height="56.2" fill="#c3c3c3" stroke="#111" stroke-width="1"/>
<line x1="107.6" y1="466.72" x2="107.6" y2="464.48" stroke="#111" stroke-width="1"/>
<line x1="103.49" y1="464.48" x2="111.71" y2="464.48" stroke="#111" stroke-width="1"/>
<line x1="103.49" y1="466.72" x2="111.71" y2="466.72" stroke="#111" stroke-width="1"/>
<rect x="120.5" y="483.58" width="15.3" height="38.22" fill="#f2b47e" stroke="#111" stroke-width="1"/>
<line x1="128.15" y1="484.99" x2="128.15" y2="482.18" stroke="#111" stroke-width="1"/>
<line x1="124.17" y1="482.18" x2="132.13" y2="482.18" stroke="#111" stroke-width="1"/>
<line x1="124.17" y1="484.99" x2="132.13" y2="484.99" stroke="#111" stroke-width="1"/>
<text x="71" y="494.4" font-size="8.4" text-anchor="middle">***</text>
<text x="128.2" y="480.8" font-size="8.4" text-anchor="middle">***</text>
<rect x="40.8" y="434.5" width="12" height="6" fill="#c3c3c3" stroke="#111" stroke-width="1"/>
<text x="58.8" y="441">Vehicle</text>
<rect x="40.8" y="445.7" width="12" height="6" fill="#f2b47e" stroke="#111" stroke-width="1"/>
<text x="58.8" y="452.2">Csn-B</text>
<text x="165" y="423.8" font-size="14.3" font-weight="bold">k</text>
<text x="227.5" y="443.8" text-anchor="middle">MCF7</text>
<line x1="210.5" y1="448.7" x2="245" y2="448.7" stroke="#333" stroke-width="1.5"/>
<text x="275.6" y="443.8" text-anchor="middle">T47D</text>
<line x1="260" y1="448.7" x2="293.8" y2="448.7" stroke="#333" stroke-width="1.5"/>
<text x="204.5" y="460.6" text-anchor="end">Csn-B</text>
<text x="219.5" y="460.6" text-anchor="middle">-</text>
<text x="238.8" y="460.6" text-anchor="middle">+</text>
<text x="267.5" y="460.6" text-anchor="middle">-</text>
<text x="286.3" y="460.6" text-anchor="middle">+</text>
<text x="204.3" y="477" text-anchor="end">PRDX6</text>
<text x="203.8" y="495.4" font-size="8.2" text-anchor="end">NR4A1</text>
<text x="204.3" y="514.7" text-anchor="end">β-actin</text>
<rect x="206.5" y="464.5" width="43" height="17" fill="url(#gb)" stroke="#222" stroke-width="1"/>
<rect x="206.5" y="484.5" width="43" height="17" fill="url(#gb)" stroke="#222" stroke-width="1"/>
<rect x="206.5" y="503.5" width="43" height="17" fill="url(#gb2)" stroke="#222" stroke-width="1"/>
<rect x="255.5" y="464.5" width="43" height="17" fill="url(#gb)" stroke="#222" stroke-width="1"/>
<rect x="255.5" y="484.5" width="43" height="17" fill="url(#gb)" stroke="#222" stroke-width="1"/>
<rect x="255.5" y="503.5" width="43" height="17" fill="url(#gb2)" stroke="#222" stroke-width="1"/>
<ellipse cx="220" cy="475.8" rx="9" ry="4.9" fill="#000" opacity="0.1" filter="url(#bh)"/>
<path d="M214.4 473.26 Q220 472.66 225.6 473.26 A1.9 1.9 0 0 1 225.6 476.7 Q220 476.58 214.4 476.7 A1.9 1.9 0 0 1 214.4 473.26Z" fill="#161616" filter="url(#bc)"/>
<ellipse cx="239.7" cy="475.9" rx="8.5" ry="4.4" fill="#000" opacity="0.08" filter="url(#bh)"/>
<path d="M234.1 473.86 Q239.7 473.26 245.3 473.86 A1.4 1.4 0 0 1 245.3 476.3 Q239.7 476.18 234.1 476.3 A1.4 1.4 0 0 1 234.1 473.86Z" fill="#2e2e2e" filter="url(#bc)"/>
<ellipse cx="268.7" cy="475.4" rx="8.75" ry="4.8" fill="#000" opacity="0.1" filter="url(#bh)"/>
<path d="M263.25 472.96 Q268.7 472.36 274.15 472.96 A1.8 1.8 0 0 1 274.15 476.2 Q268.7 476.08 263.25 476.2 A1.8 1.8 0 0 1 263.25 472.96Z" fill="#161616" filter="url(#bc)"/>
<ellipse cx="286.4" cy="475.6" rx="8.5" ry="4.5" fill="#000" opacity="0.08" filter="url(#bh)"/>
<path d="M280.9 473.46 Q286.4 472.86 291.9 473.46 A1.5 1.5 0 0 1 291.9 476.1 Q286.4 475.98 280.9 476.1 A1.5 1.5 0 0 1 280.9 473.46Z" fill="#262626" filter="url(#bc)"/>
<ellipse cx="219.1" cy="494.8" rx="7.75" ry="4.4" fill="#000" opacity="0.14" filter="url(#bh)"/>
<path d="M214.25 492.76 Q219.1 492.16 223.95 492.76 A1.4 1.4 0 0 1 223.95 495.2 Q219.1 495.08 214.25 495.2 A1.4 1.4 0 0 1 214.25 492.76Z" fill="#303030" filter="url(#bc)"/>
<ellipse cx="238.6" cy="494.5" rx="8.25" ry="4.8" fill="#000" opacity="0.16" filter="url(#bh)"/>
<path d="M233.65 492.06 Q238.6 491.46 243.55 492.06 A1.8 1.8 0 0 1 243.55 495.3 Q238.6 495.18 233.65 495.3 A1.8 1.8 0 0 1 233.65 492.06Z" fill="#161616" filter="url(#bc)"/>
<ellipse cx="268.3" cy="495.4" rx="8" ry="4.1" fill="#000" opacity="0.08" filter="url(#bh)"/>
<path d="M262.9 493.66 Q268.3 493.06 273.7 493.66 A1.1 1.1 0 0 1 273.7 495.5 Q268.3 495.38 262.9 495.5 A1.1 1.1 0 0 1 262.9 493.66Z" fill="#555" filter="url(#bc)"/>
<ellipse cx="287.6" cy="493.4" rx="8.25" ry="4.6" fill="#000" opacity="0.12" filter="url(#bh)"/>
<path d="M282.45 491.16 Q287.6 490.56 292.75 491.16 A1.6 1.6 0 0 1 292.75 494 Q287.6 493.88 282.45 494 A1.6 1.6 0 0 1 282.45 491.16Z" fill="#1e1e1e" filter="url(#bc)"/>
<ellipse cx="219.8" cy="513.3" rx="8.75" ry="5" fill="#000" opacity="0.1" filter="url(#bh)"/>
<path d="M214.55 510.66 Q219.8 510.06 225.05 510.66 A2 2 0 0 1 225.05 514.3 Q219.8 514.18 214.55 514.3 A2 2 0 0 1 214.55 510.66Z" fill="#0c0c0c" filter="url(#bc)"/>
<ellipse cx="236.4" cy="513.3" rx="8.75" ry="5" fill="#000" opacity="0.1" filter="url(#bh)"/>
<path d="M231.15 510.66 Q236.4 510.06 241.65 510.66 A2 2 0 0 1 241.65 514.3 Q236.4 514.18 231.15 514.3 A2 2 0 0 1 231.15 510.66Z" fill="#0c0c0c" filter="url(#bc)"/>
<ellipse cx="269.2" cy="513.3" rx="8.75" ry="5" fill="#000" opacity="0.1" filter="url(#bh)"/>
<path d="M263.95 510.66 Q269.2 510.06 274.45 510.66 A2 2 0 0 1 274.45 514.3 Q269.2 514.18 263.95 514.3 A2 2 0 0 1 263.95 510.66Z" fill="#0c0c0c" filter="url(#bc)"/>
<ellipse cx="286.7" cy="513.3" rx="8.75" ry="5" fill="#000" opacity="0.1" filter="url(#bh)"/>
<path d="M281.45 510.66 Q286.7 510.06 291.95 510.66 A2 2 0 0 1 291.95 514.3 Q286.7 514.18 281.45 514.3 A2 2 0 0 1 281.45 510.66Z" fill="#0c0c0c" filter="url(#bc)"/>
<line x1="299.4" y1="465.9" x2="305.2" y2="465.9" stroke="#111" stroke-width="1"/>
<text x="306.8" y="468.96" font-size="8.5">37</text>
<line x1="299.4" y1="476.8" x2="305.2" y2="476.8" stroke="#111" stroke-width="1"/>
<text x="306.8" y="479.86" font-size="8.5">25</text>
<line x1="299.4" y1="484.9" x2="305.2" y2="484.9" stroke="#111" stroke-width="1"/>
<text x="306.8" y="487.96" font-size="8.5">100</text>
<line x1="299.4" y1="496.2" x2="305.2" y2="496.2" stroke="#111" stroke-width="1"/>
<text x="306.8" y="499.26" font-size="8.5">72</text>
<line x1="299.4" y1="511.6" x2="305.2" y2="511.6" stroke="#111" stroke-width="1"/>
<text x="306.8" y="514.66" font-size="8.5">43</text>
<text x="308" y="528.3">kDa</text>
<text x="344.6" y="421.4" font-size="14.3" font-weight="bold">l</text>
<text x="435" y="430.2" text-anchor="middle">MCF7</text>
<line x1="380.3" y1="437.05" x2="380.3" y2="522.5" stroke="#111" stroke-width="1"/>
<line x1="378.7" y1="522" x2="380.3" y2="522" stroke="#111" stroke-width="1"/>
<text x="376.3" y="525.1" text-anchor="end">0</text>
<line x1="378.7" y1="493.85" x2="380.3" y2="493.85" stroke="#111" stroke-width="1"/>
<text x="376.3" y="496.95" text-anchor="end">5</text>
<line x1="378.7" y1="465.7" x2="380.3" y2="465.7" stroke="#111" stroke-width="1"/>
<text x="376.3" y="468.8" text-anchor="end">10</text>
<line x1="378.7" y1="437.55" x2="380.3" y2="437.55" stroke="#111" stroke-width="1"/>
<text x="376.3" y="440.65" text-anchor="end">15</text>
<line x1="379.8" y1="522" x2="492" y2="522" stroke="#111" stroke-width="1"/>
<line x1="407" y1="522" x2="407" y2="523.7" stroke="#111" stroke-width="1"/>
<line x1="464.3" y1="522" x2="464.3" y2="523.7" stroke="#111" stroke-width="1"/>
<text x="407" y="534.2" text-anchor="middle">Ctrl</text>
<text x="464.3" y="534.2" text-anchor="middle">NR4A1-KO1</text>
<text x="365.2" y="479.5" text-anchor="middle" transform="rotate(-90 365.2 479.5)">PRDX6 mRNA level</text>
<rect x="389.3" y="516.93" width="15.3" height="5.07" fill="#c3c3c3" stroke="#111" stroke-width="1"/>
<line x1="396.95" y1="517.21" x2="396.95" y2="516.65" stroke="#111" stroke-width="1"/>
<line x1="392.97" y1="516.65" x2="400.93" y2="516.65" stroke="#111" stroke-width="1"/>
<line x1="392.97" y1="517.21" x2="400.93" y2="517.21" stroke="#111" stroke-width="1"/>
<rect x="409.6" y="520.31" width="15.4" height="1.69" fill="#f2b47e" stroke="#111" stroke-width="1"/>
<line x1="417.3" y1="520.59" x2="417.3" y2="520.03" stroke="#111" stroke-width="1"/>
<line x1="413.3" y1="520.03" x2="421.3" y2="520.03" stroke="#111" stroke-width="1"/>
<line x1="413.3" y1="520.59" x2="421.3" y2="520.59" stroke="#111" stroke-width="1"/>
<rect x="446.3" y="479.21" width="15.4" height="42.79" fill="#c3c3c3" stroke="#111" stroke-width="1"/>
<line x1="454" y1="482.03" x2="454" y2="476.4" stroke="#111" stroke-width="1"/>
<line x1="450" y1="476.4" x2="458" y2="476.4" stroke="#111" stroke-width="1"/>
<line x1="450" y1="482.03" x2="458" y2="482.03" stroke="#111" stroke-width="1"/>
<rect x="466.8" y="483.15" width="15.6" height="38.85" fill="#f2b47e" stroke="#111" stroke-width="1"/>
<line x1="474.6" y1="485.12" x2="474.6" y2="481.18" stroke="#111" stroke-width="1"/>
<line x1="470.54" y1="481.18" x2="478.66" y2="481.18" stroke="#111" stroke-width="1"/>
<line x1="470.54" y1="485.12" x2="478.66" y2="485.12" stroke="#111" stroke-width="1"/>
<line x1="396.3" y1="512.1" x2="419.5" y2="512.1" stroke="#111" stroke-width="1"/>
<text x="407.9" y="511" font-size="8.4" text-anchor="middle">**</text>
<line x1="416.3" y1="463.5" x2="475" y2="463.5" stroke="#111" stroke-width="1"/>
<text x="445.5" y="463" font-size="8.4" text-anchor="middle">***</text>
<line x1="455" y1="473" x2="475" y2="473" stroke="#111" stroke-width="1"/>
<text x="464.3" y="472" font-size="7.8" text-anchor="middle">NS</text>
<rect x="386.5" y="438.6" width="11.8" height="6" fill="#c3c3c3" stroke="#111" stroke-width="1"/>
<text x="404.5" y="445">Vehicle</text>
<rect x="386.5" y="450.3" width="11.8" height="6" fill="#f2b47e" stroke="#111" stroke-width="1"/>
<text x="404.5" y="456.7">Csn-B</text>
<text x="513" y="424.5" font-size="14.3" font-weight="bold">m</text>
<text x="613.8" y="430.3" text-anchor="middle">MCF7</text>
<line x1="558.3" y1="437.2" x2="558.3" y2="522.6" stroke="#111" stroke-width="1"/>
<line x1="554.3" y1="522.1" x2="558.3" y2="522.1" stroke="#111" stroke-width="1"/>
<text x="552.1" y="525.2" text-anchor="end">0.0</text>
<line x1="554.3" y1="505.22" x2="558.3" y2="505.22" stroke="#111" stroke-width="1"/>
<text x="552.1" y="508.32" text-anchor="end">0.2</text>
<line x1="554.3" y1="488.34" x2="558.3" y2="488.34" stroke="#111" stroke-width="1"/>
<text x="552.1" y="491.44" text-anchor="end">0.4</text>
<line x1="554.3" y1="471.46" x2="558.3" y2="471.46" stroke="#111" stroke-width="1"/>
<text x="552.1" y="474.56" text-anchor="end">0.6</text>
<line x1="554.3" y1="454.58" x2="558.3" y2="454.58" stroke="#111" stroke-width="1"/>
<text x="552.1" y="457.68" text-anchor="end">0.8</text>
<line x1="554.3" y1="437.7" x2="558.3" y2="437.7" stroke="#111" stroke-width="1"/>
<text x="552.1" y="440.8" text-anchor="end">1.0</text>
<line x1="557.8" y1="522.1" x2="667.4" y2="522.1" stroke="#111" stroke-width="1"/>
<line x1="562.7" y1="522.1" x2="562.7" y2="525.6" stroke="#111" stroke-width="1"/>
<text x="562.7" y="535.6" text-anchor="middle">0</text>
<line x1="587.88" y1="522.1" x2="587.88" y2="525.6" stroke="#111" stroke-width="1"/>
<text x="587.88" y="535.6" text-anchor="middle">24</text>
<line x1="613.06" y1="522.1" x2="613.06" y2="525.6" stroke="#111" stroke-width="1"/>
<text x="613.06" y="535.6" text-anchor="middle">48</text>
<line x1="638.24" y1="522.1" x2="638.24" y2="525.6" stroke="#111" stroke-width="1"/>
<text x="638.24" y="535.6" text-anchor="middle">72</text>
<line x1="663.42" y1="522.1" x2="663.42" y2="525.6" stroke="#111" stroke-width="1"/>
<text x="663.42" y="535.6" text-anchor="middle">96</text>
<text x="672.8" y="535.6">(h)</text>
<text x="536.3" y="479" text-anchor="middle" transform="rotate(-90 536.3 479)">Absorbance</text>
<polyline points="562.7,506.91 587.88,503.53 613.06,499.73 638.24,495.51 663.42,489.18" fill="none" stroke="#ef8a34" stroke-width="1.1" stroke-linejoin="round"/>
<line x1="613.06" y1="500.16" x2="613.06" y2="499.31" stroke="#ef8a34" stroke-width="1.1"/>
<line x1="611.26" y1="500.16" x2="614.86" y2="500.16" stroke="#ef8a34" stroke-width="1.1"/>
<line x1="611.26" y1="499.31" x2="614.86" y2="499.31" stroke="#ef8a34" stroke-width="1.1"/>
<line x1="638.24" y1="497.62" x2="638.24" y2="493.4" stroke="#ef8a34" stroke-width="1.1"/>
<line x1="636.44" y1="497.62" x2="640.04" y2="497.62" stroke="#ef8a34" stroke-width="1.1"/>
<line x1="636.44" y1="493.4" x2="640.04" y2="493.4" stroke="#ef8a34" stroke-width="1.1"/>
<line x1="663.42" y1="490.45" x2="663.42" y2="487.92" stroke="#ef8a34" stroke-width="1.1"/>
<line x1="661.62" y1="490.45" x2="665.22" y2="490.45" stroke="#ef8a34" stroke-width="1.1"/>
<line x1="661.62" y1="487.92" x2="665.22" y2="487.92" stroke="#ef8a34" stroke-width="1.1"/>
<rect x="561" y="505.21" width="3.4" height="3.4" fill="#ef8a34"/>
<rect x="586.18" y="501.83" width="3.4" height="3.4" fill="#ef8a34"/>
<rect x="611.36" y="498.03" width="3.4" height="3.4" fill="#ef8a34"/>
<rect x="636.54" y="493.81" width="3.4" height="3.4" fill="#ef8a34"/>
<rect x="661.72" y="487.48" width="3.4" height="3.4" fill="#ef8a34"/>
<polyline points="562.7,506.49 587.88,501.84 613.06,495.09 638.24,483.7 663.42,471.04" fill="none" stroke="#304f9c" stroke-width="1.1" stroke-linejoin="round"/>
<line x1="613.06" y1="495.51" x2="613.06" y2="494.67" stroke="#304f9c" stroke-width="1.1"/>
<line x1="611.26" y1="495.51" x2="614.86" y2="495.51" stroke="#304f9c" stroke-width="1.1"/>
<line x1="611.26" y1="494.67" x2="614.86" y2="494.67" stroke="#304f9c" stroke-width="1.1"/>
<line x1="638.24" y1="485.81" x2="638.24" y2="481.59" stroke="#304f9c" stroke-width="1.1"/>
<line x1="636.44" y1="485.81" x2="640.04" y2="485.81" stroke="#304f9c" stroke-width="1.1"/>
<line x1="636.44" y1="481.59" x2="640.04" y2="481.59" stroke="#304f9c" stroke-width="1.1"/>
<line x1="663.42" y1="473.57" x2="663.42" y2="468.51" stroke="#304f9c" stroke-width="1.1"/>
<line x1="661.62" y1="473.57" x2="665.22" y2="473.57" stroke="#304f9c" stroke-width="1.1"/>
<line x1="661.62" y1="468.51" x2="665.22" y2="468.51" stroke="#304f9c" stroke-width="1.1"/>
<polygon points="562.7,504.29 564.7,507.99 560.7,507.99" fill="#304f9c"/>
<polygon points="587.88,499.64 589.88,503.34 585.88,503.34" fill="#304f9c"/>
<polygon points="613.06,492.89 615.06,496.59 611.06,496.59" fill="#304f9c"/>
<polygon points="638.24,481.5 640.24,485.2 636.24,485.2" fill="#304f9c"/>
<polygon points="663.42,468.84 665.42,472.54 661.42,472.54" fill="#304f9c"/>
<polyline points="562.7,506.06 587.88,501 613.06,490.87 638.24,477.37 663.42,461.75" fill="none" stroke="#111" stroke-width="1.1" stroke-linejoin="round"/>
<line x1="587.88" y1="501.84" x2="587.88" y2="500.16" stroke="#111" stroke-width="1.1"/>
<line x1="586.08" y1="501.84" x2="589.68" y2="501.84" stroke="#111" stroke-width="1.1"/>
<line x1="586.08" y1="500.16" x2="589.68" y2="500.16" stroke="#111" stroke-width="1.1"/>
<line x1="613.06" y1="491.29" x2="613.06" y2="490.45" stroke="#111" stroke-width="1.1"/>
<line x1="611.26" y1="491.29" x2="614.86" y2="491.29" stroke="#111" stroke-width="1.1"/>
<line x1="611.26" y1="490.45" x2="614.86" y2="490.45" stroke="#111" stroke-width="1.1"/>
<line x1="638.24" y1="479.06" x2="638.24" y2="475.68" stroke="#111" stroke-width="1.1"/>
<line x1="636.44" y1="479.06" x2="640.04" y2="479.06" stroke="#111" stroke-width="1.1"/>
<line x1="636.44" y1="475.68" x2="640.04" y2="475.68" stroke="#111" stroke-width="1.1"/>
<line x1="663.42" y1="463.44" x2="663.42" y2="460.07" stroke="#111" stroke-width="1.1"/>
<line x1="661.62" y1="463.44" x2="665.22" y2="463.44" stroke="#111" stroke-width="1.1"/>
<line x1="661.62" y1="460.07" x2="665.22" y2="460.07" stroke="#111" stroke-width="1.1"/>
<circle cx="562.7" cy="506.06" r="1.9" fill="#111"/>
<circle cx="587.88" cy="501" r="1.9" fill="#111"/>
<circle cx="613.06" cy="490.87" r="1.9" fill="#111"/>
<circle cx="638.24" cy="477.37" r="1.9" fill="#111"/>
<circle cx="663.42" cy="461.75" r="1.9" fill="#111"/>
<line x1="561.3" y1="439.8" x2="573.6" y2="439.8" stroke="#111" stroke-width="1.1"/>
<circle cx="567.45" cy="439.8" r="1.9" fill="#111"/>
<text x="579.7" y="442.9">Vehicle + OE-EV</text>
<line x1="561.3" y1="450.8" x2="573.6" y2="450.8" stroke="#ef8a34" stroke-width="1.1"/>
<rect x="565.75" y="449.1" width="3.4" height="3.4" fill="#ef8a34"/>
<text x="579.7" y="453.9">Csn-B + OE-EV</text>
<line x1="561.3" y1="462" x2="573.6" y2="462" stroke="#304f9c" stroke-width="1.1"/>
<polygon points="567.45,459.8 569.45,463.5 565.45,463.5" fill="#304f9c"/>
<text x="579.7" y="465.1">Csn-B + OE-c-Fos</text>
<line x1="667.6" y1="460.8" x2="667.6" y2="471.6" stroke="#304f9c" stroke-width="1"/>
<text x="666.13" y="464.5" text-anchor="middle" transform="rotate(90 666.13 464.5)">*</text>
<line x1="672.3" y1="462" x2="672.3" y2="489" stroke="#ef8a34" stroke-width="1"/>
<text x="672.13" y="476" text-anchor="middle" transform="rotate(90 672.13 476)">***</text></svg>
</body></html>
